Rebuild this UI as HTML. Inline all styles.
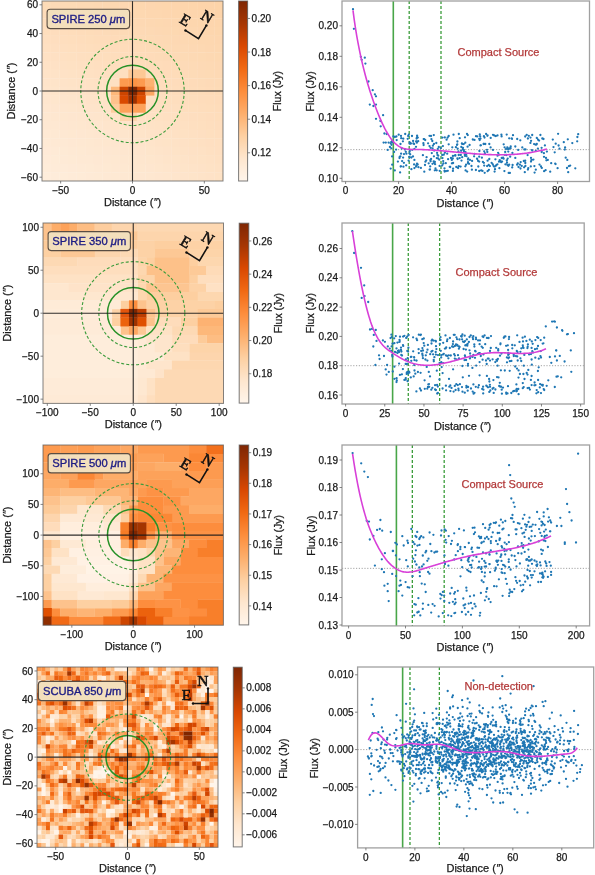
<!DOCTYPE html>
<html><head><meta charset="utf-8"><style>
html,body{margin:0;padding:0;background:#fff;}
svg{display:block;filter:blur(0.3px);font-family:"Liberation Sans",sans-serif;}
</style></head><body>
<svg width="595" height="875" viewBox="0 0 595 875">
<defs><clipPath id="L1c"><rect x="42" y="1" width="181.00" height="180.00"/></clipPath><linearGradient id="L1g" x1="0" y1="0" x2="0" y2="1"><stop offset="0.000" stop-color="#7f2704"/><stop offset="0.125" stop-color="#a63603"/><stop offset="0.250" stop-color="#d94801"/><stop offset="0.375" stop-color="#f16913"/><stop offset="0.500" stop-color="#fd8d3c"/><stop offset="0.625" stop-color="#fdae6b"/><stop offset="0.750" stop-color="#fdd0a2"/><stop offset="0.875" stop-color="#fee6ce"/><stop offset="1.000" stop-color="#fff5eb"/></linearGradient><clipPath id="L2c"><rect x="43" y="223" width="180.50" height="180.40"/></clipPath><linearGradient id="L2g" x1="0" y1="0" x2="0" y2="1"><stop offset="0.000" stop-color="#7f2704"/><stop offset="0.125" stop-color="#a63603"/><stop offset="0.250" stop-color="#d94801"/><stop offset="0.375" stop-color="#f16913"/><stop offset="0.500" stop-color="#fd8d3c"/><stop offset="0.625" stop-color="#fdae6b"/><stop offset="0.750" stop-color="#fdd0a2"/><stop offset="0.875" stop-color="#fee6ce"/><stop offset="1.000" stop-color="#fff5eb"/></linearGradient><clipPath id="L3c"><rect x="43" y="445" width="180.40" height="180.20"/></clipPath><linearGradient id="L3g" x1="0" y1="0" x2="0" y2="1"><stop offset="0.000" stop-color="#7f2704"/><stop offset="0.125" stop-color="#a63603"/><stop offset="0.250" stop-color="#d94801"/><stop offset="0.375" stop-color="#f16913"/><stop offset="0.500" stop-color="#fd8d3c"/><stop offset="0.625" stop-color="#fdae6b"/><stop offset="0.750" stop-color="#fdd0a2"/><stop offset="0.875" stop-color="#fee6ce"/><stop offset="1.000" stop-color="#fff5eb"/></linearGradient><clipPath id="L4c"><rect x="37" y="667" width="181.00" height="180.30"/></clipPath><linearGradient id="L4g" x1="0" y1="0" x2="0" y2="1"><stop offset="0.000" stop-color="#7f2704"/><stop offset="0.125" stop-color="#a63603"/><stop offset="0.250" stop-color="#d94801"/><stop offset="0.375" stop-color="#f16913"/><stop offset="0.500" stop-color="#fd8d3c"/><stop offset="0.625" stop-color="#fdae6b"/><stop offset="0.750" stop-color="#fdd0a2"/><stop offset="0.875" stop-color="#fee6ce"/><stop offset="1.000" stop-color="#fff5eb"/></linearGradient><clipPath id="R1c"><rect x="342" y="1" width="247.50" height="180.50"/></clipPath><clipPath id="R2c"><rect x="342" y="223" width="242.20" height="181.00"/></clipPath><clipPath id="R3c"><rect x="342" y="445" width="247.60" height="180.90"/></clipPath><clipPath id="R4c"><rect x="357.6" y="667" width="236.10" height="180.90"/></clipPath><filter id="hb60" x="-5%" y="-5%" width="110%" height="110%"><feGaussianBlur stdDeviation="0.6"/></filter><filter id="hb45" x="-5%" y="-5%" width="110%" height="110%"><feGaussianBlur stdDeviation="0.45"/></filter></defs>
<rect width="595" height="875" fill="#fff"/>
<g clip-path="url(#L1c)">
<g filter="url(#hb60)"><g transform="translate(42.000,1.000) scale(8.6190,8.5714)">
<path d="M-2 -2h1.04v1.04h-1.04zM-1 -2h1.04v1.04h-1.04zM0 -2h1.04v1.04h-1.04zM-2 -1h1.04v1.04h-1.04zM-1 -1h1.04v1.04h-1.04zM0 -1h1.04v1.04h-1.04zM-2 0h1.04v1.04h-1.04zM-1 0h1.04v1.04h-1.04zM0 0h1.04v1.04h-1.04zM3 1h1.04v1.04h-1.04zM5 2h1.04v1.04h-1.04zM10 4h1.04v1.04h-1.04zM12 5h1.04v1.04h-1.04zM17 8h1.04v1.04h-1.04zM20 10h1.04v1.04h-1.04zM21 10h1.04v1.04h-1.04zM22 10h1.04v1.04h-1.04z" fill="#fddbb7"/>
<path d="M1 -2h1.04v1.04h-1.04zM2 -2h1.04v1.04h-1.04zM1 -1h1.04v1.04h-1.04zM2 -1h1.04v1.04h-1.04zM1 0h1.04v1.04h-1.04zM2 0h1.04v1.04h-1.04zM4 1h1.04v1.04h-1.04zM5 1h1.04v1.04h-1.04zM7 2h1.04v1.04h-1.04zM9 3h1.04v1.04h-1.04zM11 4h1.04v1.04h-1.04zM13 5h1.04v1.04h-1.04zM15 6h1.04v1.04h-1.04zM17 7h1.04v1.04h-1.04zM18 8h1.04v1.04h-1.04zM20 9h1.04v1.04h-1.04zM21 9h1.04v1.04h-1.04zM22 9h1.04v1.04h-1.04z" fill="#fddab6"/>
<path d="M3 -2h1.04v1.04h-1.04zM3 -1h1.04v1.04h-1.04zM3 0h1.04v1.04h-1.04zM8 2h1.04v1.04h-1.04zM10 3h1.04v1.04h-1.04zM12 4h1.04v1.04h-1.04zM14 5h1.04v1.04h-1.04zM16 6h1.04v1.04h-1.04zM19 8h1.04v1.04h-1.04z" fill="#fddab5"/>
<path d="M4 -2h1.04v1.04h-1.04zM5 -2h1.04v1.04h-1.04zM4 -1h1.04v1.04h-1.04zM5 -1h1.04v1.04h-1.04zM4 0h1.04v1.04h-1.04zM5 0h1.04v1.04h-1.04zM7 1h1.04v1.04h-1.04zM9 2h1.04v1.04h-1.04zM10 2h1.04v1.04h-1.04zM12 3h1.04v1.04h-1.04zM14 4h1.04v1.04h-1.04zM15 5h1.04v1.04h-1.04zM16 5h1.04v1.04h-1.04zM17 6h1.04v1.04h-1.04zM19 7h1.04v1.04h-1.04zM20 8h1.04v1.04h-1.04zM21 8h1.04v1.04h-1.04zM22 8h1.04v1.04h-1.04z" fill="#fdd9b4"/>
<path d="M6 -2h1.04v1.04h-1.04zM6 -1h1.04v1.04h-1.04zM6 0h1.04v1.04h-1.04zM9 1h1.04v1.04h-1.04zM11 2h1.04v1.04h-1.04zM13 3h1.04v1.04h-1.04zM15 4h1.04v1.04h-1.04zM17 5h1.04v1.04h-1.04zM20 7h1.04v1.04h-1.04zM21 7h1.04v1.04h-1.04zM22 7h1.04v1.04h-1.04z" fill="#fdd8b3"/>
<path d="M7 -2h1.04v1.04h-1.04zM7 -1h1.04v1.04h-1.04zM7 0h1.04v1.04h-1.04zM10 1h1.04v1.04h-1.04zM12 2h1.04v1.04h-1.04zM14 3h1.04v1.04h-1.04zM16 4h1.04v1.04h-1.04zM18 5h1.04v1.04h-1.04zM19 6h1.04v1.04h-1.04z" fill="#fdd8b2"/>
<path d="M8 -2h1.04v1.04h-1.04zM8 -1h1.04v1.04h-1.04zM8 0h1.04v1.04h-1.04zM11 1h1.04v1.04h-1.04zM13 2h1.04v1.04h-1.04zM15 3h1.04v1.04h-1.04zM17 4h1.04v1.04h-1.04zM20 6h1.04v1.04h-1.04zM21 6h1.04v1.04h-1.04zM22 6h1.04v1.04h-1.04z" fill="#fdd8b1"/>
<path d="M9 -2h1.04v1.04h-1.04zM9 -1h1.04v1.04h-1.04zM9 0h1.04v1.04h-1.04zM14 2h1.04v1.04h-1.04zM16 3h1.04v1.04h-1.04zM19 5h1.04v1.04h-1.04z" fill="#fdd7b1"/>
<path d="M10 -2h1.04v1.04h-1.04zM10 -1h1.04v1.04h-1.04zM10 0h1.04v1.04h-1.04zM12 1h1.04v1.04h-1.04zM13 1h1.04v1.04h-1.04zM15 2h1.04v1.04h-1.04zM17 3h1.04v1.04h-1.04zM18 4h1.04v1.04h-1.04zM19 4h1.04v1.04h-1.04zM20 5h1.04v1.04h-1.04zM21 5h1.04v1.04h-1.04zM22 5h1.04v1.04h-1.04z" fill="#fdd7b0"/>
<path d="M11 -2h1.04v1.04h-1.04zM11 -1h1.04v1.04h-1.04zM11 0h1.04v1.04h-1.04z" fill="#fdd7af"/>
<path d="M12 -2h1.04v1.04h-1.04zM12 -1h1.04v1.04h-1.04zM12 0h1.04v1.04h-1.04zM14 1h1.04v1.04h-1.04zM16 2h1.04v1.04h-1.04zM18 3h1.04v1.04h-1.04zM20 4h1.04v1.04h-1.04zM21 4h1.04v1.04h-1.04zM22 4h1.04v1.04h-1.04z" fill="#fdd6af"/>
<path d="M13 -2h1.04v1.04h-1.04zM13 -1h1.04v1.04h-1.04zM13 0h1.04v1.04h-1.04zM15 1h1.04v1.04h-1.04zM17 2h1.04v1.04h-1.04zM19 3h1.04v1.04h-1.04z" fill="#fdd6ae"/>
<path d="M14 -2h1.04v1.04h-1.04zM14 -1h1.04v1.04h-1.04zM14 0h1.04v1.04h-1.04zM16 1h1.04v1.04h-1.04zM18 2h1.04v1.04h-1.04zM20 3h1.04v1.04h-1.04zM21 3h1.04v1.04h-1.04zM22 3h1.04v1.04h-1.04z" fill="#fdd6ad"/>
<path d="M15 -2h1.04v1.04h-1.04zM15 -1h1.04v1.04h-1.04zM15 0h1.04v1.04h-1.04zM17 1h1.04v1.04h-1.04zM19 2h1.04v1.04h-1.04zM9 13h1.04v1.04h-1.04zM10 13h1.04v1.04h-1.04z" fill="#fdd5ad"/>
<path d="M16 -2h1.04v1.04h-1.04zM16 -1h1.04v1.04h-1.04zM16 0h1.04v1.04h-1.04zM18 1h1.04v1.04h-1.04zM20 2h1.04v1.04h-1.04zM21 2h1.04v1.04h-1.04zM22 2h1.04v1.04h-1.04z" fill="#fdd5ac"/>
<path d="M17 -2h1.04v1.04h-1.04zM17 -1h1.04v1.04h-1.04zM17 0h1.04v1.04h-1.04zM19 1h1.04v1.04h-1.04z" fill="#fdd5ab"/>
<path d="M18 -2h1.04v1.04h-1.04zM19 -2h1.04v1.04h-1.04zM18 -1h1.04v1.04h-1.04zM19 -1h1.04v1.04h-1.04zM18 0h1.04v1.04h-1.04zM19 0h1.04v1.04h-1.04zM20 1h1.04v1.04h-1.04zM21 1h1.04v1.04h-1.04zM22 1h1.04v1.04h-1.04z" fill="#fdd4aa"/>
<path d="M20 -2h1.04v1.04h-1.04zM21 -2h1.04v1.04h-1.04zM22 -2h1.04v1.04h-1.04zM20 -1h1.04v1.04h-1.04zM21 -1h1.04v1.04h-1.04zM22 -1h1.04v1.04h-1.04zM20 0h1.04v1.04h-1.04zM21 0h1.04v1.04h-1.04zM22 0h1.04v1.04h-1.04z" fill="#fdd4a9"/>
<path d="M-2 1h1.04v1.04h-1.04zM-1 1h1.04v1.04h-1.04zM0 1h1.04v1.04h-1.04zM3 2h1.04v1.04h-1.04zM5 3h1.04v1.04h-1.04zM15 8h1.04v1.04h-1.04zM18 10h1.04v1.04h-1.04z" fill="#fedcb9"/>
<path d="M1 1h1.04v1.04h-1.04zM4 2h1.04v1.04h-1.04zM11 5h1.04v1.04h-1.04zM16 8h1.04v1.04h-1.04zM19 10h1.04v1.04h-1.04z" fill="#fedbb8"/>
<path d="M2 1h1.04v1.04h-1.04zM7 3h1.04v1.04h-1.04zM9 4h1.04v1.04h-1.04zM13 6h1.04v1.04h-1.04zM15 7h1.04v1.04h-1.04zM18 9h1.04v1.04h-1.04z" fill="#fddbb8"/>
<path d="M6 1h1.04v1.04h-1.04zM11 3h1.04v1.04h-1.04zM13 4h1.04v1.04h-1.04zM18 7h1.04v1.04h-1.04z" fill="#fdd9b5"/>
<path d="M8 1h1.04v1.04h-1.04zM18 6h1.04v1.04h-1.04z" fill="#fdd9b3"/>
<path d="M-2 2h1.04v1.04h-1.04zM-1 2h1.04v1.04h-1.04zM0 2h1.04v1.04h-1.04zM3 3h1.04v1.04h-1.04zM5 4h1.04v1.04h-1.04zM11 7h1.04v1.04h-1.04zM13 8h1.04v1.04h-1.04zM16 10h1.04v1.04h-1.04zM19 12h1.04v1.04h-1.04zM20 13h1.04v1.04h-1.04zM21 13h1.04v1.04h-1.04zM22 13h1.04v1.04h-1.04z" fill="#feddbb"/>
<path d="M1 2h1.04v1.04h-1.04zM8 5h1.04v1.04h-1.04zM10 6h1.04v1.04h-1.04zM15 9h1.04v1.04h-1.04zM18 11h1.04v1.04h-1.04z" fill="#fedcbb"/>
<path d="M2 2h1.04v1.04h-1.04zM4 3h1.04v1.04h-1.04zM6 4h1.04v1.04h-1.04zM7 4h1.04v1.04h-1.04zM9 5h1.04v1.04h-1.04zM11 6h1.04v1.04h-1.04zM12 7h1.04v1.04h-1.04zM13 7h1.04v1.04h-1.04zM14 8h1.04v1.04h-1.04zM16 9h1.04v1.04h-1.04zM17 10h1.04v1.04h-1.04zM19 11h1.04v1.04h-1.04zM20 12h1.04v1.04h-1.04zM21 12h1.04v1.04h-1.04zM22 12h1.04v1.04h-1.04z" fill="#fedcba"/>
<path d="M6 2h1.04v1.04h-1.04zM8 3h1.04v1.04h-1.04zM14 6h1.04v1.04h-1.04zM16 7h1.04v1.04h-1.04zM19 9h1.04v1.04h-1.04z" fill="#fddab7"/>
<path d="M-2 3h1.04v1.04h-1.04zM-1 3h1.04v1.04h-1.04zM0 3h1.04v1.04h-1.04zM3 4h1.04v1.04h-1.04zM5 5h1.04v1.04h-1.04zM7 6h1.04v1.04h-1.04zM9 7h1.04v1.04h-1.04zM14 10h1.04v1.04h-1.04zM17 12h1.04v1.04h-1.04z" fill="#fedebd"/>
<path d="M1 3h1.04v1.04h-1.04zM13 9h1.04v1.04h-1.04zM16 11h1.04v1.04h-1.04zM19 13h1.04v1.04h-1.04zM20 14h1.04v1.04h-1.04zM21 14h1.04v1.04h-1.04zM22 14h1.04v1.04h-1.04z" fill="#feddbd"/>
<path d="M2 3h1.04v1.04h-1.04zM4 4h1.04v1.04h-1.04zM6 5h1.04v1.04h-1.04zM7 5h1.04v1.04h-1.04zM8 6h1.04v1.04h-1.04zM9 6h1.04v1.04h-1.04zM10 7h1.04v1.04h-1.04zM12 8h1.04v1.04h-1.04zM14 9h1.04v1.04h-1.04zM15 10h1.04v1.04h-1.04zM17 11h1.04v1.04h-1.04zM18 12h1.04v1.04h-1.04z" fill="#feddbc"/>
<path d="M6 3h1.04v1.04h-1.04zM8 4h1.04v1.04h-1.04zM10 5h1.04v1.04h-1.04zM12 6h1.04v1.04h-1.04zM14 7h1.04v1.04h-1.04zM17 9h1.04v1.04h-1.04zM20 11h1.04v1.04h-1.04zM21 11h1.04v1.04h-1.04zM22 11h1.04v1.04h-1.04z" fill="#fedbb9"/>
<path d="M-2 4h1.04v1.04h-1.04zM-1 4h1.04v1.04h-1.04zM0 4h1.04v1.04h-1.04zM2 5h1.04v1.04h-1.04zM4 6h1.04v1.04h-1.04zM6 7h1.04v1.04h-1.04zM8 8h1.04v1.04h-1.04zM13 11h1.04v1.04h-1.04zM15 12h1.04v1.04h-1.04zM16 13h1.04v1.04h-1.04zM17 14h1.04v1.04h-1.04zM20 16h1.04v1.04h-1.04zM21 16h1.04v1.04h-1.04zM22 16h1.04v1.04h-1.04z" fill="#fedfc0"/>
<path d="M1 4h1.04v1.04h-1.04zM13 10h1.04v1.04h-1.04zM17 13h1.04v1.04h-1.04z" fill="#fedebf"/>
<path d="M2 4h1.04v1.04h-1.04zM4 5h1.04v1.04h-1.04zM6 6h1.04v1.04h-1.04zM8 7h1.04v1.04h-1.04zM15 11h1.04v1.04h-1.04zM16 12h1.04v1.04h-1.04zM18 13h1.04v1.04h-1.04zM19 14h1.04v1.04h-1.04zM20 15h1.04v1.04h-1.04zM21 15h1.04v1.04h-1.04zM22 15h1.04v1.04h-1.04z" fill="#fedebe"/>
<path d="M-2 5h1.04v1.04h-1.04zM-1 5h1.04v1.04h-1.04zM0 5h1.04v1.04h-1.04zM2 6h1.04v1.04h-1.04zM4 7h1.04v1.04h-1.04zM6 8h1.04v1.04h-1.04zM8 9h1.04v1.04h-1.04zM13 12h1.04v1.04h-1.04zM14 13h1.04v1.04h-1.04zM16 14h1.04v1.04h-1.04zM17 15h1.04v1.04h-1.04zM18 16h1.04v1.04h-1.04zM19 17h1.04v1.04h-1.04zM20 18h1.04v1.04h-1.04zM21 18h1.04v1.04h-1.04zM22 18h1.04v1.04h-1.04z" fill="#fee0c2"/>
<path d="M1 5h1.04v1.04h-1.04zM14 12h1.04v1.04h-1.04zM18 15h1.04v1.04h-1.04zM19 16h1.04v1.04h-1.04zM20 17h1.04v1.04h-1.04zM21 17h1.04v1.04h-1.04zM22 17h1.04v1.04h-1.04z" fill="#fedfc1"/>
<path d="M3 5h1.04v1.04h-1.04zM5 6h1.04v1.04h-1.04zM7 7h1.04v1.04h-1.04zM9 8h1.04v1.04h-1.04zM14 11h1.04v1.04h-1.04zM18 14h1.04v1.04h-1.04zM19 15h1.04v1.04h-1.04z" fill="#fedfbf"/>
<path d="M-2 6h1.04v1.04h-1.04zM-1 6h1.04v1.04h-1.04zM0 6h1.04v1.04h-1.04zM2 7h1.04v1.04h-1.04zM4 8h1.04v1.04h-1.04zM6 9h1.04v1.04h-1.04zM14 14h1.04v1.04h-1.04zM15 15h1.04v1.04h-1.04zM18 17h1.04v1.04h-1.04zM19 18h1.04v1.04h-1.04zM20 19h1.04v1.04h-1.04zM21 19h1.04v1.04h-1.04zM22 19h1.04v1.04h-1.04z" fill="#fee1c4"/>
<path d="M1 6h1.04v1.04h-1.04zM7 9h1.04v1.04h-1.04zM12 12h1.04v1.04h-1.04zM15 14h1.04v1.04h-1.04z" fill="#fee0c3"/>
<path d="M3 6h1.04v1.04h-1.04zM5 7h1.04v1.04h-1.04zM7 8h1.04v1.04h-1.04zM12 11h1.04v1.04h-1.04zM15 13h1.04v1.04h-1.04z" fill="#fee0c1"/>
<path d="M-2 7h1.04v1.04h-1.04zM-1 7h1.04v1.04h-1.04zM0 7h1.04v1.04h-1.04zM2 8h1.04v1.04h-1.04zM4 9h1.04v1.04h-1.04zM6 10h1.04v1.04h-1.04zM11 13h1.04v1.04h-1.04zM12 14h1.04v1.04h-1.04zM14 15h1.04v1.04h-1.04zM15 16h1.04v1.04h-1.04zM16 17h1.04v1.04h-1.04zM17 18h1.04v1.04h-1.04z" fill="#fee2c6"/>
<path d="M1 7h1.04v1.04h-1.04zM7 10h1.04v1.04h-1.04zM12 13h1.04v1.04h-1.04zM16 16h1.04v1.04h-1.04zM17 17h1.04v1.04h-1.04z" fill="#fee1c5"/>
<path d="M3 7h1.04v1.04h-1.04zM5 8h1.04v1.04h-1.04zM13 13h1.04v1.04h-1.04zM16 15h1.04v1.04h-1.04zM17 16h1.04v1.04h-1.04z" fill="#fee1c3"/>
<path d="M-2 8h1.04v1.04h-1.04zM-1 8h1.04v1.04h-1.04zM0 8h1.04v1.04h-1.04zM2 9h1.04v1.04h-1.04zM4 10h1.04v1.04h-1.04zM6 11h1.04v1.04h-1.04zM11 14h1.04v1.04h-1.04zM12 15h1.04v1.04h-1.04zM13 16h1.04v1.04h-1.04zM16 18h1.04v1.04h-1.04zM17 19h1.04v1.04h-1.04zM18 20h1.04v1.04h-1.04zM18 21h1.04v1.04h-1.04zM18 22h1.04v1.04h-1.04z" fill="#fee3c8"/>
<path d="M1 8h1.04v1.04h-1.04zM3 9h1.04v1.04h-1.04zM14 16h1.04v1.04h-1.04zM15 17h1.04v1.04h-1.04z" fill="#fee3c7"/>
<path d="M3 8h1.04v1.04h-1.04zM5 9h1.04v1.04h-1.04zM13 14h1.04v1.04h-1.04zM18 18h1.04v1.04h-1.04zM19 19h1.04v1.04h-1.04zM20 20h1.04v1.04h-1.04zM21 20h1.04v1.04h-1.04zM22 20h1.04v1.04h-1.04zM20 21h1.04v1.04h-1.04zM21 21h1.04v1.04h-1.04zM22 21h1.04v1.04h-1.04zM20 22h1.04v1.04h-1.04zM21 22h1.04v1.04h-1.04zM22 22h1.04v1.04h-1.04z" fill="#fee2c5"/>
<path d="M10 8h1.04v1.04h-1.04zM11 8h1.04v1.04h-1.04z" fill="#fdc895"/>
<path d="M-2 9h1.04v1.04h-1.04zM-1 9h1.04v1.04h-1.04zM0 9h1.04v1.04h-1.04zM2 10h1.04v1.04h-1.04zM4 11h1.04v1.04h-1.04zM6 12h1.04v1.04h-1.04zM7 13h1.04v1.04h-1.04zM9 14h1.04v1.04h-1.04zM10 15h1.04v1.04h-1.04zM12 16h1.04v1.04h-1.04zM13 17h1.04v1.04h-1.04zM14 18h1.04v1.04h-1.04z" fill="#fee4ca"/>
<path d="M1 9h1.04v1.04h-1.04zM3 10h1.04v1.04h-1.04zM8 13h1.04v1.04h-1.04zM11 15h1.04v1.04h-1.04zM15 18h1.04v1.04h-1.04zM16 19h1.04v1.04h-1.04zM17 20h1.04v1.04h-1.04zM17 21h1.04v1.04h-1.04zM17 22h1.04v1.04h-1.04z" fill="#fee4c9"/>
<path d="M9 9h1.04v1.04h-1.04zM11 9h1.04v1.04h-1.04z" fill="#fd9a4f"/>
<path d="M10 9h1.04v1.04h-1.04z" fill="#fd9547"/>
<path d="M12 9h1.04v1.04h-1.04z" fill="#fdb272"/>
<path d="M-2 10h1.04v1.04h-1.04zM-1 10h1.04v1.04h-1.04zM0 10h1.04v1.04h-1.04zM2 11h1.04v1.04h-1.04zM4 12h1.04v1.04h-1.04zM6 13h1.04v1.04h-1.04zM7 14h1.04v1.04h-1.04zM9 15h1.04v1.04h-1.04zM10 16h1.04v1.04h-1.04zM13 18h1.04v1.04h-1.04zM14 19h1.04v1.04h-1.04zM15 20h1.04v1.04h-1.04zM15 21h1.04v1.04h-1.04zM15 22h1.04v1.04h-1.04z" fill="#fee5cc"/>
<path d="M1 10h1.04v1.04h-1.04zM3 11h1.04v1.04h-1.04zM8 14h1.04v1.04h-1.04zM12 17h1.04v1.04h-1.04z" fill="#fee5cb"/>
<path d="M5 10h1.04v1.04h-1.04zM7 11h1.04v1.04h-1.04zM13 15h1.04v1.04h-1.04zM18 19h1.04v1.04h-1.04zM19 20h1.04v1.04h-1.04zM19 21h1.04v1.04h-1.04zM19 22h1.04v1.04h-1.04z" fill="#fee2c7"/>
<path d="M8 10h1.04v1.04h-1.04z" fill="#fdb87a"/>
<path d="M9 10h1.04v1.04h-1.04zM11 10h1.04v1.04h-1.04z" fill="#cd4401"/>
<path d="M10 10h1.04v1.04h-1.04z" fill="#7f2704"/>
<path d="M12 10h1.04v1.04h-1.04z" fill="#fda762"/>
<path d="M-2 11h1.04v1.04h-1.04zM-1 11h1.04v1.04h-1.04zM0 11h1.04v1.04h-1.04zM2 12h1.04v1.04h-1.04zM4 13h1.04v1.04h-1.04zM5 14h1.04v1.04h-1.04zM6 14h1.04v1.04h-1.04zM7 15h1.04v1.04h-1.04zM9 16h1.04v1.04h-1.04zM10 17h1.04v1.04h-1.04zM11 18h1.04v1.04h-1.04zM14 20h1.04v1.04h-1.04zM14 21h1.04v1.04h-1.04zM14 22h1.04v1.04h-1.04z" fill="#fee6ce"/>
<path d="M1 11h1.04v1.04h-1.04zM3 12h1.04v1.04h-1.04zM12 18h1.04v1.04h-1.04zM13 19h1.04v1.04h-1.04z" fill="#fee6cd"/>
<path d="M5 11h1.04v1.04h-1.04zM7 12h1.04v1.04h-1.04zM10 14h1.04v1.04h-1.04zM14 17h1.04v1.04h-1.04z" fill="#fee3c9"/>
<path d="M8 11h1.04v1.04h-1.04z" fill="#fdc28c"/>
<path d="M9 11h1.04v1.04h-1.04z" fill="#d94801"/>
<path d="M10 11h1.04v1.04h-1.04z" fill="#9e3303"/>
<path d="M11 11h1.04v1.04h-1.04z" fill="#df5005"/>
<path d="M-2 12h1.04v1.04h-1.04zM-1 12h1.04v1.04h-1.04zM0 12h1.04v1.04h-1.04zM1 13h1.04v1.04h-1.04zM3 14h1.04v1.04h-1.04zM5 15h1.04v1.04h-1.04zM6 16h1.04v1.04h-1.04zM8 17h1.04v1.04h-1.04zM9 18h1.04v1.04h-1.04zM10 19h1.04v1.04h-1.04zM12 20h1.04v1.04h-1.04zM12 21h1.04v1.04h-1.04zM12 22h1.04v1.04h-1.04z" fill="#fee7d0"/>
<path d="M1 12h1.04v1.04h-1.04zM3 13h1.04v1.04h-1.04zM6 15h1.04v1.04h-1.04zM8 16h1.04v1.04h-1.04zM9 17h1.04v1.04h-1.04zM12 19h1.04v1.04h-1.04zM13 20h1.04v1.04h-1.04zM13 21h1.04v1.04h-1.04zM13 22h1.04v1.04h-1.04z" fill="#fee6cf"/>
<path d="M5 12h1.04v1.04h-1.04zM11 16h1.04v1.04h-1.04zM15 19h1.04v1.04h-1.04zM16 20h1.04v1.04h-1.04zM16 21h1.04v1.04h-1.04zM16 22h1.04v1.04h-1.04z" fill="#fee4cb"/>
<path d="M8 12h1.04v1.04h-1.04z" fill="#fdcd9e"/>
<path d="M9 12h1.04v1.04h-1.04zM10 12h1.04v1.04h-1.04zM11 12h1.04v1.04h-1.04z" fill="#fda25a"/>
<path d="M-2 13h1.04v1.04h-1.04zM-1 13h1.04v1.04h-1.04zM0 13h1.04v1.04h-1.04zM3 15h1.04v1.04h-1.04zM5 16h1.04v1.04h-1.04zM6 17h1.04v1.04h-1.04zM8 18h1.04v1.04h-1.04zM9 19h1.04v1.04h-1.04zM10 20h1.04v1.04h-1.04zM10 21h1.04v1.04h-1.04zM10 22h1.04v1.04h-1.04z" fill="#fee8d1"/>
<path d="M2 13h1.04v1.04h-1.04zM4 14h1.04v1.04h-1.04zM7 16h1.04v1.04h-1.04zM10 18h1.04v1.04h-1.04zM11 19h1.04v1.04h-1.04z" fill="#fee7cf"/>
<path d="M5 13h1.04v1.04h-1.04zM8 15h1.04v1.04h-1.04zM11 17h1.04v1.04h-1.04z" fill="#fee5cd"/>
<path d="M-2 14h1.04v1.04h-1.04zM-1 14h1.04v1.04h-1.04zM0 14h1.04v1.04h-1.04zM1 14h1.04v1.04h-1.04zM2 15h1.04v1.04h-1.04zM4 16h1.04v1.04h-1.04zM5 17h1.04v1.04h-1.04zM7 18h1.04v1.04h-1.04zM8 19h1.04v1.04h-1.04zM9 20h1.04v1.04h-1.04zM9 21h1.04v1.04h-1.04zM9 22h1.04v1.04h-1.04z" fill="#fee8d2"/>
<path d="M2 14h1.04v1.04h-1.04zM4 15h1.04v1.04h-1.04zM7 17h1.04v1.04h-1.04zM11 20h1.04v1.04h-1.04zM11 21h1.04v1.04h-1.04zM11 22h1.04v1.04h-1.04z" fill="#fee7d1"/>
<path d="M-2 15h1.04v1.04h-1.04zM-1 15h1.04v1.04h-1.04zM0 15h1.04v1.04h-1.04zM1 16h1.04v1.04h-1.04zM2 16h1.04v1.04h-1.04zM3 17h1.04v1.04h-1.04zM4 18h1.04v1.04h-1.04zM5 18h1.04v1.04h-1.04zM6 19h1.04v1.04h-1.04zM7 20h1.04v1.04h-1.04zM7 21h1.04v1.04h-1.04zM7 22h1.04v1.04h-1.04z" fill="#fee9d4"/>
<path d="M1 15h1.04v1.04h-1.04zM4 17h1.04v1.04h-1.04zM7 19h1.04v1.04h-1.04zM8 20h1.04v1.04h-1.04zM8 21h1.04v1.04h-1.04zM8 22h1.04v1.04h-1.04z" fill="#fee9d3"/>
<path d="M-2 16h1.04v1.04h-1.04zM-1 16h1.04v1.04h-1.04zM0 16h1.04v1.04h-1.04zM2 17h1.04v1.04h-1.04zM3 18h1.04v1.04h-1.04zM5 19h1.04v1.04h-1.04zM6 20h1.04v1.04h-1.04zM6 21h1.04v1.04h-1.04zM6 22h1.04v1.04h-1.04z" fill="#feead5"/>
<path d="M3 16h1.04v1.04h-1.04zM6 18h1.04v1.04h-1.04z" fill="#fee8d3"/>
<path d="M-2 17h1.04v1.04h-1.04zM-1 17h1.04v1.04h-1.04zM0 17h1.04v1.04h-1.04zM3 19h1.04v1.04h-1.04z" fill="#feead7"/>
<path d="M1 17h1.04v1.04h-1.04zM2 18h1.04v1.04h-1.04zM4 19h1.04v1.04h-1.04zM5 20h1.04v1.04h-1.04zM5 21h1.04v1.04h-1.04zM5 22h1.04v1.04h-1.04z" fill="#feead6"/>
<path d="M-2 18h1.04v1.04h-1.04zM-1 18h1.04v1.04h-1.04zM0 18h1.04v1.04h-1.04zM1 19h1.04v1.04h-1.04zM2 19h1.04v1.04h-1.04zM3 20h1.04v1.04h-1.04zM3 21h1.04v1.04h-1.04zM3 22h1.04v1.04h-1.04z" fill="#feebd8"/>
<path d="M1 18h1.04v1.04h-1.04zM4 20h1.04v1.04h-1.04zM4 21h1.04v1.04h-1.04zM4 22h1.04v1.04h-1.04z" fill="#feebd7"/>
<path d="M-2 19h1.04v1.04h-1.04zM-1 19h1.04v1.04h-1.04zM0 19h1.04v1.04h-1.04zM2 20h1.04v1.04h-1.04zM2 21h1.04v1.04h-1.04zM2 22h1.04v1.04h-1.04z" fill="#feecd9"/>
<path d="M-2 20h1.04v1.04h-1.04zM-1 20h1.04v1.04h-1.04zM0 20h1.04v1.04h-1.04zM-2 21h1.04v1.04h-1.04zM-1 21h1.04v1.04h-1.04zM0 21h1.04v1.04h-1.04zM-2 22h1.04v1.04h-1.04zM-1 22h1.04v1.04h-1.04zM0 22h1.04v1.04h-1.04z" fill="#feeddb"/>
<path d="M1 20h1.04v1.04h-1.04zM1 21h1.04v1.04h-1.04zM1 22h1.04v1.04h-1.04z" fill="#feecda"/>
</g></g>
<circle cx="132.50" cy="91.00" r="25.86" fill="none" stroke="#279127" stroke-width="1.5"/>
<circle cx="132.50" cy="91.00" r="34.48" fill="none" stroke="#3c9c3c" stroke-width="1.1" stroke-dasharray="3 2"/>
<circle cx="132.50" cy="91.00" r="51.71" fill="none" stroke="#3c9c3c" stroke-width="1.1" stroke-dasharray="3 2"/>
<path d="M42 91.00H223M132.50 1V181" stroke="#1a1a1a" stroke-width="1.1" stroke-opacity="0.9"/>
</g>
<rect x="47.1" y="9.2" width="82.50" height="19.40" rx="3" ry="3" fill="#f3dfbc" stroke="#5a4d42" stroke-width="1.1"/>
<text x="88.35" y="22.60" font-size="11.2" text-anchor="middle" fill="#1c1c84" stroke="#1c1c84" stroke-width="0.35">SPIRE 250 <tspan font-style="italic">μ</tspan>m</text>
<path d="M206.43,25.40L198.50,38.60L185.44,30.44" fill="none" stroke="#111" stroke-width="1.6"/>
<circle cx="206.43" cy="25.40" r="1.2" fill="#111"/><circle cx="185.44" cy="30.44" r="1.2" fill="#111"/>
<text x="207.40" y="16.50" font-size="15.5" text-anchor="middle" dominant-baseline="central" fill="#111" stroke="#111" stroke-width="0.55" font-family="Liberation Serif" transform="rotate(31 207.40 16.50)">N</text>
<text x="185.40" y="19.80" font-size="15.5" text-anchor="middle" dominant-baseline="central" fill="#111" stroke="#111" stroke-width="0.55" font-family="Liberation Serif" transform="rotate(31 185.40 19.80)">E</text>
<rect x="42" y="1" width="181.00" height="180.00" fill="none" stroke="#5a5a5a" stroke-width="1" stroke-opacity="0.75"/>
<path d="M60.67 181v2.5" stroke="#666" stroke-width="0.8"/>
<text x="60.67" y="193.60" font-size="10" text-anchor="middle" fill="#1a1a1a" stroke="#1a1a1a" stroke-width="0.25">−50</text>
<path d="M132.50 181v2.5" stroke="#666" stroke-width="0.8"/>
<text x="132.50" y="193.60" font-size="10" text-anchor="middle" fill="#1a1a1a" stroke="#1a1a1a" stroke-width="0.25">0</text>
<path d="M204.33 181v2.5" stroke="#666" stroke-width="0.8"/>
<text x="204.33" y="193.60" font-size="10" text-anchor="middle" fill="#1a1a1a" stroke="#1a1a1a" stroke-width="0.25">50</text>
<path d="M39.5 4.81h2.5" stroke="#666" stroke-width="0.8"/>
<text x="38.00" y="8.41" font-size="10" text-anchor="end" fill="#1a1a1a" stroke="#1a1a1a" stroke-width="0.25">60</text>
<path d="M39.5 33.54h2.5" stroke="#666" stroke-width="0.8"/>
<text x="38.00" y="37.14" font-size="10" text-anchor="end" fill="#1a1a1a" stroke="#1a1a1a" stroke-width="0.25">40</text>
<path d="M39.5 62.27h2.5" stroke="#666" stroke-width="0.8"/>
<text x="38.00" y="65.87" font-size="10" text-anchor="end" fill="#1a1a1a" stroke="#1a1a1a" stroke-width="0.25">20</text>
<path d="M39.5 91.00h2.5" stroke="#666" stroke-width="0.8"/>
<text x="38.00" y="94.60" font-size="10" text-anchor="end" fill="#1a1a1a" stroke="#1a1a1a" stroke-width="0.25">0</text>
<path d="M39.5 119.73h2.5" stroke="#666" stroke-width="0.8"/>
<text x="38.00" y="123.33" font-size="10" text-anchor="end" fill="#1a1a1a" stroke="#1a1a1a" stroke-width="0.25">−20</text>
<path d="M39.5 148.46h2.5" stroke="#666" stroke-width="0.8"/>
<text x="38.00" y="152.06" font-size="10" text-anchor="end" fill="#1a1a1a" stroke="#1a1a1a" stroke-width="0.25">−40</text>
<path d="M39.5 177.19h2.5" stroke="#666" stroke-width="0.8"/>
<text x="38.00" y="180.79" font-size="10" text-anchor="end" fill="#1a1a1a" stroke="#1a1a1a" stroke-width="0.25">−60</text>
<text x="132.50" y="206.00" font-size="11" text-anchor="middle" fill="#1a1a1a" stroke="#1a1a1a" stroke-width="0.25">Distance (<tspan font-style="italic">″</tspan>)</text>
<text x="15.30" y="91.00" font-size="11" text-anchor="middle" fill="#1a1a1a" stroke="#1a1a1a" stroke-width="0.25" transform="rotate(-90 15.30 91.00)">Distance (<tspan font-style="italic">″</tspan>)</text>
<rect x="238.6" y="1" width="9.00" height="180.00" fill="url(#L1g)" stroke="#5a5a5a" stroke-width="1" stroke-opacity="0.8"/>
<path d="M247.6 152.79h2.5" stroke="#666" stroke-width="0.8"/>
<text x="251.60" y="156.39" font-size="10" text-anchor="start" fill="#1a1a1a" stroke="#1a1a1a" stroke-width="0.25">0.12</text>
<path d="M247.6 119.21h2.5" stroke="#666" stroke-width="0.8"/>
<text x="251.60" y="122.81" font-size="10" text-anchor="start" fill="#1a1a1a" stroke="#1a1a1a" stroke-width="0.25">0.14</text>
<path d="M247.6 85.63h2.5" stroke="#666" stroke-width="0.8"/>
<text x="251.60" y="89.23" font-size="10" text-anchor="start" fill="#1a1a1a" stroke="#1a1a1a" stroke-width="0.25">0.16</text>
<path d="M247.6 52.04h2.5" stroke="#666" stroke-width="0.8"/>
<text x="251.60" y="55.64" font-size="10" text-anchor="start" fill="#1a1a1a" stroke="#1a1a1a" stroke-width="0.25">0.18</text>
<path d="M247.6 18.46h2.5" stroke="#666" stroke-width="0.8"/>
<text x="251.60" y="22.06" font-size="10" text-anchor="start" fill="#1a1a1a" stroke="#1a1a1a" stroke-width="0.25">0.20</text>
<text x="281.00" y="91.00" font-size="10.5" text-anchor="middle" fill="#1a1a1a" stroke="#1a1a1a" stroke-width="0.25" transform="rotate(-90 281.00 91.00)">Flux (Jy)</text>
<g clip-path="url(#L2c)">
<g filter="url(#hb60)"><g transform="translate(43.000,223.000) scale(8.5952,8.5905)">
<path d="M-2 -2h1.04v1.04h-1.04zM-1 -2h1.04v1.04h-1.04zM0 -2h1.04v1.04h-1.04zM-2 -1h1.04v1.04h-1.04zM-1 -1h1.04v1.04h-1.04zM0 -1h1.04v1.04h-1.04zM-2 0h1.04v1.04h-1.04zM-1 0h1.04v1.04h-1.04zM0 0h1.04v1.04h-1.04zM-2 1h1.04v1.04h-1.04zM-1 1h1.04v1.04h-1.04zM0 1h1.04v1.04h-1.04zM12 11h1.04v1.04h-1.04zM9 12h1.04v1.04h-1.04z" fill="#fdc28c"/>
<path d="M1 -2h1.04v1.04h-1.04zM3 -2h1.04v1.04h-1.04zM1 -1h1.04v1.04h-1.04zM3 -1h1.04v1.04h-1.04zM1 0h1.04v1.04h-1.04zM3 0h1.04v1.04h-1.04z" fill="#fdad69"/>
<path d="M2 -2h1.04v1.04h-1.04zM2 -1h1.04v1.04h-1.04zM2 0h1.04v1.04h-1.04z" fill="#fda25a"/>
<path d="M4 -2h1.04v1.04h-1.04zM5 -2h1.04v1.04h-1.04zM4 -1h1.04v1.04h-1.04zM5 -1h1.04v1.04h-1.04zM4 0h1.04v1.04h-1.04zM5 0h1.04v1.04h-1.04zM19 13h1.04v1.04h-1.04zM20 13h1.04v1.04h-1.04zM21 13h1.04v1.04h-1.04zM22 13h1.04v1.04h-1.04z" fill="#fdbd83"/>
<path d="M6 -2h1.04v1.04h-1.04zM7 -2h1.04v1.04h-1.04zM6 -1h1.04v1.04h-1.04zM7 -1h1.04v1.04h-1.04zM6 0h1.04v1.04h-1.04zM7 0h1.04v1.04h-1.04zM1 2h1.04v1.04h-1.04zM2 2h1.04v1.04h-1.04zM3 2h1.04v1.04h-1.04zM4 2h1.04v1.04h-1.04zM5 2h1.04v1.04h-1.04zM6 2h1.04v1.04h-1.04zM7 2h1.04v1.04h-1.04zM8 2h1.04v1.04h-1.04zM9 2h1.04v1.04h-1.04zM10 2h1.04v1.04h-1.04z" fill="#fdcd9e"/>
<path d="M8 -2h1.04v1.04h-1.04zM9 -2h1.04v1.04h-1.04zM10 -2h1.04v1.04h-1.04zM8 -1h1.04v1.04h-1.04zM9 -1h1.04v1.04h-1.04zM10 -1h1.04v1.04h-1.04zM8 0h1.04v1.04h-1.04zM9 0h1.04v1.04h-1.04zM10 0h1.04v1.04h-1.04zM6 3h1.04v1.04h-1.04zM7 3h1.04v1.04h-1.04zM8 3h1.04v1.04h-1.04zM17 15h1.04v1.04h-1.04zM18 15h1.04v1.04h-1.04zM19 15h1.04v1.04h-1.04zM20 15h1.04v1.04h-1.04zM21 15h1.04v1.04h-1.04zM22 15h1.04v1.04h-1.04z" fill="#fdd5ad"/>
<path d="M11 -2h1.04v1.04h-1.04zM12 -2h1.04v1.04h-1.04zM13 -2h1.04v1.04h-1.04zM14 -2h1.04v1.04h-1.04zM15 -2h1.04v1.04h-1.04zM16 -2h1.04v1.04h-1.04zM17 -2h1.04v1.04h-1.04zM18 -2h1.04v1.04h-1.04zM19 -2h1.04v1.04h-1.04zM20 -2h1.04v1.04h-1.04zM21 -2h1.04v1.04h-1.04zM22 -2h1.04v1.04h-1.04zM11 -1h1.04v1.04h-1.04zM12 -1h1.04v1.04h-1.04zM13 -1h1.04v1.04h-1.04zM14 -1h1.04v1.04h-1.04zM15 -1h1.04v1.04h-1.04zM16 -1h1.04v1.04h-1.04zM17 -1h1.04v1.04h-1.04zM18 -1h1.04v1.04h-1.04zM19 -1h1.04v1.04h-1.04zM20 -1h1.04v1.04h-1.04zM21 -1h1.04v1.04h-1.04zM22 -1h1.04v1.04h-1.04zM11 0h1.04v1.04h-1.04zM12 0h1.04v1.04h-1.04zM13 0h1.04v1.04h-1.04zM14 0h1.04v1.04h-1.04zM15 0h1.04v1.04h-1.04zM16 0h1.04v1.04h-1.04zM17 0h1.04v1.04h-1.04zM18 0h1.04v1.04h-1.04zM19 0h1.04v1.04h-1.04zM20 0h1.04v1.04h-1.04zM21 0h1.04v1.04h-1.04zM22 0h1.04v1.04h-1.04z" fill="#fdd8b2"/>
<path d="M1 1h1.04v1.04h-1.04zM2 1h1.04v1.04h-1.04zM3 1h1.04v1.04h-1.04zM4 1h1.04v1.04h-1.04zM5 1h1.04v1.04h-1.04zM6 1h1.04v1.04h-1.04zM7 1h1.04v1.04h-1.04zM8 1h1.04v1.04h-1.04zM9 1h1.04v1.04h-1.04zM10 1h1.04v1.04h-1.04zM2 3h1.04v1.04h-1.04zM3 3h1.04v1.04h-1.04zM4 3h1.04v1.04h-1.04zM5 3h1.04v1.04h-1.04zM13 3h1.04v1.04h-1.04zM14 3h1.04v1.04h-1.04zM15 3h1.04v1.04h-1.04zM16 3h1.04v1.04h-1.04zM11 12h1.04v1.04h-1.04z" fill="#fdc895"/>
<path d="M11 1h1.04v1.04h-1.04zM12 1h1.04v1.04h-1.04zM13 1h1.04v1.04h-1.04zM14 1h1.04v1.04h-1.04zM15 1h1.04v1.04h-1.04zM16 1h1.04v1.04h-1.04zM17 1h1.04v1.04h-1.04zM18 1h1.04v1.04h-1.04zM19 1h1.04v1.04h-1.04zM20 1h1.04v1.04h-1.04zM21 1h1.04v1.04h-1.04zM22 1h1.04v1.04h-1.04z" fill="#fdd5ac"/>
<path d="M-2 2h1.04v1.04h-1.04zM-1 2h1.04v1.04h-1.04zM0 2h1.04v1.04h-1.04zM18 13h1.04v1.04h-1.04z" fill="#fdcb99"/>
<path d="M11 2h1.04v1.04h-1.04zM12 2h1.04v1.04h-1.04zM16 2h1.04v1.04h-1.04zM17 2h1.04v1.04h-1.04zM18 2h1.04v1.04h-1.04zM19 2h1.04v1.04h-1.04zM20 2h1.04v1.04h-1.04zM21 2h1.04v1.04h-1.04zM22 2h1.04v1.04h-1.04zM11 3h1.04v1.04h-1.04zM12 3h1.04v1.04h-1.04zM17 7h1.04v1.04h-1.04zM18 7h1.04v1.04h-1.04zM12 9h1.04v1.04h-1.04zM13 9h1.04v1.04h-1.04zM14 9h1.04v1.04h-1.04zM15 9h1.04v1.04h-1.04zM16 9h1.04v1.04h-1.04zM17 9h1.04v1.04h-1.04zM18 9h1.04v1.04h-1.04zM19 9h1.04v1.04h-1.04zM8 10h1.04v1.04h-1.04zM13 10h1.04v1.04h-1.04zM14 10h1.04v1.04h-1.04zM15 10h1.04v1.04h-1.04zM16 10h1.04v1.04h-1.04zM17 10h1.04v1.04h-1.04z" fill="#fdd2a6"/>
<path d="M13 2h1.04v1.04h-1.04zM14 2h1.04v1.04h-1.04zM15 2h1.04v1.04h-1.04zM12 4h1.04v1.04h-1.04zM17 4h1.04v1.04h-1.04zM17 6h1.04v1.04h-1.04zM12 8h1.04v1.04h-1.04zM13 8h1.04v1.04h-1.04zM14 8h1.04v1.04h-1.04zM15 8h1.04v1.04h-1.04zM16 8h1.04v1.04h-1.04zM17 8h1.04v1.04h-1.04zM9 9h1.04v1.04h-1.04zM20 9h1.04v1.04h-1.04zM21 9h1.04v1.04h-1.04zM22 9h1.04v1.04h-1.04z" fill="#fdcfa0"/>
<path d="M-2 3h1.04v1.04h-1.04zM-1 3h1.04v1.04h-1.04zM0 3h1.04v1.04h-1.04zM1 3h1.04v1.04h-1.04zM8 11h1.04v1.04h-1.04zM16 11h1.04v1.04h-1.04zM17 11h1.04v1.04h-1.04z" fill="#fdd0a2"/>
<path d="M9 3h1.04v1.04h-1.04zM10 3h1.04v1.04h-1.04zM-2 4h1.04v1.04h-1.04zM-1 4h1.04v1.04h-1.04zM0 4h1.04v1.04h-1.04zM1 4h1.04v1.04h-1.04zM2 4h1.04v1.04h-1.04zM3 4h1.04v1.04h-1.04zM15 12h1.04v1.04h-1.04zM16 12h1.04v1.04h-1.04zM17 12h1.04v1.04h-1.04zM14 17h1.04v1.04h-1.04zM15 17h1.04v1.04h-1.04zM16 17h1.04v1.04h-1.04zM17 17h1.04v1.04h-1.04zM18 17h1.04v1.04h-1.04zM19 17h1.04v1.04h-1.04zM20 17h1.04v1.04h-1.04zM21 17h1.04v1.04h-1.04zM22 17h1.04v1.04h-1.04zM13 18h1.04v1.04h-1.04zM14 18h1.04v1.04h-1.04zM15 18h1.04v1.04h-1.04zM16 18h1.04v1.04h-1.04zM17 18h1.04v1.04h-1.04zM18 18h1.04v1.04h-1.04zM19 18h1.04v1.04h-1.04zM20 18h1.04v1.04h-1.04zM21 18h1.04v1.04h-1.04zM22 18h1.04v1.04h-1.04zM13 19h1.04v1.04h-1.04zM14 19h1.04v1.04h-1.04zM15 19h1.04v1.04h-1.04zM16 19h1.04v1.04h-1.04zM17 19h1.04v1.04h-1.04zM18 19h1.04v1.04h-1.04zM19 19h1.04v1.04h-1.04zM20 19h1.04v1.04h-1.04zM21 19h1.04v1.04h-1.04zM22 19h1.04v1.04h-1.04zM13 20h1.04v1.04h-1.04zM14 20h1.04v1.04h-1.04zM15 20h1.04v1.04h-1.04zM16 20h1.04v1.04h-1.04zM17 20h1.04v1.04h-1.04zM18 20h1.04v1.04h-1.04zM19 20h1.04v1.04h-1.04zM20 20h1.04v1.04h-1.04zM21 20h1.04v1.04h-1.04zM22 20h1.04v1.04h-1.04zM13 21h1.04v1.04h-1.04zM14 21h1.04v1.04h-1.04zM15 21h1.04v1.04h-1.04zM16 21h1.04v1.04h-1.04zM17 21h1.04v1.04h-1.04zM18 21h1.04v1.04h-1.04zM19 21h1.04v1.04h-1.04zM20 21h1.04v1.04h-1.04zM21 21h1.04v1.04h-1.04zM22 21h1.04v1.04h-1.04zM13 22h1.04v1.04h-1.04zM14 22h1.04v1.04h-1.04zM15 22h1.04v1.04h-1.04zM16 22h1.04v1.04h-1.04zM17 22h1.04v1.04h-1.04zM18 22h1.04v1.04h-1.04zM19 22h1.04v1.04h-1.04zM20 22h1.04v1.04h-1.04zM21 22h1.04v1.04h-1.04zM22 22h1.04v1.04h-1.04z" fill="#fdd9b4"/>
<path d="M17 3h1.04v1.04h-1.04zM18 3h1.04v1.04h-1.04zM19 3h1.04v1.04h-1.04zM20 3h1.04v1.04h-1.04zM21 3h1.04v1.04h-1.04zM22 3h1.04v1.04h-1.04zM11 4h1.04v1.04h-1.04zM11 6h1.04v1.04h-1.04zM12 6h1.04v1.04h-1.04zM17 14h1.04v1.04h-1.04zM18 14h1.04v1.04h-1.04zM19 14h1.04v1.04h-1.04zM20 14h1.04v1.04h-1.04zM21 14h1.04v1.04h-1.04zM22 14h1.04v1.04h-1.04z" fill="#fdd4a9"/>
<path d="M4 4h1.04v1.04h-1.04zM5 4h1.04v1.04h-1.04zM6 4h1.04v1.04h-1.04zM7 4h1.04v1.04h-1.04zM8 4h1.04v1.04h-1.04zM13 11h1.04v1.04h-1.04zM14 11h1.04v1.04h-1.04zM15 11h1.04v1.04h-1.04zM15 13h1.04v1.04h-1.04zM16 13h1.04v1.04h-1.04zM17 13h1.04v1.04h-1.04z" fill="#fedcbb"/>
<path d="M9 4h1.04v1.04h-1.04zM10 4h1.04v1.04h-1.04zM-2 5h1.04v1.04h-1.04zM-1 5h1.04v1.04h-1.04zM0 5h1.04v1.04h-1.04zM1 5h1.04v1.04h-1.04zM2 5h1.04v1.04h-1.04zM3 5h1.04v1.04h-1.04zM4 5h1.04v1.04h-1.04zM5 5h1.04v1.04h-1.04zM6 5h1.04v1.04h-1.04zM7 5h1.04v1.04h-1.04zM8 5h1.04v1.04h-1.04zM9 5h1.04v1.04h-1.04zM10 5h1.04v1.04h-1.04zM18 6h1.04v1.04h-1.04zM19 6h1.04v1.04h-1.04zM20 6h1.04v1.04h-1.04zM21 6h1.04v1.04h-1.04zM22 6h1.04v1.04h-1.04zM15 14h1.04v1.04h-1.04zM16 14h1.04v1.04h-1.04zM12 20h1.04v1.04h-1.04zM12 21h1.04v1.04h-1.04zM12 22h1.04v1.04h-1.04z" fill="#fedebe"/>
<path d="M13 4h1.04v1.04h-1.04zM14 4h1.04v1.04h-1.04zM15 4h1.04v1.04h-1.04zM16 4h1.04v1.04h-1.04zM12 5h1.04v1.04h-1.04zM13 5h1.04v1.04h-1.04zM14 5h1.04v1.04h-1.04zM15 5h1.04v1.04h-1.04zM16 5h1.04v1.04h-1.04zM13 6h1.04v1.04h-1.04zM14 6h1.04v1.04h-1.04zM15 6h1.04v1.04h-1.04zM16 6h1.04v1.04h-1.04z" fill="#fdc189"/>
<path d="M18 4h1.04v1.04h-1.04zM19 4h1.04v1.04h-1.04zM20 4h1.04v1.04h-1.04zM21 4h1.04v1.04h-1.04zM22 4h1.04v1.04h-1.04zM11 5h1.04v1.04h-1.04zM11 7h1.04v1.04h-1.04zM11 8h1.04v1.04h-1.04zM18 8h1.04v1.04h-1.04zM19 8h1.04v1.04h-1.04zM20 8h1.04v1.04h-1.04zM21 8h1.04v1.04h-1.04zM22 8h1.04v1.04h-1.04z" fill="#fdd7af"/>
<path d="M17 5h1.04v1.04h-1.04zM18 5h1.04v1.04h-1.04zM18 10h1.04v1.04h-1.04zM19 10h1.04v1.04h-1.04zM20 10h1.04v1.04h-1.04zM21 10h1.04v1.04h-1.04zM22 10h1.04v1.04h-1.04z" fill="#fdca98"/>
<path d="M19 5h1.04v1.04h-1.04zM20 5h1.04v1.04h-1.04zM21 5h1.04v1.04h-1.04zM22 5h1.04v1.04h-1.04z" fill="#fedbb8"/>
<path d="M-2 6h1.04v1.04h-1.04zM-1 6h1.04v1.04h-1.04zM0 6h1.04v1.04h-1.04zM1 6h1.04v1.04h-1.04zM2 6h1.04v1.04h-1.04zM3 6h1.04v1.04h-1.04zM4 6h1.04v1.04h-1.04zM5 6h1.04v1.04h-1.04zM6 6h1.04v1.04h-1.04zM7 6h1.04v1.04h-1.04zM8 6h1.04v1.04h-1.04zM9 6h1.04v1.04h-1.04zM10 6h1.04v1.04h-1.04zM12 12h1.04v1.04h-1.04zM13 12h1.04v1.04h-1.04zM14 12h1.04v1.04h-1.04zM14 15h1.04v1.04h-1.04zM15 15h1.04v1.04h-1.04zM16 15h1.04v1.04h-1.04zM12 18h1.04v1.04h-1.04zM12 19h1.04v1.04h-1.04z" fill="#fee2c5"/>
<path d="M-2 7h1.04v1.04h-1.04zM-1 7h1.04v1.04h-1.04zM0 7h1.04v1.04h-1.04zM1 7h1.04v1.04h-1.04zM2 7h1.04v1.04h-1.04zM-2 8h1.04v1.04h-1.04zM-1 8h1.04v1.04h-1.04zM0 8h1.04v1.04h-1.04zM1 8h1.04v1.04h-1.04zM2 8h1.04v1.04h-1.04zM3 8h1.04v1.04h-1.04zM4 8h1.04v1.04h-1.04zM5 8h1.04v1.04h-1.04zM6 8h1.04v1.04h-1.04zM7 8h1.04v1.04h-1.04zM8 8h1.04v1.04h-1.04zM9 8h1.04v1.04h-1.04zM10 8h1.04v1.04h-1.04z" fill="#fee7cf"/>
<path d="M3 7h1.04v1.04h-1.04zM4 7h1.04v1.04h-1.04zM5 7h1.04v1.04h-1.04zM6 7h1.04v1.04h-1.04zM7 7h1.04v1.04h-1.04zM8 7h1.04v1.04h-1.04zM9 7h1.04v1.04h-1.04zM10 7h1.04v1.04h-1.04zM13 17h1.04v1.04h-1.04z" fill="#fee3c9"/>
<path d="M12 7h1.04v1.04h-1.04zM13 7h1.04v1.04h-1.04zM14 7h1.04v1.04h-1.04zM15 7h1.04v1.04h-1.04zM16 7h1.04v1.04h-1.04z" fill="#fdc591"/>
<path d="M19 7h1.04v1.04h-1.04zM20 7h1.04v1.04h-1.04zM21 7h1.04v1.04h-1.04zM22 7h1.04v1.04h-1.04z" fill="#fee1c4"/>
<path d="M-2 9h1.04v1.04h-1.04zM-1 9h1.04v1.04h-1.04zM0 9h1.04v1.04h-1.04zM1 9h1.04v1.04h-1.04zM2 9h1.04v1.04h-1.04zM3 9h1.04v1.04h-1.04zM4 9h1.04v1.04h-1.04zM5 9h1.04v1.04h-1.04zM6 9h1.04v1.04h-1.04zM7 9h1.04v1.04h-1.04zM8 9h1.04v1.04h-1.04z" fill="#feebd7"/>
<path d="M10 9h1.04v1.04h-1.04z" fill="#fd8d3c"/>
<path d="M11 9h1.04v1.04h-1.04zM12 10h1.04v1.04h-1.04z" fill="#fdc38d"/>
<path d="M-2 10h1.04v1.04h-1.04zM-1 10h1.04v1.04h-1.04zM0 10h1.04v1.04h-1.04zM1 10h1.04v1.04h-1.04zM2 10h1.04v1.04h-1.04zM3 10h1.04v1.04h-1.04zM4 10h1.04v1.04h-1.04zM5 10h1.04v1.04h-1.04zM6 10h1.04v1.04h-1.04zM7 10h1.04v1.04h-1.04z" fill="#feecd9"/>
<path d="M9 10h1.04v1.04h-1.04z" fill="#e35508"/>
<path d="M10 10h1.04v1.04h-1.04z" fill="#7f2704"/>
<path d="M11 10h1.04v1.04h-1.04z" fill="#bc3e02"/>
<path d="M-2 11h1.04v1.04h-1.04zM-1 11h1.04v1.04h-1.04zM0 11h1.04v1.04h-1.04zM1 11h1.04v1.04h-1.04zM2 11h1.04v1.04h-1.04zM3 11h1.04v1.04h-1.04zM4 11h1.04v1.04h-1.04zM5 11h1.04v1.04h-1.04zM6 11h1.04v1.04h-1.04zM7 11h1.04v1.04h-1.04zM-2 12h1.04v1.04h-1.04zM-1 12h1.04v1.04h-1.04zM0 12h1.04v1.04h-1.04zM1 12h1.04v1.04h-1.04zM2 12h1.04v1.04h-1.04zM3 12h1.04v1.04h-1.04zM4 12h1.04v1.04h-1.04zM5 12h1.04v1.04h-1.04zM6 12h1.04v1.04h-1.04zM7 12h1.04v1.04h-1.04zM8 12h1.04v1.04h-1.04zM-2 18h1.04v1.04h-1.04zM-1 18h1.04v1.04h-1.04zM0 18h1.04v1.04h-1.04zM1 18h1.04v1.04h-1.04zM2 18h1.04v1.04h-1.04zM3 18h1.04v1.04h-1.04zM4 18h1.04v1.04h-1.04zM5 18h1.04v1.04h-1.04zM6 18h1.04v1.04h-1.04zM7 18h1.04v1.04h-1.04zM8 18h1.04v1.04h-1.04zM9 18h1.04v1.04h-1.04zM10 18h1.04v1.04h-1.04zM-2 19h1.04v1.04h-1.04zM-1 19h1.04v1.04h-1.04zM0 19h1.04v1.04h-1.04zM1 19h1.04v1.04h-1.04zM2 19h1.04v1.04h-1.04zM3 19h1.04v1.04h-1.04zM4 19h1.04v1.04h-1.04zM5 19h1.04v1.04h-1.04zM6 19h1.04v1.04h-1.04zM7 19h1.04v1.04h-1.04zM8 19h1.04v1.04h-1.04zM9 19h1.04v1.04h-1.04zM10 19h1.04v1.04h-1.04z" fill="#feebd8"/>
<path d="M9 11h1.04v1.04h-1.04z" fill="#ec620f"/>
<path d="M10 11h1.04v1.04h-1.04z" fill="#9e3303"/>
<path d="M11 11h1.04v1.04h-1.04z" fill="#df5005"/>
<path d="M18 11h1.04v1.04h-1.04zM19 11h1.04v1.04h-1.04zM20 11h1.04v1.04h-1.04zM21 11h1.04v1.04h-1.04zM22 11h1.04v1.04h-1.04z" fill="#fdb272"/>
<path d="M10 12h1.04v1.04h-1.04z" fill="#fda762"/>
<path d="M18 12h1.04v1.04h-1.04zM19 12h1.04v1.04h-1.04zM20 12h1.04v1.04h-1.04zM21 12h1.04v1.04h-1.04zM22 12h1.04v1.04h-1.04z" fill="#fdb87a"/>
<path d="M-2 13h1.04v1.04h-1.04zM-1 13h1.04v1.04h-1.04zM0 13h1.04v1.04h-1.04zM1 13h1.04v1.04h-1.04zM2 13h1.04v1.04h-1.04zM3 13h1.04v1.04h-1.04zM4 13h1.04v1.04h-1.04zM5 13h1.04v1.04h-1.04zM6 13h1.04v1.04h-1.04zM7 13h1.04v1.04h-1.04zM8 13h1.04v1.04h-1.04zM9 13h1.04v1.04h-1.04zM10 13h1.04v1.04h-1.04zM-2 14h1.04v1.04h-1.04zM-1 14h1.04v1.04h-1.04zM0 14h1.04v1.04h-1.04zM1 14h1.04v1.04h-1.04zM2 14h1.04v1.04h-1.04zM3 14h1.04v1.04h-1.04zM4 14h1.04v1.04h-1.04zM5 14h1.04v1.04h-1.04zM6 14h1.04v1.04h-1.04zM7 14h1.04v1.04h-1.04zM8 14h1.04v1.04h-1.04zM9 14h1.04v1.04h-1.04zM10 14h1.04v1.04h-1.04zM-2 15h1.04v1.04h-1.04zM-1 15h1.04v1.04h-1.04zM0 15h1.04v1.04h-1.04zM1 15h1.04v1.04h-1.04zM2 15h1.04v1.04h-1.04zM3 15h1.04v1.04h-1.04zM4 15h1.04v1.04h-1.04zM5 15h1.04v1.04h-1.04zM6 15h1.04v1.04h-1.04zM7 15h1.04v1.04h-1.04zM8 15h1.04v1.04h-1.04zM9 15h1.04v1.04h-1.04zM10 15h1.04v1.04h-1.04zM-2 16h1.04v1.04h-1.04zM-1 16h1.04v1.04h-1.04zM0 16h1.04v1.04h-1.04zM1 16h1.04v1.04h-1.04zM2 16h1.04v1.04h-1.04zM3 16h1.04v1.04h-1.04zM4 16h1.04v1.04h-1.04zM5 16h1.04v1.04h-1.04zM6 16h1.04v1.04h-1.04zM7 16h1.04v1.04h-1.04zM8 16h1.04v1.04h-1.04zM9 16h1.04v1.04h-1.04zM10 16h1.04v1.04h-1.04zM-2 17h1.04v1.04h-1.04zM-1 17h1.04v1.04h-1.04zM0 17h1.04v1.04h-1.04zM1 17h1.04v1.04h-1.04zM2 17h1.04v1.04h-1.04zM3 17h1.04v1.04h-1.04zM4 17h1.04v1.04h-1.04zM5 17h1.04v1.04h-1.04zM6 17h1.04v1.04h-1.04zM7 17h1.04v1.04h-1.04zM8 17h1.04v1.04h-1.04zM9 17h1.04v1.04h-1.04zM10 17h1.04v1.04h-1.04z" fill="#feeddb"/>
<path d="M11 13h1.04v1.04h-1.04zM11 14h1.04v1.04h-1.04zM12 14h1.04v1.04h-1.04zM11 15h1.04v1.04h-1.04zM12 15h1.04v1.04h-1.04zM13 15h1.04v1.04h-1.04zM11 16h1.04v1.04h-1.04zM-2 20h1.04v1.04h-1.04zM-1 20h1.04v1.04h-1.04zM0 20h1.04v1.04h-1.04zM1 20h1.04v1.04h-1.04zM2 20h1.04v1.04h-1.04zM3 20h1.04v1.04h-1.04zM4 20h1.04v1.04h-1.04zM5 20h1.04v1.04h-1.04zM6 20h1.04v1.04h-1.04zM7 20h1.04v1.04h-1.04zM8 20h1.04v1.04h-1.04zM9 20h1.04v1.04h-1.04zM10 20h1.04v1.04h-1.04zM-2 21h1.04v1.04h-1.04zM-1 21h1.04v1.04h-1.04zM0 21h1.04v1.04h-1.04zM1 21h1.04v1.04h-1.04zM2 21h1.04v1.04h-1.04zM3 21h1.04v1.04h-1.04zM4 21h1.04v1.04h-1.04zM5 21h1.04v1.04h-1.04zM6 21h1.04v1.04h-1.04zM7 21h1.04v1.04h-1.04zM8 21h1.04v1.04h-1.04zM9 21h1.04v1.04h-1.04zM10 21h1.04v1.04h-1.04zM-2 22h1.04v1.04h-1.04zM-1 22h1.04v1.04h-1.04zM0 22h1.04v1.04h-1.04zM1 22h1.04v1.04h-1.04zM2 22h1.04v1.04h-1.04zM3 22h1.04v1.04h-1.04zM4 22h1.04v1.04h-1.04zM5 22h1.04v1.04h-1.04zM6 22h1.04v1.04h-1.04zM7 22h1.04v1.04h-1.04zM8 22h1.04v1.04h-1.04zM9 22h1.04v1.04h-1.04zM10 22h1.04v1.04h-1.04z" fill="#feead6"/>
<path d="M12 13h1.04v1.04h-1.04zM13 13h1.04v1.04h-1.04zM14 13h1.04v1.04h-1.04zM13 14h1.04v1.04h-1.04zM14 14h1.04v1.04h-1.04zM12 16h1.04v1.04h-1.04zM13 16h1.04v1.04h-1.04zM14 16h1.04v1.04h-1.04zM11 20h1.04v1.04h-1.04zM11 21h1.04v1.04h-1.04zM11 22h1.04v1.04h-1.04z" fill="#fee5cc"/>
<path d="M15 16h1.04v1.04h-1.04zM16 16h1.04v1.04h-1.04zM17 16h1.04v1.04h-1.04zM18 16h1.04v1.04h-1.04zM19 16h1.04v1.04h-1.04zM20 16h1.04v1.04h-1.04zM21 16h1.04v1.04h-1.04zM22 16h1.04v1.04h-1.04z" fill="#fdd7b0"/>
<path d="M11 17h1.04v1.04h-1.04zM12 17h1.04v1.04h-1.04z" fill="#fee9d4"/>
<path d="M11 18h1.04v1.04h-1.04zM11 19h1.04v1.04h-1.04z" fill="#fee8d1"/>
</g></g>
<circle cx="133.25" cy="313.20" r="25.79" fill="none" stroke="#279127" stroke-width="1.5"/>
<circle cx="133.25" cy="313.20" r="34.38" fill="none" stroke="#3c9c3c" stroke-width="1.1" stroke-dasharray="3 2"/>
<circle cx="133.25" cy="313.20" r="51.57" fill="none" stroke="#3c9c3c" stroke-width="1.1" stroke-dasharray="3 2"/>
<path d="M43 313.20H223.5M133.25 223V403.4" stroke="#1a1a1a" stroke-width="1.1" stroke-opacity="0.9"/>
</g>
<rect x="48.1" y="231.6" width="82.30" height="19.00" rx="3" ry="3" fill="#f3dfbc" stroke="#5a4d42" stroke-width="1.1"/>
<text x="89.25" y="244.60" font-size="11.2" text-anchor="middle" fill="#1c1c84" stroke="#1c1c84" stroke-width="0.35">SPIRE 350 <tspan font-style="italic">μ</tspan>m</text>
<path d="M207.43,247.40L199.50,260.60L186.44,252.44" fill="none" stroke="#111" stroke-width="1.6"/>
<circle cx="207.43" cy="247.40" r="1.2" fill="#111"/><circle cx="186.44" cy="252.44" r="1.2" fill="#111"/>
<text x="208.10" y="238.00" font-size="15.5" text-anchor="middle" dominant-baseline="central" fill="#111" stroke="#111" stroke-width="0.55" font-family="Liberation Serif" transform="rotate(31 208.10 238.00)">N</text>
<text x="185.80" y="241.80" font-size="15.5" text-anchor="middle" dominant-baseline="central" fill="#111" stroke="#111" stroke-width="0.55" font-family="Liberation Serif" transform="rotate(31 185.80 241.80)">E</text>
<rect x="43" y="223" width="180.50" height="180.40" fill="none" stroke="#5a5a5a" stroke-width="1" stroke-opacity="0.75"/>
<path d="M47.30 403.4v2.5" stroke="#666" stroke-width="0.8"/>
<text x="47.30" y="416.00" font-size="10" text-anchor="middle" fill="#1a1a1a" stroke="#1a1a1a" stroke-width="0.25">−100</text>
<path d="M90.27 403.4v2.5" stroke="#666" stroke-width="0.8"/>
<text x="90.27" y="416.00" font-size="10" text-anchor="middle" fill="#1a1a1a" stroke="#1a1a1a" stroke-width="0.25">−50</text>
<path d="M133.25 403.4v2.5" stroke="#666" stroke-width="0.8"/>
<text x="133.25" y="416.00" font-size="10" text-anchor="middle" fill="#1a1a1a" stroke="#1a1a1a" stroke-width="0.25">0</text>
<path d="M176.23 403.4v2.5" stroke="#666" stroke-width="0.8"/>
<text x="176.23" y="416.00" font-size="10" text-anchor="middle" fill="#1a1a1a" stroke="#1a1a1a" stroke-width="0.25">50</text>
<path d="M219.20 403.4v2.5" stroke="#666" stroke-width="0.8"/>
<text x="219.20" y="416.00" font-size="10" text-anchor="middle" fill="#1a1a1a" stroke="#1a1a1a" stroke-width="0.25">100</text>
<path d="M40.5 227.25h2.5" stroke="#666" stroke-width="0.8"/>
<text x="39.00" y="230.85" font-size="10" text-anchor="end" fill="#1a1a1a" stroke="#1a1a1a" stroke-width="0.25">100</text>
<path d="M40.5 270.22h2.5" stroke="#666" stroke-width="0.8"/>
<text x="39.00" y="273.82" font-size="10" text-anchor="end" fill="#1a1a1a" stroke="#1a1a1a" stroke-width="0.25">50</text>
<path d="M40.5 313.20h2.5" stroke="#666" stroke-width="0.8"/>
<text x="39.00" y="316.80" font-size="10" text-anchor="end" fill="#1a1a1a" stroke="#1a1a1a" stroke-width="0.25">0</text>
<path d="M40.5 356.18h2.5" stroke="#666" stroke-width="0.8"/>
<text x="39.00" y="359.78" font-size="10" text-anchor="end" fill="#1a1a1a" stroke="#1a1a1a" stroke-width="0.25">−50</text>
<path d="M40.5 399.15h2.5" stroke="#666" stroke-width="0.8"/>
<text x="39.00" y="402.75" font-size="10" text-anchor="end" fill="#1a1a1a" stroke="#1a1a1a" stroke-width="0.25">−100</text>
<text x="133.25" y="428.40" font-size="11" text-anchor="middle" fill="#1a1a1a" stroke="#1a1a1a" stroke-width="0.25">Distance (<tspan font-style="italic">″</tspan>)</text>
<text x="11.30" y="313.20" font-size="11" text-anchor="middle" fill="#1a1a1a" stroke="#1a1a1a" stroke-width="0.25" transform="rotate(-90 11.30 313.20)">Distance (<tspan font-style="italic">″</tspan>)</text>
<rect x="239.2" y="223.2" width="9.60" height="179.90" fill="url(#L2g)" stroke="#5a5a5a" stroke-width="1" stroke-opacity="0.8"/>
<path d="M248.8 373.73h2.5" stroke="#666" stroke-width="0.8"/>
<text x="252.80" y="377.33" font-size="10" text-anchor="start" fill="#1a1a1a" stroke="#1a1a1a" stroke-width="0.25">0.18</text>
<path d="M248.8 340.53h2.5" stroke="#666" stroke-width="0.8"/>
<text x="252.80" y="344.13" font-size="10" text-anchor="start" fill="#1a1a1a" stroke="#1a1a1a" stroke-width="0.25">0.20</text>
<path d="M248.8 307.34h2.5" stroke="#666" stroke-width="0.8"/>
<text x="252.80" y="310.94" font-size="10" text-anchor="start" fill="#1a1a1a" stroke="#1a1a1a" stroke-width="0.25">0.22</text>
<path d="M248.8 274.15h2.5" stroke="#666" stroke-width="0.8"/>
<text x="252.80" y="277.75" font-size="10" text-anchor="start" fill="#1a1a1a" stroke="#1a1a1a" stroke-width="0.25">0.24</text>
<path d="M248.8 240.96h2.5" stroke="#666" stroke-width="0.8"/>
<text x="252.80" y="244.56" font-size="10" text-anchor="start" fill="#1a1a1a" stroke="#1a1a1a" stroke-width="0.25">0.26</text>
<text x="282.20" y="313.00" font-size="10.5" text-anchor="middle" fill="#1a1a1a" stroke="#1a1a1a" stroke-width="0.25" transform="rotate(-90 282.20 313.00)">Flux (Jy)</text>
<g clip-path="url(#L3c)">
<g filter="url(#hb60)"><g transform="translate(43.000,445.000) scale(8.5905,8.5810)">
<path d="M-2 -2h1.04v1.04h-1.04zM-1 -2h1.04v1.04h-1.04zM0 -2h1.04v1.04h-1.04zM1 -2h1.04v1.04h-1.04zM4 -2h1.04v1.04h-1.04zM5 -2h1.04v1.04h-1.04zM11 -2h1.04v1.04h-1.04zM12 -2h1.04v1.04h-1.04zM13 -2h1.04v1.04h-1.04zM14 -2h1.04v1.04h-1.04zM15 -2h1.04v1.04h-1.04zM16 -2h1.04v1.04h-1.04zM-2 -1h1.04v1.04h-1.04zM-1 -1h1.04v1.04h-1.04zM0 -1h1.04v1.04h-1.04zM1 -1h1.04v1.04h-1.04zM4 -1h1.04v1.04h-1.04zM5 -1h1.04v1.04h-1.04zM11 -1h1.04v1.04h-1.04zM12 -1h1.04v1.04h-1.04zM13 -1h1.04v1.04h-1.04zM14 -1h1.04v1.04h-1.04zM15 -1h1.04v1.04h-1.04zM16 -1h1.04v1.04h-1.04zM-2 0h1.04v1.04h-1.04zM-1 0h1.04v1.04h-1.04zM0 0h1.04v1.04h-1.04zM1 0h1.04v1.04h-1.04zM4 0h1.04v1.04h-1.04zM5 0h1.04v1.04h-1.04zM11 0h1.04v1.04h-1.04zM12 0h1.04v1.04h-1.04zM13 0h1.04v1.04h-1.04zM14 0h1.04v1.04h-1.04zM15 0h1.04v1.04h-1.04zM16 0h1.04v1.04h-1.04zM-2 1h1.04v1.04h-1.04zM-1 1h1.04v1.04h-1.04zM0 1h1.04v1.04h-1.04zM14 1h1.04v1.04h-1.04zM15 1h1.04v1.04h-1.04zM16 1h1.04v1.04h-1.04zM19 2h1.04v1.04h-1.04zM20 2h1.04v1.04h-1.04zM21 2h1.04v1.04h-1.04zM22 2h1.04v1.04h-1.04zM6 3h1.04v1.04h-1.04zM17 3h1.04v1.04h-1.04zM18 3h1.04v1.04h-1.04zM19 3h1.04v1.04h-1.04zM20 3h1.04v1.04h-1.04zM21 3h1.04v1.04h-1.04zM22 3h1.04v1.04h-1.04zM3 4h1.04v1.04h-1.04zM4 4h1.04v1.04h-1.04zM5 4h1.04v1.04h-1.04zM12 4h1.04v1.04h-1.04zM13 4h1.04v1.04h-1.04zM14 4h1.04v1.04h-1.04zM11 5h1.04v1.04h-1.04zM14 5h1.04v1.04h-1.04zM15 5h1.04v1.04h-1.04zM16 5h1.04v1.04h-1.04zM10 7h1.04v1.04h-1.04zM14 7h1.04v1.04h-1.04zM15 7h1.04v1.04h-1.04zM16 7h1.04v1.04h-1.04zM15 8h1.04v1.04h-1.04zM16 8h1.04v1.04h-1.04zM17 8h1.04v1.04h-1.04zM18 8h1.04v1.04h-1.04zM19 8h1.04v1.04h-1.04zM20 8h1.04v1.04h-1.04zM21 8h1.04v1.04h-1.04zM22 8h1.04v1.04h-1.04zM-2 18h1.04v1.04h-1.04zM-1 18h1.04v1.04h-1.04zM0 18h1.04v1.04h-1.04zM8 19h1.04v1.04h-1.04zM9 19h1.04v1.04h-1.04z" fill="#fd9a4f"/>
<path d="M2 -2h1.04v1.04h-1.04zM3 -2h1.04v1.04h-1.04zM2 -1h1.04v1.04h-1.04zM3 -1h1.04v1.04h-1.04zM2 0h1.04v1.04h-1.04zM3 0h1.04v1.04h-1.04zM18 4h1.04v1.04h-1.04zM19 4h1.04v1.04h-1.04zM20 4h1.04v1.04h-1.04zM21 4h1.04v1.04h-1.04zM22 4h1.04v1.04h-1.04z" fill="#fd9f56"/>
<path d="M6 -2h1.04v1.04h-1.04zM7 -2h1.04v1.04h-1.04zM8 -2h1.04v1.04h-1.04zM6 -1h1.04v1.04h-1.04zM7 -1h1.04v1.04h-1.04zM8 -1h1.04v1.04h-1.04zM6 0h1.04v1.04h-1.04zM7 0h1.04v1.04h-1.04zM8 0h1.04v1.04h-1.04zM11 1h1.04v1.04h-1.04zM12 1h1.04v1.04h-1.04zM13 1h1.04v1.04h-1.04zM-2 2h1.04v1.04h-1.04zM-1 2h1.04v1.04h-1.04zM0 2h1.04v1.04h-1.04zM1 2h1.04v1.04h-1.04zM2 2h1.04v1.04h-1.04zM3 2h1.04v1.04h-1.04zM4 2h1.04v1.04h-1.04zM5 2h1.04v1.04h-1.04zM6 2h1.04v1.04h-1.04zM7 2h1.04v1.04h-1.04zM8 2h1.04v1.04h-1.04zM9 2h1.04v1.04h-1.04zM10 2h1.04v1.04h-1.04zM2 3h1.04v1.04h-1.04zM3 3h1.04v1.04h-1.04zM11 3h1.04v1.04h-1.04zM12 3h1.04v1.04h-1.04zM13 3h1.04v1.04h-1.04zM14 3h1.04v1.04h-1.04zM15 3h1.04v1.04h-1.04zM16 3h1.04v1.04h-1.04zM10 4h1.04v1.04h-1.04zM11 4h1.04v1.04h-1.04zM15 4h1.04v1.04h-1.04zM16 4h1.04v1.04h-1.04zM17 4h1.04v1.04h-1.04zM11 17h1.04v1.04h-1.04zM12 17h1.04v1.04h-1.04zM13 17h1.04v1.04h-1.04z" fill="#fda25a"/>
<path d="M9 -2h1.04v1.04h-1.04zM10 -2h1.04v1.04h-1.04zM9 -1h1.04v1.04h-1.04zM10 -1h1.04v1.04h-1.04zM9 0h1.04v1.04h-1.04zM10 0h1.04v1.04h-1.04zM11 2h1.04v1.04h-1.04zM12 2h1.04v1.04h-1.04zM16 2h1.04v1.04h-1.04zM-2 3h1.04v1.04h-1.04zM-1 3h1.04v1.04h-1.04zM0 3h1.04v1.04h-1.04zM1 3h1.04v1.04h-1.04zM6 4h1.04v1.04h-1.04zM7 4h1.04v1.04h-1.04zM8 4h1.04v1.04h-1.04zM9 4h1.04v1.04h-1.04zM10 5h1.04v1.04h-1.04zM17 5h1.04v1.04h-1.04zM18 5h1.04v1.04h-1.04zM19 5h1.04v1.04h-1.04zM20 5h1.04v1.04h-1.04zM21 5h1.04v1.04h-1.04zM22 5h1.04v1.04h-1.04zM16 6h1.04v1.04h-1.04zM17 6h1.04v1.04h-1.04zM18 6h1.04v1.04h-1.04zM19 6h1.04v1.04h-1.04zM20 6h1.04v1.04h-1.04zM21 6h1.04v1.04h-1.04zM22 6h1.04v1.04h-1.04zM15 11h1.04v1.04h-1.04zM16 11h1.04v1.04h-1.04zM14 13h1.04v1.04h-1.04zM15 13h1.04v1.04h-1.04zM13 16h1.04v1.04h-1.04zM14 16h1.04v1.04h-1.04z" fill="#fda762"/>
<path d="M17 -2h1.04v1.04h-1.04zM18 -2h1.04v1.04h-1.04zM17 -1h1.04v1.04h-1.04zM18 -1h1.04v1.04h-1.04zM17 0h1.04v1.04h-1.04zM18 0h1.04v1.04h-1.04zM19 1h1.04v1.04h-1.04zM20 1h1.04v1.04h-1.04zM21 1h1.04v1.04h-1.04zM22 1h1.04v1.04h-1.04zM17 2h1.04v1.04h-1.04zM18 2h1.04v1.04h-1.04zM11 6h1.04v1.04h-1.04zM12 6h1.04v1.04h-1.04zM13 6h1.04v1.04h-1.04zM11 7h1.04v1.04h-1.04zM12 7h1.04v1.04h-1.04zM13 7h1.04v1.04h-1.04zM10 8h1.04v1.04h-1.04zM15 9h1.04v1.04h-1.04zM16 9h1.04v1.04h-1.04zM17 9h1.04v1.04h-1.04zM18 9h1.04v1.04h-1.04zM19 9h1.04v1.04h-1.04zM20 9h1.04v1.04h-1.04zM21 9h1.04v1.04h-1.04zM22 9h1.04v1.04h-1.04zM17 11h1.04v1.04h-1.04zM18 11h1.04v1.04h-1.04zM16 12h1.04v1.04h-1.04zM17 12h1.04v1.04h-1.04zM16 13h1.04v1.04h-1.04zM17 13h1.04v1.04h-1.04zM18 13h1.04v1.04h-1.04zM19 13h1.04v1.04h-1.04zM20 13h1.04v1.04h-1.04zM21 13h1.04v1.04h-1.04zM22 13h1.04v1.04h-1.04zM15 14h1.04v1.04h-1.04zM16 14h1.04v1.04h-1.04zM17 14h1.04v1.04h-1.04zM18 14h1.04v1.04h-1.04zM19 14h1.04v1.04h-1.04zM20 14h1.04v1.04h-1.04zM21 14h1.04v1.04h-1.04zM22 14h1.04v1.04h-1.04zM15 16h1.04v1.04h-1.04zM16 16h1.04v1.04h-1.04zM17 16h1.04v1.04h-1.04zM18 16h1.04v1.04h-1.04zM19 16h1.04v1.04h-1.04zM20 16h1.04v1.04h-1.04zM21 16h1.04v1.04h-1.04zM22 16h1.04v1.04h-1.04zM14 17h1.04v1.04h-1.04zM15 17h1.04v1.04h-1.04zM16 17h1.04v1.04h-1.04zM17 17h1.04v1.04h-1.04zM18 17h1.04v1.04h-1.04zM19 17h1.04v1.04h-1.04zM20 17h1.04v1.04h-1.04zM21 17h1.04v1.04h-1.04zM22 17h1.04v1.04h-1.04zM11 18h1.04v1.04h-1.04zM12 18h1.04v1.04h-1.04zM16 18h1.04v1.04h-1.04zM17 18h1.04v1.04h-1.04zM1 19h1.04v1.04h-1.04zM17 19h1.04v1.04h-1.04zM18 19h1.04v1.04h-1.04zM3 20h1.04v1.04h-1.04zM4 20h1.04v1.04h-1.04zM5 20h1.04v1.04h-1.04zM6 20h1.04v1.04h-1.04zM14 20h1.04v1.04h-1.04zM15 20h1.04v1.04h-1.04zM16 20h1.04v1.04h-1.04zM3 21h1.04v1.04h-1.04zM4 21h1.04v1.04h-1.04zM5 21h1.04v1.04h-1.04zM6 21h1.04v1.04h-1.04zM14 21h1.04v1.04h-1.04zM15 21h1.04v1.04h-1.04zM16 21h1.04v1.04h-1.04zM3 22h1.04v1.04h-1.04zM4 22h1.04v1.04h-1.04zM5 22h1.04v1.04h-1.04zM6 22h1.04v1.04h-1.04zM14 22h1.04v1.04h-1.04zM15 22h1.04v1.04h-1.04zM16 22h1.04v1.04h-1.04z" fill="#fd8d3c"/>
<path d="M19 -2h1.04v1.04h-1.04zM20 -2h1.04v1.04h-1.04zM21 -2h1.04v1.04h-1.04zM22 -2h1.04v1.04h-1.04zM19 -1h1.04v1.04h-1.04zM20 -1h1.04v1.04h-1.04zM21 -1h1.04v1.04h-1.04zM22 -1h1.04v1.04h-1.04zM19 0h1.04v1.04h-1.04zM20 0h1.04v1.04h-1.04zM21 0h1.04v1.04h-1.04zM22 0h1.04v1.04h-1.04z" fill="#f3701b"/>
<path d="M1 1h1.04v1.04h-1.04zM2 1h1.04v1.04h-1.04zM3 1h1.04v1.04h-1.04zM4 1h1.04v1.04h-1.04zM5 1h1.04v1.04h-1.04zM6 1h1.04v1.04h-1.04zM7 1h1.04v1.04h-1.04zM8 1h1.04v1.04h-1.04zM9 1h1.04v1.04h-1.04zM10 1h1.04v1.04h-1.04z" fill="#fd9d53"/>
<path d="M17 1h1.04v1.04h-1.04zM18 1h1.04v1.04h-1.04zM4 3h1.04v1.04h-1.04zM5 3h1.04v1.04h-1.04zM11 8h1.04v1.04h-1.04zM12 8h1.04v1.04h-1.04zM13 8h1.04v1.04h-1.04zM14 8h1.04v1.04h-1.04zM10 19h1.04v1.04h-1.04z" fill="#fb8735"/>
<path d="M13 2h1.04v1.04h-1.04zM14 2h1.04v1.04h-1.04zM15 2h1.04v1.04h-1.04zM7 3h1.04v1.04h-1.04zM8 3h1.04v1.04h-1.04zM9 3h1.04v1.04h-1.04zM10 3h1.04v1.04h-1.04zM-2 4h1.04v1.04h-1.04zM-1 4h1.04v1.04h-1.04zM0 4h1.04v1.04h-1.04zM1 4h1.04v1.04h-1.04zM2 4h1.04v1.04h-1.04zM17 7h1.04v1.04h-1.04zM18 7h1.04v1.04h-1.04zM19 7h1.04v1.04h-1.04zM20 7h1.04v1.04h-1.04zM21 7h1.04v1.04h-1.04zM22 7h1.04v1.04h-1.04zM9 11h1.04v1.04h-1.04zM11 11h1.04v1.04h-1.04zM2 19h1.04v1.04h-1.04zM3 19h1.04v1.04h-1.04zM6 19h1.04v1.04h-1.04zM7 19h1.04v1.04h-1.04z" fill="#fdad69"/>
<path d="M-2 5h1.04v1.04h-1.04zM-1 5h1.04v1.04h-1.04zM0 5h1.04v1.04h-1.04zM1 5h1.04v1.04h-1.04zM6 5h1.04v1.04h-1.04zM7 5h1.04v1.04h-1.04zM8 5h1.04v1.04h-1.04zM9 5h1.04v1.04h-1.04zM9 6h1.04v1.04h-1.04zM10 6h1.04v1.04h-1.04zM13 10h1.04v1.04h-1.04zM14 10h1.04v1.04h-1.04zM14 12h1.04v1.04h-1.04zM15 12h1.04v1.04h-1.04zM13 14h1.04v1.04h-1.04zM14 14h1.04v1.04h-1.04zM12 15h1.04v1.04h-1.04zM13 15h1.04v1.04h-1.04zM10 18h1.04v1.04h-1.04zM4 19h1.04v1.04h-1.04zM5 19h1.04v1.04h-1.04z" fill="#fdb576"/>
<path d="M2 5h1.04v1.04h-1.04zM3 5h1.04v1.04h-1.04zM4 5h1.04v1.04h-1.04zM5 5h1.04v1.04h-1.04z" fill="#fdbd83"/>
<path d="M12 5h1.04v1.04h-1.04zM13 5h1.04v1.04h-1.04zM14 6h1.04v1.04h-1.04zM15 6h1.04v1.04h-1.04zM13 9h1.04v1.04h-1.04zM14 9h1.04v1.04h-1.04zM12 10h1.04v1.04h-1.04zM15 10h1.04v1.04h-1.04zM16 10h1.04v1.04h-1.04zM17 10h1.04v1.04h-1.04zM18 10h1.04v1.04h-1.04zM19 10h1.04v1.04h-1.04zM20 10h1.04v1.04h-1.04zM21 10h1.04v1.04h-1.04zM22 10h1.04v1.04h-1.04zM14 15h1.04v1.04h-1.04zM15 15h1.04v1.04h-1.04zM16 15h1.04v1.04h-1.04zM17 15h1.04v1.04h-1.04zM18 15h1.04v1.04h-1.04zM19 15h1.04v1.04h-1.04zM20 15h1.04v1.04h-1.04zM21 15h1.04v1.04h-1.04zM22 15h1.04v1.04h-1.04zM13 18h1.04v1.04h-1.04zM14 18h1.04v1.04h-1.04zM15 18h1.04v1.04h-1.04zM15 19h1.04v1.04h-1.04zM16 19h1.04v1.04h-1.04z" fill="#fd9244"/>
<path d="M-2 6h1.04v1.04h-1.04zM-1 6h1.04v1.04h-1.04zM0 6h1.04v1.04h-1.04zM1 6h1.04v1.04h-1.04zM9 7h1.04v1.04h-1.04zM-2 11h1.04v1.04h-1.04zM-1 11h1.04v1.04h-1.04zM0 11h1.04v1.04h-1.04zM12 11h1.04v1.04h-1.04zM13 11h1.04v1.04h-1.04zM14 11h1.04v1.04h-1.04zM13 12h1.04v1.04h-1.04zM13 13h1.04v1.04h-1.04zM11 16h1.04v1.04h-1.04zM12 16h1.04v1.04h-1.04zM-2 17h1.04v1.04h-1.04zM-1 17h1.04v1.04h-1.04zM0 17h1.04v1.04h-1.04zM1 18h1.04v1.04h-1.04zM2 18h1.04v1.04h-1.04zM3 18h1.04v1.04h-1.04z" fill="#fdc28c"/>
<path d="M2 6h1.04v1.04h-1.04zM3 6h1.04v1.04h-1.04zM4 6h1.04v1.04h-1.04zM9 8h1.04v1.04h-1.04zM1 11h1.04v1.04h-1.04zM-2 13h1.04v1.04h-1.04zM-1 13h1.04v1.04h-1.04zM0 13h1.04v1.04h-1.04zM-2 15h1.04v1.04h-1.04zM-1 15h1.04v1.04h-1.04zM0 15h1.04v1.04h-1.04zM-2 16h1.04v1.04h-1.04zM-1 16h1.04v1.04h-1.04zM0 16h1.04v1.04h-1.04zM4 18h1.04v1.04h-1.04zM5 18h1.04v1.04h-1.04zM6 18h1.04v1.04h-1.04zM7 18h1.04v1.04h-1.04z" fill="#fdd0a2"/>
<path d="M5 6h1.04v1.04h-1.04zM6 6h1.04v1.04h-1.04zM7 6h1.04v1.04h-1.04zM8 6h1.04v1.04h-1.04zM-2 12h1.04v1.04h-1.04zM-1 12h1.04v1.04h-1.04zM0 12h1.04v1.04h-1.04z" fill="#fdc895"/>
<path d="M-2 7h1.04v1.04h-1.04zM-1 7h1.04v1.04h-1.04zM0 7h1.04v1.04h-1.04zM1 7h1.04v1.04h-1.04zM8 18h1.04v1.04h-1.04zM9 18h1.04v1.04h-1.04z" fill="#fdcb99"/>
<path d="M2 7h1.04v1.04h-1.04zM3 7h1.04v1.04h-1.04zM-2 8h1.04v1.04h-1.04zM-1 8h1.04v1.04h-1.04zM0 8h1.04v1.04h-1.04zM1 8h1.04v1.04h-1.04zM12 12h1.04v1.04h-1.04zM10 17h1.04v1.04h-1.04z" fill="#fdd5ad"/>
<path d="M4 7h1.04v1.04h-1.04zM5 7h1.04v1.04h-1.04zM6 7h1.04v1.04h-1.04zM-2 10h1.04v1.04h-1.04zM-1 10h1.04v1.04h-1.04zM0 10h1.04v1.04h-1.04zM1 10h1.04v1.04h-1.04zM10 12h1.04v1.04h-1.04zM1 16h1.04v1.04h-1.04zM2 16h1.04v1.04h-1.04zM3 16h1.04v1.04h-1.04zM4 16h1.04v1.04h-1.04zM7 17h1.04v1.04h-1.04zM8 17h1.04v1.04h-1.04zM9 17h1.04v1.04h-1.04z" fill="#fee7cf"/>
<path d="M7 7h1.04v1.04h-1.04zM8 7h1.04v1.04h-1.04zM-2 14h1.04v1.04h-1.04zM-1 14h1.04v1.04h-1.04zM0 14h1.04v1.04h-1.04zM1 14h1.04v1.04h-1.04zM11 15h1.04v1.04h-1.04z" fill="#fdd9b4"/>
<path d="M2 8h1.04v1.04h-1.04zM3 8h1.04v1.04h-1.04zM4 8h1.04v1.04h-1.04zM5 8h1.04v1.04h-1.04zM6 8h1.04v1.04h-1.04zM7 9h1.04v1.04h-1.04zM8 9h1.04v1.04h-1.04zM2 11h1.04v1.04h-1.04zM3 11h1.04v1.04h-1.04zM4 11h1.04v1.04h-1.04zM1 13h1.04v1.04h-1.04zM2 13h1.04v1.04h-1.04zM3 13h1.04v1.04h-1.04zM1 15h1.04v1.04h-1.04zM2 15h1.04v1.04h-1.04zM3 15h1.04v1.04h-1.04zM4 17h1.04v1.04h-1.04zM5 17h1.04v1.04h-1.04zM6 17h1.04v1.04h-1.04z" fill="#fee9d4"/>
<path d="M7 8h1.04v1.04h-1.04zM8 8h1.04v1.04h-1.04z" fill="#fee5cc"/>
<path d="M-2 9h1.04v1.04h-1.04zM-1 9h1.04v1.04h-1.04zM0 9h1.04v1.04h-1.04zM1 9h1.04v1.04h-1.04zM9 12h1.04v1.04h-1.04z" fill="#fedcbb"/>
<path d="M2 9h1.04v1.04h-1.04zM3 9h1.04v1.04h-1.04zM4 9h1.04v1.04h-1.04zM5 9h1.04v1.04h-1.04zM6 9h1.04v1.04h-1.04zM5 16h1.04v1.04h-1.04zM6 16h1.04v1.04h-1.04zM7 16h1.04v1.04h-1.04zM8 16h1.04v1.04h-1.04zM9 16h1.04v1.04h-1.04z" fill="#ffeedd"/>
<path d="M9 9h1.04v1.04h-1.04zM12 9h1.04v1.04h-1.04zM10 11h1.04v1.04h-1.04zM19 11h1.04v1.04h-1.04zM20 11h1.04v1.04h-1.04zM21 11h1.04v1.04h-1.04zM22 11h1.04v1.04h-1.04zM18 12h1.04v1.04h-1.04zM19 12h1.04v1.04h-1.04zM20 12h1.04v1.04h-1.04zM21 12h1.04v1.04h-1.04zM22 12h1.04v1.04h-1.04zM18 18h1.04v1.04h-1.04zM19 18h1.04v1.04h-1.04zM20 18h1.04v1.04h-1.04zM21 18h1.04v1.04h-1.04zM22 18h1.04v1.04h-1.04zM13 19h1.04v1.04h-1.04zM14 19h1.04v1.04h-1.04zM19 19h1.04v1.04h-1.04zM20 19h1.04v1.04h-1.04zM21 19h1.04v1.04h-1.04zM22 19h1.04v1.04h-1.04zM17 20h1.04v1.04h-1.04zM18 20h1.04v1.04h-1.04zM19 20h1.04v1.04h-1.04zM20 20h1.04v1.04h-1.04zM21 20h1.04v1.04h-1.04zM22 20h1.04v1.04h-1.04zM17 21h1.04v1.04h-1.04zM18 21h1.04v1.04h-1.04zM19 21h1.04v1.04h-1.04zM20 21h1.04v1.04h-1.04zM21 21h1.04v1.04h-1.04zM22 21h1.04v1.04h-1.04zM17 22h1.04v1.04h-1.04zM18 22h1.04v1.04h-1.04zM19 22h1.04v1.04h-1.04zM20 22h1.04v1.04h-1.04zM21 22h1.04v1.04h-1.04zM22 22h1.04v1.04h-1.04z" fill="#f87f2c"/>
<path d="M10 9h1.04v1.04h-1.04z" fill="#983103"/>
<path d="M11 9h1.04v1.04h-1.04zM11 10h1.04v1.04h-1.04zM10 20h1.04v1.04h-1.04zM10 21h1.04v1.04h-1.04zM10 22h1.04v1.04h-1.04z" fill="#a43503"/>
<path d="M2 10h1.04v1.04h-1.04zM3 10h1.04v1.04h-1.04zM4 10h1.04v1.04h-1.04zM5 10h1.04v1.04h-1.04zM6 10h1.04v1.04h-1.04zM7 10h1.04v1.04h-1.04zM8 10h1.04v1.04h-1.04zM3 12h1.04v1.04h-1.04zM4 12h1.04v1.04h-1.04zM5 12h1.04v1.04h-1.04zM6 12h1.04v1.04h-1.04zM7 12h1.04v1.04h-1.04zM8 12h1.04v1.04h-1.04z" fill="#fff0e2"/>
<path d="M9 10h1.04v1.04h-1.04z" fill="#f77c28"/>
<path d="M10 10h1.04v1.04h-1.04z" fill="#7f2704"/>
<path d="M5 11h1.04v1.04h-1.04zM6 11h1.04v1.04h-1.04zM7 11h1.04v1.04h-1.04zM8 11h1.04v1.04h-1.04zM10 14h1.04v1.04h-1.04z" fill="#ffefdf"/>
<path d="M1 12h1.04v1.04h-1.04zM2 12h1.04v1.04h-1.04zM11 12h1.04v1.04h-1.04zM11 13h1.04v1.04h-1.04zM12 13h1.04v1.04h-1.04zM11 14h1.04v1.04h-1.04zM12 14h1.04v1.04h-1.04zM10 16h1.04v1.04h-1.04zM1 17h1.04v1.04h-1.04zM2 17h1.04v1.04h-1.04zM3 17h1.04v1.04h-1.04z" fill="#fee2c5"/>
<path d="M4 13h1.04v1.04h-1.04zM5 13h1.04v1.04h-1.04zM6 13h1.04v1.04h-1.04zM7 13h1.04v1.04h-1.04zM8 13h1.04v1.04h-1.04zM9 13h1.04v1.04h-1.04zM4 15h1.04v1.04h-1.04zM5 15h1.04v1.04h-1.04zM6 15h1.04v1.04h-1.04zM7 15h1.04v1.04h-1.04zM8 15h1.04v1.04h-1.04zM9 15h1.04v1.04h-1.04z" fill="#fff1e4"/>
<path d="M10 13h1.04v1.04h-1.04zM10 15h1.04v1.04h-1.04z" fill="#feebd8"/>
<path d="M2 14h1.04v1.04h-1.04zM3 14h1.04v1.04h-1.04zM4 14h1.04v1.04h-1.04z" fill="#feeddb"/>
<path d="M5 14h1.04v1.04h-1.04zM6 14h1.04v1.04h-1.04zM7 14h1.04v1.04h-1.04zM8 14h1.04v1.04h-1.04zM9 14h1.04v1.04h-1.04z" fill="#fff3e6"/>
<path d="M-2 19h1.04v1.04h-1.04zM-1 19h1.04v1.04h-1.04zM0 19h1.04v1.04h-1.04z" fill="#df5005"/>
<path d="M11 19h1.04v1.04h-1.04zM12 19h1.04v1.04h-1.04zM12 20h1.04v1.04h-1.04zM13 20h1.04v1.04h-1.04zM12 21h1.04v1.04h-1.04zM13 21h1.04v1.04h-1.04zM12 22h1.04v1.04h-1.04zM13 22h1.04v1.04h-1.04z" fill="#ec620f"/>
<path d="M-2 20h1.04v1.04h-1.04zM-1 20h1.04v1.04h-1.04zM0 20h1.04v1.04h-1.04zM-2 21h1.04v1.04h-1.04zM-1 21h1.04v1.04h-1.04zM0 21h1.04v1.04h-1.04zM-2 22h1.04v1.04h-1.04zM-1 22h1.04v1.04h-1.04zM0 22h1.04v1.04h-1.04z" fill="#8f2d04"/>
<path d="M1 20h1.04v1.04h-1.04zM2 20h1.04v1.04h-1.04zM7 20h1.04v1.04h-1.04zM8 20h1.04v1.04h-1.04zM1 21h1.04v1.04h-1.04zM2 21h1.04v1.04h-1.04zM7 21h1.04v1.04h-1.04zM8 21h1.04v1.04h-1.04zM1 22h1.04v1.04h-1.04zM2 22h1.04v1.04h-1.04zM7 22h1.04v1.04h-1.04zM8 22h1.04v1.04h-1.04z" fill="#f16a15"/>
<path d="M9 20h1.04v1.04h-1.04zM9 21h1.04v1.04h-1.04zM9 22h1.04v1.04h-1.04z" fill="#cd4401"/>
<path d="M11 20h1.04v1.04h-1.04zM11 21h1.04v1.04h-1.04zM11 22h1.04v1.04h-1.04z" fill="#d94801"/>
</g></g>
<circle cx="133.20" cy="535.10" r="25.77" fill="none" stroke="#279127" stroke-width="1.5"/>
<circle cx="133.20" cy="535.10" r="34.36" fill="none" stroke="#3c9c3c" stroke-width="1.1" stroke-dasharray="3 2"/>
<circle cx="133.20" cy="535.10" r="51.54" fill="none" stroke="#3c9c3c" stroke-width="1.1" stroke-dasharray="3 2"/>
<path d="M43 535.10H223.4M133.20 445V625.2" stroke="#1a1a1a" stroke-width="1.1" stroke-opacity="0.9"/>
</g>
<rect x="48.1" y="453.6" width="82.30" height="19.30" rx="3" ry="3" fill="#f3dfbc" stroke="#5a4d42" stroke-width="1.1"/>
<text x="89.25" y="466.90" font-size="11.2" text-anchor="middle" fill="#1c1c84" stroke="#1c1c84" stroke-width="0.35">SPIRE 500 <tspan font-style="italic">μ</tspan>m</text>
<path d="M207.43,469.40L199.50,482.60L186.44,474.44" fill="none" stroke="#111" stroke-width="1.6"/>
<circle cx="207.43" cy="469.40" r="1.2" fill="#111"/><circle cx="186.44" cy="474.44" r="1.2" fill="#111"/>
<text x="208.10" y="460.00" font-size="15.5" text-anchor="middle" dominant-baseline="central" fill="#111" stroke="#111" stroke-width="0.55" font-family="Liberation Serif" transform="rotate(31 208.10 460.00)">N</text>
<text x="185.80" y="463.80" font-size="15.5" text-anchor="middle" dominant-baseline="central" fill="#111" stroke="#111" stroke-width="0.55" font-family="Liberation Serif" transform="rotate(31 185.80 463.80)">E</text>
<rect x="43" y="445" width="180.40" height="180.20" fill="none" stroke="#5a5a5a" stroke-width="1" stroke-opacity="0.75"/>
<path d="M71.84 625.2v2.5" stroke="#666" stroke-width="0.8"/>
<text x="71.84" y="637.80" font-size="10" text-anchor="middle" fill="#1a1a1a" stroke="#1a1a1a" stroke-width="0.25">−100</text>
<path d="M133.20 625.2v2.5" stroke="#666" stroke-width="0.8"/>
<text x="133.20" y="637.80" font-size="10" text-anchor="middle" fill="#1a1a1a" stroke="#1a1a1a" stroke-width="0.25">0</text>
<path d="M194.56 625.2v2.5" stroke="#666" stroke-width="0.8"/>
<text x="194.56" y="637.80" font-size="10" text-anchor="middle" fill="#1a1a1a" stroke="#1a1a1a" stroke-width="0.25">100</text>
<path d="M40.5 473.74h2.5" stroke="#666" stroke-width="0.8"/>
<text x="39.00" y="477.34" font-size="10" text-anchor="end" fill="#1a1a1a" stroke="#1a1a1a" stroke-width="0.25">100</text>
<path d="M40.5 504.42h2.5" stroke="#666" stroke-width="0.8"/>
<text x="39.00" y="508.02" font-size="10" text-anchor="end" fill="#1a1a1a" stroke="#1a1a1a" stroke-width="0.25">50</text>
<path d="M40.5 535.10h2.5" stroke="#666" stroke-width="0.8"/>
<text x="39.00" y="538.70" font-size="10" text-anchor="end" fill="#1a1a1a" stroke="#1a1a1a" stroke-width="0.25">0</text>
<path d="M40.5 565.78h2.5" stroke="#666" stroke-width="0.8"/>
<text x="39.00" y="569.38" font-size="10" text-anchor="end" fill="#1a1a1a" stroke="#1a1a1a" stroke-width="0.25">−50</text>
<path d="M40.5 596.46h2.5" stroke="#666" stroke-width="0.8"/>
<text x="39.00" y="600.06" font-size="10" text-anchor="end" fill="#1a1a1a" stroke="#1a1a1a" stroke-width="0.25">−100</text>
<text x="133.20" y="650.20" font-size="11" text-anchor="middle" fill="#1a1a1a" stroke="#1a1a1a" stroke-width="0.25">Distance (<tspan font-style="italic">″</tspan>)</text>
<text x="11.30" y="535.10" font-size="11" text-anchor="middle" fill="#1a1a1a" stroke="#1a1a1a" stroke-width="0.25" transform="rotate(-90 11.30 535.10)">Distance (<tspan font-style="italic">″</tspan>)</text>
<rect x="239.2" y="445" width="9.50" height="179.90" fill="url(#L3g)" stroke="#5a5a5a" stroke-width="1" stroke-opacity="0.8"/>
<path d="M248.7 605.90h2.5" stroke="#666" stroke-width="0.8"/>
<text x="252.70" y="609.50" font-size="10" text-anchor="start" fill="#1a1a1a" stroke="#1a1a1a" stroke-width="0.25">0.14</text>
<path d="M248.7 575.25h2.5" stroke="#666" stroke-width="0.8"/>
<text x="252.70" y="578.85" font-size="10" text-anchor="start" fill="#1a1a1a" stroke="#1a1a1a" stroke-width="0.25">0.15</text>
<path d="M248.7 544.60h2.5" stroke="#666" stroke-width="0.8"/>
<text x="252.70" y="548.20" font-size="10" text-anchor="start" fill="#1a1a1a" stroke="#1a1a1a" stroke-width="0.25">0.16</text>
<path d="M248.7 513.96h2.5" stroke="#666" stroke-width="0.8"/>
<text x="252.70" y="517.56" font-size="10" text-anchor="start" fill="#1a1a1a" stroke="#1a1a1a" stroke-width="0.25">0.17</text>
<path d="M248.7 483.31h2.5" stroke="#666" stroke-width="0.8"/>
<text x="252.70" y="486.91" font-size="10" text-anchor="start" fill="#1a1a1a" stroke="#1a1a1a" stroke-width="0.25">0.18</text>
<path d="M248.7 452.66h2.5" stroke="#666" stroke-width="0.8"/>
<text x="252.70" y="456.26" font-size="10" text-anchor="start" fill="#1a1a1a" stroke="#1a1a1a" stroke-width="0.25">0.19</text>
<text x="282.20" y="535.00" font-size="10.5" text-anchor="middle" fill="#1a1a1a" stroke="#1a1a1a" stroke-width="0.25" transform="rotate(-90 282.20 535.00)">Flux (Jy)</text>
<g clip-path="url(#L4c)">
<g filter="url(#hb45)"><g transform="translate(37.000,667.000) scale(4.3095,4.2929)">
<path d="M-2 -2h1.04v1.04h-1.04zM-1 -2h1.04v1.04h-1.04zM0 -2h1.04v1.04h-1.04zM-2 -1h1.04v1.04h-1.04zM-1 -1h1.04v1.04h-1.04zM0 -1h1.04v1.04h-1.04zM-2 0h1.04v1.04h-1.04zM-1 0h1.04v1.04h-1.04zM0 0h1.04v1.04h-1.04zM20 7h1.04v1.04h-1.04zM8 13h1.04v1.04h-1.04zM41 15h1.04v1.04h-1.04zM42 15h1.04v1.04h-1.04zM43 15h1.04v1.04h-1.04zM6 30h1.04v1.04h-1.04z" fill="#fd9b4f"/>
<path d="M1 -2h1.04v1.04h-1.04zM1 -1h1.04v1.04h-1.04zM1 0h1.04v1.04h-1.04zM7 19h1.04v1.04h-1.04zM2 21h1.04v1.04h-1.04zM3 26h1.04v1.04h-1.04zM22 28h1.04v1.04h-1.04z" fill="#fd9040"/>
<path d="M2 -2h1.04v1.04h-1.04zM2 -1h1.04v1.04h-1.04zM2 0h1.04v1.04h-1.04zM18 3h1.04v1.04h-1.04zM2 10h1.04v1.04h-1.04zM11 25h1.04v1.04h-1.04zM37 26h1.04v1.04h-1.04zM4 28h1.04v1.04h-1.04zM30 29h1.04v1.04h-1.04zM23 32h1.04v1.04h-1.04zM15 36h1.04v1.04h-1.04z" fill="#fdb87b"/>
<path d="M3 -2h1.04v1.04h-1.04zM32 -2h1.04v1.04h-1.04zM3 -1h1.04v1.04h-1.04zM32 -1h1.04v1.04h-1.04zM3 0h1.04v1.04h-1.04zM32 0h1.04v1.04h-1.04zM-2 1h1.04v1.04h-1.04zM-1 1h1.04v1.04h-1.04zM0 1h1.04v1.04h-1.04zM19 12h1.04v1.04h-1.04zM39 12h1.04v1.04h-1.04zM7 18h1.04v1.04h-1.04zM31 27h1.04v1.04h-1.04zM24 37h1.04v1.04h-1.04zM14 40h1.04v1.04h-1.04z" fill="#fdd5ad"/>
<path d="M4 -2h1.04v1.04h-1.04zM4 -1h1.04v1.04h-1.04zM4 0h1.04v1.04h-1.04zM20 8h1.04v1.04h-1.04zM9 9h1.04v1.04h-1.04zM38 12h1.04v1.04h-1.04zM28 13h1.04v1.04h-1.04zM20 17h1.04v1.04h-1.04zM8 30h1.04v1.04h-1.04z" fill="#fdb97d"/>
<path d="M5 -2h1.04v1.04h-1.04zM5 -1h1.04v1.04h-1.04zM5 0h1.04v1.04h-1.04zM13 9h1.04v1.04h-1.04zM21 26h1.04v1.04h-1.04zM10 34h1.04v1.04h-1.04zM39 38h1.04v1.04h-1.04z" fill="#fdcfa0"/>
<path d="M6 -2h1.04v1.04h-1.04zM39 -2h1.04v1.04h-1.04zM6 -1h1.04v1.04h-1.04zM39 -1h1.04v1.04h-1.04zM6 0h1.04v1.04h-1.04zM39 0h1.04v1.04h-1.04zM24 2h1.04v1.04h-1.04zM5 5h1.04v1.04h-1.04zM17 8h1.04v1.04h-1.04zM17 9h1.04v1.04h-1.04zM41 13h1.04v1.04h-1.04zM42 13h1.04v1.04h-1.04zM43 13h1.04v1.04h-1.04zM39 31h1.04v1.04h-1.04zM-2 36h1.04v1.04h-1.04zM-1 36h1.04v1.04h-1.04zM0 36h1.04v1.04h-1.04z" fill="#fd9a4e"/>
<path d="M7 -2h1.04v1.04h-1.04zM7 -1h1.04v1.04h-1.04zM7 0h1.04v1.04h-1.04zM7 9h1.04v1.04h-1.04zM27 31h1.04v1.04h-1.04z" fill="#e6590a"/>
<path d="M8 -2h1.04v1.04h-1.04zM8 -1h1.04v1.04h-1.04zM8 0h1.04v1.04h-1.04zM6 3h1.04v1.04h-1.04zM26 23h1.04v1.04h-1.04zM32 34h1.04v1.04h-1.04zM30 39h1.04v1.04h-1.04z" fill="#fda35c"/>
<path d="M9 -2h1.04v1.04h-1.04zM9 -1h1.04v1.04h-1.04zM9 0h1.04v1.04h-1.04zM17 12h1.04v1.04h-1.04zM11 20h1.04v1.04h-1.04zM39 22h1.04v1.04h-1.04zM30 28h1.04v1.04h-1.04zM33 30h1.04v1.04h-1.04zM19 39h1.04v1.04h-1.04z" fill="#fdbf87"/>
<path d="M10 -2h1.04v1.04h-1.04zM23 -2h1.04v1.04h-1.04zM36 -2h1.04v1.04h-1.04zM10 -1h1.04v1.04h-1.04zM23 -1h1.04v1.04h-1.04zM36 -1h1.04v1.04h-1.04zM10 0h1.04v1.04h-1.04zM23 0h1.04v1.04h-1.04zM36 0h1.04v1.04h-1.04zM40 8h1.04v1.04h-1.04z" fill="#fa8331"/>
<path d="M11 -2h1.04v1.04h-1.04zM11 -1h1.04v1.04h-1.04zM11 0h1.04v1.04h-1.04zM40 6h1.04v1.04h-1.04zM8 26h1.04v1.04h-1.04zM14 27h1.04v1.04h-1.04zM36 39h1.04v1.04h-1.04zM28 40h1.04v1.04h-1.04z" fill="#fb8837"/>
<path d="M12 -2h1.04v1.04h-1.04zM12 -1h1.04v1.04h-1.04zM12 0h1.04v1.04h-1.04zM10 4h1.04v1.04h-1.04zM13 5h1.04v1.04h-1.04zM7 6h1.04v1.04h-1.04zM17 13h1.04v1.04h-1.04zM23 13h1.04v1.04h-1.04zM22 17h1.04v1.04h-1.04zM11 19h1.04v1.04h-1.04zM19 23h1.04v1.04h-1.04zM27 24h1.04v1.04h-1.04zM37 27h1.04v1.04h-1.04zM37 34h1.04v1.04h-1.04zM6 37h1.04v1.04h-1.04zM30 37h1.04v1.04h-1.04z" fill="#fd9649"/>
<path d="M13 -2h1.04v1.04h-1.04zM17 -2h1.04v1.04h-1.04zM13 -1h1.04v1.04h-1.04zM17 -1h1.04v1.04h-1.04zM13 0h1.04v1.04h-1.04zM17 0h1.04v1.04h-1.04zM34 3h1.04v1.04h-1.04zM27 20h1.04v1.04h-1.04zM24 25h1.04v1.04h-1.04zM41 30h1.04v1.04h-1.04zM42 30h1.04v1.04h-1.04zM43 30h1.04v1.04h-1.04zM14 34h1.04v1.04h-1.04zM5 40h1.04v1.04h-1.04z" fill="#fdbe84"/>
<path d="M14 -2h1.04v1.04h-1.04zM14 -1h1.04v1.04h-1.04zM14 0h1.04v1.04h-1.04zM4 7h1.04v1.04h-1.04zM24 22h1.04v1.04h-1.04zM33 34h1.04v1.04h-1.04zM11 35h1.04v1.04h-1.04zM33 36h1.04v1.04h-1.04z" fill="#fd9648"/>
<path d="M15 -2h1.04v1.04h-1.04zM15 -1h1.04v1.04h-1.04zM15 0h1.04v1.04h-1.04zM34 6h1.04v1.04h-1.04zM29 9h1.04v1.04h-1.04zM2 19h1.04v1.04h-1.04zM21 21h1.04v1.04h-1.04zM9 23h1.04v1.04h-1.04zM23 23h1.04v1.04h-1.04zM38 23h1.04v1.04h-1.04zM29 31h1.04v1.04h-1.04zM21 37h1.04v1.04h-1.04z" fill="#f9802d"/>
<path d="M16 -2h1.04v1.04h-1.04zM16 -1h1.04v1.04h-1.04zM16 0h1.04v1.04h-1.04zM17 3h1.04v1.04h-1.04zM37 3h1.04v1.04h-1.04zM37 10h1.04v1.04h-1.04zM5 16h1.04v1.04h-1.04zM34 28h1.04v1.04h-1.04zM10 35h1.04v1.04h-1.04zM5 36h1.04v1.04h-1.04z" fill="#fdcd9d"/>
<path d="M18 -2h1.04v1.04h-1.04zM18 -1h1.04v1.04h-1.04zM18 0h1.04v1.04h-1.04zM41 19h1.04v1.04h-1.04zM42 19h1.04v1.04h-1.04zM43 19h1.04v1.04h-1.04z" fill="#fff2e5"/>
<path d="M19 -2h1.04v1.04h-1.04zM19 -1h1.04v1.04h-1.04zM19 0h1.04v1.04h-1.04zM15 2h1.04v1.04h-1.04zM38 6h1.04v1.04h-1.04zM15 11h1.04v1.04h-1.04zM39 11h1.04v1.04h-1.04zM9 28h1.04v1.04h-1.04zM26 37h1.04v1.04h-1.04z" fill="#fff0e1"/>
<path d="M20 -2h1.04v1.04h-1.04zM20 -1h1.04v1.04h-1.04zM20 0h1.04v1.04h-1.04zM20 14h1.04v1.04h-1.04zM6 23h1.04v1.04h-1.04z" fill="#fff3e8"/>
<path d="M21 -2h1.04v1.04h-1.04zM21 -1h1.04v1.04h-1.04zM21 0h1.04v1.04h-1.04zM12 10h1.04v1.04h-1.04zM3 25h1.04v1.04h-1.04z" fill="#fdd2a7"/>
<path d="M22 -2h1.04v1.04h-1.04zM22 -1h1.04v1.04h-1.04zM22 0h1.04v1.04h-1.04zM12 2h1.04v1.04h-1.04zM29 11h1.04v1.04h-1.04zM18 33h1.04v1.04h-1.04zM9 37h1.04v1.04h-1.04z" fill="#fdd3a7"/>
<path d="M24 -2h1.04v1.04h-1.04zM41 -2h1.04v1.04h-1.04zM42 -2h1.04v1.04h-1.04zM43 -2h1.04v1.04h-1.04zM24 -1h1.04v1.04h-1.04zM41 -1h1.04v1.04h-1.04zM42 -1h1.04v1.04h-1.04zM43 -1h1.04v1.04h-1.04zM24 0h1.04v1.04h-1.04zM41 0h1.04v1.04h-1.04zM42 0h1.04v1.04h-1.04zM43 0h1.04v1.04h-1.04zM36 2h1.04v1.04h-1.04zM20 5h1.04v1.04h-1.04zM27 5h1.04v1.04h-1.04zM33 5h1.04v1.04h-1.04zM2 11h1.04v1.04h-1.04zM34 21h1.04v1.04h-1.04zM4 27h1.04v1.04h-1.04zM1 36h1.04v1.04h-1.04z" fill="#fd8c3b"/>
<path d="M25 -2h1.04v1.04h-1.04zM25 -1h1.04v1.04h-1.04zM25 0h1.04v1.04h-1.04zM36 9h1.04v1.04h-1.04zM25 10h1.04v1.04h-1.04zM33 19h1.04v1.04h-1.04z" fill="#fdbc81"/>
<path d="M26 -2h1.04v1.04h-1.04zM26 -1h1.04v1.04h-1.04zM26 0h1.04v1.04h-1.04zM39 2h1.04v1.04h-1.04zM39 4h1.04v1.04h-1.04zM3 5h1.04v1.04h-1.04zM39 5h1.04v1.04h-1.04zM40 5h1.04v1.04h-1.04zM25 6h1.04v1.04h-1.04zM33 11h1.04v1.04h-1.04zM3 12h1.04v1.04h-1.04zM27 13h1.04v1.04h-1.04zM27 14h1.04v1.04h-1.04zM7 24h1.04v1.04h-1.04zM13 24h1.04v1.04h-1.04zM14 24h1.04v1.04h-1.04zM15 24h1.04v1.04h-1.04zM16 24h1.04v1.04h-1.04zM13 25h1.04v1.04h-1.04zM15 25h1.04v1.04h-1.04zM29 25h1.04v1.04h-1.04zM41 26h1.04v1.04h-1.04zM42 26h1.04v1.04h-1.04zM43 26h1.04v1.04h-1.04zM1 27h1.04v1.04h-1.04zM40 27h1.04v1.04h-1.04zM41 27h1.04v1.04h-1.04zM42 27h1.04v1.04h-1.04zM43 27h1.04v1.04h-1.04zM1 28h1.04v1.04h-1.04zM31 29h1.04v1.04h-1.04zM15 31h1.04v1.04h-1.04zM5 32h1.04v1.04h-1.04zM5 33h1.04v1.04h-1.04zM16 33h1.04v1.04h-1.04zM17 33h1.04v1.04h-1.04zM27 34h1.04v1.04h-1.04zM40 36h1.04v1.04h-1.04zM-2 38h1.04v1.04h-1.04zM-1 38h1.04v1.04h-1.04zM0 38h1.04v1.04h-1.04zM20 38h1.04v1.04h-1.04zM21 39h1.04v1.04h-1.04zM1 40h1.04v1.04h-1.04zM2 40h1.04v1.04h-1.04zM7 40h1.04v1.04h-1.04zM2 41h1.04v1.04h-1.04zM7 41h1.04v1.04h-1.04zM2 42h1.04v1.04h-1.04zM7 42h1.04v1.04h-1.04zM2 43h1.04v1.04h-1.04zM7 43h1.04v1.04h-1.04z" fill="#fff5eb"/>
<path d="M27 -2h1.04v1.04h-1.04zM27 -1h1.04v1.04h-1.04zM27 0h1.04v1.04h-1.04zM17 1h1.04v1.04h-1.04zM40 17h1.04v1.04h-1.04zM1 18h1.04v1.04h-1.04zM15 18h1.04v1.04h-1.04zM12 22h1.04v1.04h-1.04zM15 22h1.04v1.04h-1.04zM41 25h1.04v1.04h-1.04zM42 25h1.04v1.04h-1.04zM43 25h1.04v1.04h-1.04zM1 26h1.04v1.04h-1.04zM30 32h1.04v1.04h-1.04zM2 34h1.04v1.04h-1.04z" fill="#fdc28b"/>
<path d="M28 -2h1.04v1.04h-1.04zM28 -1h1.04v1.04h-1.04zM28 0h1.04v1.04h-1.04zM22 5h1.04v1.04h-1.04zM11 6h1.04v1.04h-1.04zM2 7h1.04v1.04h-1.04zM16 8h1.04v1.04h-1.04zM40 10h1.04v1.04h-1.04zM10 12h1.04v1.04h-1.04zM7 16h1.04v1.04h-1.04zM10 16h1.04v1.04h-1.04zM16 26h1.04v1.04h-1.04zM28 37h1.04v1.04h-1.04zM33 38h1.04v1.04h-1.04zM41 39h1.04v1.04h-1.04zM42 39h1.04v1.04h-1.04zM43 39h1.04v1.04h-1.04z" fill="#fd9446"/>
<path d="M29 -2h1.04v1.04h-1.04zM29 -1h1.04v1.04h-1.04zM29 0h1.04v1.04h-1.04zM4 14h1.04v1.04h-1.04z" fill="#fda762"/>
<path d="M30 -2h1.04v1.04h-1.04zM30 -1h1.04v1.04h-1.04zM30 0h1.04v1.04h-1.04zM31 8h1.04v1.04h-1.04zM25 11h1.04v1.04h-1.04zM2 17h1.04v1.04h-1.04zM28 20h1.04v1.04h-1.04zM24 38h1.04v1.04h-1.04z" fill="#fee8d2"/>
<path d="M31 -2h1.04v1.04h-1.04zM31 -1h1.04v1.04h-1.04zM31 0h1.04v1.04h-1.04zM38 11h1.04v1.04h-1.04zM19 27h1.04v1.04h-1.04zM32 31h1.04v1.04h-1.04zM34 32h1.04v1.04h-1.04z" fill="#fdce9e"/>
<path d="M33 -2h1.04v1.04h-1.04zM33 -1h1.04v1.04h-1.04zM33 0h1.04v1.04h-1.04zM14 7h1.04v1.04h-1.04zM37 8h1.04v1.04h-1.04zM41 8h1.04v1.04h-1.04zM42 8h1.04v1.04h-1.04zM43 8h1.04v1.04h-1.04zM7 10h1.04v1.04h-1.04zM38 25h1.04v1.04h-1.04zM2 38h1.04v1.04h-1.04zM4 40h1.04v1.04h-1.04z" fill="#fdc48f"/>
<path d="M34 -2h1.04v1.04h-1.04zM34 -1h1.04v1.04h-1.04zM34 0h1.04v1.04h-1.04zM7 2h1.04v1.04h-1.04zM4 6h1.04v1.04h-1.04zM12 7h1.04v1.04h-1.04zM2 14h1.04v1.04h-1.04zM26 16h1.04v1.04h-1.04zM-2 22h1.04v1.04h-1.04zM-1 22h1.04v1.04h-1.04zM0 22h1.04v1.04h-1.04zM20 23h1.04v1.04h-1.04zM37 31h1.04v1.04h-1.04z" fill="#f36f1a"/>
<path d="M35 -2h1.04v1.04h-1.04zM35 -1h1.04v1.04h-1.04zM35 0h1.04v1.04h-1.04zM16 3h1.04v1.04h-1.04zM19 3h1.04v1.04h-1.04zM29 17h1.04v1.04h-1.04zM23 20h1.04v1.04h-1.04zM21 22h1.04v1.04h-1.04z" fill="#fdb678"/>
<path d="M37 -2h1.04v1.04h-1.04zM37 -1h1.04v1.04h-1.04zM37 0h1.04v1.04h-1.04zM7 29h1.04v1.04h-1.04z" fill="#e95f0d"/>
<path d="M38 -2h1.04v1.04h-1.04zM38 -1h1.04v1.04h-1.04zM38 0h1.04v1.04h-1.04zM11 11h1.04v1.04h-1.04zM16 25h1.04v1.04h-1.04zM26 28h1.04v1.04h-1.04zM21 29h1.04v1.04h-1.04zM9 36h1.04v1.04h-1.04zM8 41h1.04v1.04h-1.04zM8 42h1.04v1.04h-1.04zM8 43h1.04v1.04h-1.04z" fill="#fdb06e"/>
<path d="M40 -2h1.04v1.04h-1.04zM40 -1h1.04v1.04h-1.04zM40 0h1.04v1.04h-1.04zM6 34h1.04v1.04h-1.04z" fill="#f87d29"/>
<path d="M1 1h1.04v1.04h-1.04zM21 3h1.04v1.04h-1.04zM25 4h1.04v1.04h-1.04zM16 21h1.04v1.04h-1.04zM5 23h1.04v1.04h-1.04zM18 37h1.04v1.04h-1.04zM11 38h1.04v1.04h-1.04zM37 38h1.04v1.04h-1.04zM14 41h1.04v1.04h-1.04zM14 42h1.04v1.04h-1.04zM14 43h1.04v1.04h-1.04z" fill="#fd9d53"/>
<path d="M2 1h1.04v1.04h-1.04zM3 29h1.04v1.04h-1.04zM23 34h1.04v1.04h-1.04z" fill="#f26b16"/>
<path d="M3 1h1.04v1.04h-1.04zM38 19h1.04v1.04h-1.04zM21 25h1.04v1.04h-1.04zM9 35h1.04v1.04h-1.04z" fill="#fdd8b1"/>
<path d="M4 1h1.04v1.04h-1.04zM33 4h1.04v1.04h-1.04zM34 4h1.04v1.04h-1.04zM34 7h1.04v1.04h-1.04zM10 18h1.04v1.04h-1.04zM29 19h1.04v1.04h-1.04zM22 29h1.04v1.04h-1.04zM22 30h1.04v1.04h-1.04zM38 38h1.04v1.04h-1.04zM23 40h1.04v1.04h-1.04z" fill="#f67824"/>
<path d="M5 1h1.04v1.04h-1.04zM29 14h1.04v1.04h-1.04zM39 20h1.04v1.04h-1.04zM24 21h1.04v1.04h-1.04z" fill="#fd9141"/>
<path d="M6 1h1.04v1.04h-1.04zM41 2h1.04v1.04h-1.04zM42 2h1.04v1.04h-1.04zM43 2h1.04v1.04h-1.04zM26 10h1.04v1.04h-1.04zM18 22h1.04v1.04h-1.04zM23 24h1.04v1.04h-1.04z" fill="#fd9e55"/>
<path d="M7 1h1.04v1.04h-1.04z" fill="#a33503"/>
<path d="M8 1h1.04v1.04h-1.04zM18 28h1.04v1.04h-1.04z" fill="#f06813"/>
<path d="M9 1h1.04v1.04h-1.04zM41 12h1.04v1.04h-1.04zM42 12h1.04v1.04h-1.04zM43 12h1.04v1.04h-1.04zM14 26h1.04v1.04h-1.04zM17 32h1.04v1.04h-1.04zM25 37h1.04v1.04h-1.04zM1 41h1.04v1.04h-1.04zM13 41h1.04v1.04h-1.04zM1 42h1.04v1.04h-1.04zM13 42h1.04v1.04h-1.04zM1 43h1.04v1.04h-1.04zM13 43h1.04v1.04h-1.04z" fill="#fdc793"/>
<path d="M10 1h1.04v1.04h-1.04zM1 6h1.04v1.04h-1.04zM13 6h1.04v1.04h-1.04zM31 10h1.04v1.04h-1.04zM37 14h1.04v1.04h-1.04zM25 26h1.04v1.04h-1.04zM17 40h1.04v1.04h-1.04z" fill="#fd9142"/>
<path d="M11 1h1.04v1.04h-1.04zM39 9h1.04v1.04h-1.04zM22 12h1.04v1.04h-1.04zM9 22h1.04v1.04h-1.04zM6 25h1.04v1.04h-1.04zM12 29h1.04v1.04h-1.04zM36 31h1.04v1.04h-1.04zM19 34h1.04v1.04h-1.04z" fill="#f57622"/>
<path d="M12 1h1.04v1.04h-1.04zM24 17h1.04v1.04h-1.04zM8 20h1.04v1.04h-1.04zM25 28h1.04v1.04h-1.04zM8 31h1.04v1.04h-1.04zM36 35h1.04v1.04h-1.04zM28 36h1.04v1.04h-1.04zM8 37h1.04v1.04h-1.04zM10 39h1.04v1.04h-1.04zM10 41h1.04v1.04h-1.04zM10 42h1.04v1.04h-1.04zM10 43h1.04v1.04h-1.04z" fill="#fda057"/>
<path d="M13 1h1.04v1.04h-1.04zM34 13h1.04v1.04h-1.04zM30 20h1.04v1.04h-1.04zM29 29h1.04v1.04h-1.04z" fill="#fb8735"/>
<path d="M14 1h1.04v1.04h-1.04zM13 2h1.04v1.04h-1.04zM9 4h1.04v1.04h-1.04zM26 6h1.04v1.04h-1.04z" fill="#fda45d"/>
<path d="M15 1h1.04v1.04h-1.04zM14 3h1.04v1.04h-1.04zM10 6h1.04v1.04h-1.04zM4 8h1.04v1.04h-1.04zM38 21h1.04v1.04h-1.04zM20 24h1.04v1.04h-1.04z" fill="#f98230"/>
<path d="M16 1h1.04v1.04h-1.04zM32 16h1.04v1.04h-1.04zM29 36h1.04v1.04h-1.04z" fill="#f06712"/>
<path d="M18 1h1.04v1.04h-1.04zM26 3h1.04v1.04h-1.04zM28 3h1.04v1.04h-1.04zM2 9h1.04v1.04h-1.04zM38 13h1.04v1.04h-1.04zM18 16h1.04v1.04h-1.04zM36 21h1.04v1.04h-1.04zM20 31h1.04v1.04h-1.04zM35 36h1.04v1.04h-1.04zM9 38h1.04v1.04h-1.04zM29 38h1.04v1.04h-1.04z" fill="#fdaa65"/>
<path d="M19 1h1.04v1.04h-1.04zM29 3h1.04v1.04h-1.04zM27 10h1.04v1.04h-1.04zM30 26h1.04v1.04h-1.04zM11 28h1.04v1.04h-1.04zM35 38h1.04v1.04h-1.04z" fill="#fdb474"/>
<path d="M20 1h1.04v1.04h-1.04zM1 13h1.04v1.04h-1.04zM17 15h1.04v1.04h-1.04zM26 17h1.04v1.04h-1.04zM33 23h1.04v1.04h-1.04zM12 24h1.04v1.04h-1.04zM8 36h1.04v1.04h-1.04z" fill="#fdba7e"/>
<path d="M21 1h1.04v1.04h-1.04zM24 12h1.04v1.04h-1.04zM2 33h1.04v1.04h-1.04zM22 38h1.04v1.04h-1.04zM20 41h1.04v1.04h-1.04zM20 42h1.04v1.04h-1.04zM20 43h1.04v1.04h-1.04z" fill="#fee2c6"/>
<path d="M22 1h1.04v1.04h-1.04zM41 5h1.04v1.04h-1.04zM42 5h1.04v1.04h-1.04zM43 5h1.04v1.04h-1.04zM35 34h1.04v1.04h-1.04zM6 41h1.04v1.04h-1.04zM6 42h1.04v1.04h-1.04zM6 43h1.04v1.04h-1.04z" fill="#fdca99"/>
<path d="M23 1h1.04v1.04h-1.04zM2 20h1.04v1.04h-1.04zM1 23h1.04v1.04h-1.04zM22 24h1.04v1.04h-1.04zM-2 28h1.04v1.04h-1.04zM-1 28h1.04v1.04h-1.04zM0 28h1.04v1.04h-1.04z" fill="#fd9b50"/>
<path d="M24 1h1.04v1.04h-1.04zM8 19h1.04v1.04h-1.04zM19 28h1.04v1.04h-1.04zM7 37h1.04v1.04h-1.04zM38 39h1.04v1.04h-1.04z" fill="#ec620f"/>
<path d="M25 1h1.04v1.04h-1.04zM-2 7h1.04v1.04h-1.04zM-1 7h1.04v1.04h-1.04zM0 7h1.04v1.04h-1.04zM26 8h1.04v1.04h-1.04zM33 14h1.04v1.04h-1.04zM10 25h1.04v1.04h-1.04zM2 36h1.04v1.04h-1.04zM31 40h1.04v1.04h-1.04z" fill="#f26c17"/>
<path d="M26 1h1.04v1.04h-1.04zM39 19h1.04v1.04h-1.04zM18 32h1.04v1.04h-1.04zM14 33h1.04v1.04h-1.04zM25 40h1.04v1.04h-1.04z" fill="#fee0c1"/>
<path d="M27 1h1.04v1.04h-1.04zM28 2h1.04v1.04h-1.04zM22 4h1.04v1.04h-1.04zM17 5h1.04v1.04h-1.04zM-2 21h1.04v1.04h-1.04zM-1 21h1.04v1.04h-1.04zM0 21h1.04v1.04h-1.04zM40 37h1.04v1.04h-1.04z" fill="#fdcfa1"/>
<path d="M28 1h1.04v1.04h-1.04zM20 11h1.04v1.04h-1.04zM28 12h1.04v1.04h-1.04zM37 12h1.04v1.04h-1.04zM13 14h1.04v1.04h-1.04zM20 18h1.04v1.04h-1.04zM27 23h1.04v1.04h-1.04zM5 35h1.04v1.04h-1.04z" fill="#fd9c52"/>
<path d="M29 1h1.04v1.04h-1.04zM37 25h1.04v1.04h-1.04zM3 32h1.04v1.04h-1.04z" fill="#feeddc"/>
<path d="M30 1h1.04v1.04h-1.04zM1 2h1.04v1.04h-1.04zM30 7h1.04v1.04h-1.04zM35 11h1.04v1.04h-1.04zM34 29h1.04v1.04h-1.04z" fill="#fdd4a9"/>
<path d="M31 1h1.04v1.04h-1.04zM36 6h1.04v1.04h-1.04zM10 22h1.04v1.04h-1.04zM29 37h1.04v1.04h-1.04z" fill="#fdac68"/>
<path d="M32 1h1.04v1.04h-1.04zM32 13h1.04v1.04h-1.04zM23 26h1.04v1.04h-1.04zM2 37h1.04v1.04h-1.04zM27 40h1.04v1.04h-1.04z" fill="#ed6410"/>
<path d="M33 1h1.04v1.04h-1.04zM34 2h1.04v1.04h-1.04zM26 5h1.04v1.04h-1.04zM5 14h1.04v1.04h-1.04zM36 15h1.04v1.04h-1.04zM34 20h1.04v1.04h-1.04zM30 31h1.04v1.04h-1.04zM33 33h1.04v1.04h-1.04z" fill="#f67925"/>
<path d="M34 1h1.04v1.04h-1.04zM40 1h1.04v1.04h-1.04zM35 10h1.04v1.04h-1.04zM14 14h1.04v1.04h-1.04zM3 22h1.04v1.04h-1.04zM22 37h1.04v1.04h-1.04z" fill="#fd9a4f"/>
<path d="M35 1h1.04v1.04h-1.04zM3 2h1.04v1.04h-1.04zM40 16h1.04v1.04h-1.04zM18 27h1.04v1.04h-1.04zM15 34h1.04v1.04h-1.04zM30 36h1.04v1.04h-1.04zM12 41h1.04v1.04h-1.04zM12 42h1.04v1.04h-1.04zM12 43h1.04v1.04h-1.04z" fill="#fdad69"/>
<path d="M36 1h1.04v1.04h-1.04zM11 9h1.04v1.04h-1.04zM16 10h1.04v1.04h-1.04zM15 14h1.04v1.04h-1.04zM21 28h1.04v1.04h-1.04zM12 30h1.04v1.04h-1.04zM30 40h1.04v1.04h-1.04z" fill="#fd994d"/>
<path d="M37 1h1.04v1.04h-1.04zM8 3h1.04v1.04h-1.04zM38 15h1.04v1.04h-1.04zM26 24h1.04v1.04h-1.04zM12 37h1.04v1.04h-1.04zM23 41h1.04v1.04h-1.04zM23 42h1.04v1.04h-1.04zM23 43h1.04v1.04h-1.04z" fill="#e05106"/>
<path d="M38 1h1.04v1.04h-1.04zM11 4h1.04v1.04h-1.04zM21 8h1.04v1.04h-1.04zM33 28h1.04v1.04h-1.04zM39 32h1.04v1.04h-1.04zM4 36h1.04v1.04h-1.04zM35 39h1.04v1.04h-1.04z" fill="#fdaf6c"/>
<path d="M39 1h1.04v1.04h-1.04zM29 2h1.04v1.04h-1.04zM38 2h1.04v1.04h-1.04zM30 6h1.04v1.04h-1.04zM9 10h1.04v1.04h-1.04zM15 12h1.04v1.04h-1.04zM27 17h1.04v1.04h-1.04zM28 19h1.04v1.04h-1.04zM29 23h1.04v1.04h-1.04zM11 24h1.04v1.04h-1.04zM25 35h1.04v1.04h-1.04zM26 35h1.04v1.04h-1.04zM3 36h1.04v1.04h-1.04zM8 40h1.04v1.04h-1.04z" fill="#fdc088"/>
<path d="M41 1h1.04v1.04h-1.04zM42 1h1.04v1.04h-1.04zM43 1h1.04v1.04h-1.04zM-2 13h1.04v1.04h-1.04zM-1 13h1.04v1.04h-1.04zM0 13h1.04v1.04h-1.04zM13 17h1.04v1.04h-1.04zM10 21h1.04v1.04h-1.04zM28 24h1.04v1.04h-1.04zM20 32h1.04v1.04h-1.04zM31 32h1.04v1.04h-1.04zM3 33h1.04v1.04h-1.04zM15 35h1.04v1.04h-1.04zM31 36h1.04v1.04h-1.04z" fill="#fda660"/>
<path d="M-2 2h1.04v1.04h-1.04zM-1 2h1.04v1.04h-1.04zM0 2h1.04v1.04h-1.04zM21 2h1.04v1.04h-1.04zM29 12h1.04v1.04h-1.04zM18 14h1.04v1.04h-1.04zM6 17h1.04v1.04h-1.04zM26 21h1.04v1.04h-1.04zM39 24h1.04v1.04h-1.04zM17 26h1.04v1.04h-1.04z" fill="#fdc48e"/>
<path d="M2 2h1.04v1.04h-1.04zM7 11h1.04v1.04h-1.04zM19 15h1.04v1.04h-1.04z" fill="#fdab66"/>
<path d="M4 2h1.04v1.04h-1.04zM21 13h1.04v1.04h-1.04z" fill="#e75b0b"/>
<path d="M5 2h1.04v1.04h-1.04zM8 15h1.04v1.04h-1.04zM41 33h1.04v1.04h-1.04zM42 33h1.04v1.04h-1.04zM43 33h1.04v1.04h-1.04zM17 35h1.04v1.04h-1.04zM27 41h1.04v1.04h-1.04zM27 42h1.04v1.04h-1.04zM27 43h1.04v1.04h-1.04z" fill="#ef6611"/>
<path d="M6 2h1.04v1.04h-1.04zM1 7h1.04v1.04h-1.04zM6 10h1.04v1.04h-1.04zM29 10h1.04v1.04h-1.04zM12 11h1.04v1.04h-1.04zM13 13h1.04v1.04h-1.04zM39 15h1.04v1.04h-1.04zM35 21h1.04v1.04h-1.04zM7 28h1.04v1.04h-1.04z" fill="#fd8e3d"/>
<path d="M8 2h1.04v1.04h-1.04zM5 10h1.04v1.04h-1.04zM6 18h1.04v1.04h-1.04zM3 21h1.04v1.04h-1.04zM25 24h1.04v1.04h-1.04zM28 25h1.04v1.04h-1.04zM24 31h1.04v1.04h-1.04zM24 32h1.04v1.04h-1.04zM39 40h1.04v1.04h-1.04z" fill="#fa8432"/>
<path d="M9 2h1.04v1.04h-1.04zM34 14h1.04v1.04h-1.04z" fill="#e85c0c"/>
<path d="M10 2h1.04v1.04h-1.04zM27 11h1.04v1.04h-1.04zM11 13h1.04v1.04h-1.04zM34 23h1.04v1.04h-1.04zM2 24h1.04v1.04h-1.04z" fill="#fb8836"/>
<path d="M11 2h1.04v1.04h-1.04zM26 2h1.04v1.04h-1.04zM33 6h1.04v1.04h-1.04zM32 11h1.04v1.04h-1.04zM21 12h1.04v1.04h-1.04zM33 16h1.04v1.04h-1.04zM21 18h1.04v1.04h-1.04zM8 27h1.04v1.04h-1.04zM20 35h1.04v1.04h-1.04zM22 41h1.04v1.04h-1.04zM22 42h1.04v1.04h-1.04zM22 43h1.04v1.04h-1.04z" fill="#fa8533"/>
<path d="M14 2h1.04v1.04h-1.04zM12 25h1.04v1.04h-1.04zM5 31h1.04v1.04h-1.04z" fill="#fee7cf"/>
<path d="M16 2h1.04v1.04h-1.04zM1 11h1.04v1.04h-1.04zM38 27h1.04v1.04h-1.04z" fill="#fdbb81"/>
<path d="M17 2h1.04v1.04h-1.04zM13 8h1.04v1.04h-1.04zM37 11h1.04v1.04h-1.04zM13 26h1.04v1.04h-1.04zM32 29h1.04v1.04h-1.04zM6 36h1.04v1.04h-1.04zM40 40h1.04v1.04h-1.04zM24 41h1.04v1.04h-1.04zM24 42h1.04v1.04h-1.04zM24 43h1.04v1.04h-1.04z" fill="#fdd1a4"/>
<path d="M18 2h1.04v1.04h-1.04zM18 9h1.04v1.04h-1.04zM25 16h1.04v1.04h-1.04zM40 20h1.04v1.04h-1.04zM36 23h1.04v1.04h-1.04zM33 24h1.04v1.04h-1.04zM33 25h1.04v1.04h-1.04zM19 31h1.04v1.04h-1.04zM32 36h1.04v1.04h-1.04z" fill="#fd9345"/>
<path d="M19 2h1.04v1.04h-1.04z" fill="#c74202"/>
<path d="M20 2h1.04v1.04h-1.04zM10 5h1.04v1.04h-1.04zM6 12h1.04v1.04h-1.04zM22 16h1.04v1.04h-1.04zM3 20h1.04v1.04h-1.04zM25 36h1.04v1.04h-1.04z" fill="#fdb16f"/>
<path d="M22 2h1.04v1.04h-1.04zM27 6h1.04v1.04h-1.04zM21 33h1.04v1.04h-1.04z" fill="#fd9244"/>
<path d="M23 2h1.04v1.04h-1.04zM29 4h1.04v1.04h-1.04zM17 22h1.04v1.04h-1.04z" fill="#f87f2c"/>
<path d="M25 2h1.04v1.04h-1.04zM20 15h1.04v1.04h-1.04zM19 16h1.04v1.04h-1.04zM15 19h1.04v1.04h-1.04zM21 19h1.04v1.04h-1.04zM4 23h1.04v1.04h-1.04zM10 30h1.04v1.04h-1.04zM22 34h1.04v1.04h-1.04z" fill="#fd9c51"/>
<path d="M27 2h1.04v1.04h-1.04zM32 5h1.04v1.04h-1.04zM21 11h1.04v1.04h-1.04zM24 26h1.04v1.04h-1.04zM3 28h1.04v1.04h-1.04zM14 30h1.04v1.04h-1.04zM41 38h1.04v1.04h-1.04zM42 38h1.04v1.04h-1.04zM43 38h1.04v1.04h-1.04z" fill="#fd8f3f"/>
<path d="M30 2h1.04v1.04h-1.04zM21 4h1.04v1.04h-1.04zM9 24h1.04v1.04h-1.04zM13 35h1.04v1.04h-1.04z" fill="#fdbd83"/>
<path d="M31 2h1.04v1.04h-1.04zM38 7h1.04v1.04h-1.04zM7 17h1.04v1.04h-1.04zM20 37h1.04v1.04h-1.04z" fill="#fdd0a2"/>
<path d="M32 2h1.04v1.04h-1.04zM35 2h1.04v1.04h-1.04zM9 6h1.04v1.04h-1.04zM16 9h1.04v1.04h-1.04zM20 12h1.04v1.04h-1.04zM12 13h1.04v1.04h-1.04zM-2 14h1.04v1.04h-1.04zM-1 14h1.04v1.04h-1.04zM0 14h1.04v1.04h-1.04zM1 14h1.04v1.04h-1.04zM23 15h1.04v1.04h-1.04zM5 18h1.04v1.04h-1.04zM40 21h1.04v1.04h-1.04zM38 28h1.04v1.04h-1.04zM11 29h1.04v1.04h-1.04zM14 36h1.04v1.04h-1.04zM15 39h1.04v1.04h-1.04z" fill="#fb8634"/>
<path d="M33 2h1.04v1.04h-1.04zM17 6h1.04v1.04h-1.04zM35 9h1.04v1.04h-1.04zM7 12h1.04v1.04h-1.04zM23 12h1.04v1.04h-1.04zM15 13h1.04v1.04h-1.04zM39 17h1.04v1.04h-1.04zM5 25h1.04v1.04h-1.04zM2 27h1.04v1.04h-1.04zM8 28h1.04v1.04h-1.04zM35 41h1.04v1.04h-1.04zM35 42h1.04v1.04h-1.04zM35 43h1.04v1.04h-1.04z" fill="#fdb373"/>
<path d="M37 2h1.04v1.04h-1.04zM14 6h1.04v1.04h-1.04zM23 7h1.04v1.04h-1.04zM12 9h1.04v1.04h-1.04zM10 37h1.04v1.04h-1.04zM33 40h1.04v1.04h-1.04z" fill="#fdb374"/>
<path d="M40 2h1.04v1.04h-1.04zM40 26h1.04v1.04h-1.04zM30 30h1.04v1.04h-1.04zM31 33h1.04v1.04h-1.04z" fill="#fee4ca"/>
<path d="M-2 3h1.04v1.04h-1.04zM-1 3h1.04v1.04h-1.04zM0 3h1.04v1.04h-1.04zM31 30h1.04v1.04h-1.04z" fill="#feebd9"/>
<path d="M1 3h1.04v1.04h-1.04zM3 19h1.04v1.04h-1.04zM7 21h1.04v1.04h-1.04zM30 24h1.04v1.04h-1.04zM-2 25h1.04v1.04h-1.04zM-1 25h1.04v1.04h-1.04zM0 25h1.04v1.04h-1.04zM33 26h1.04v1.04h-1.04zM-2 35h1.04v1.04h-1.04zM-1 35h1.04v1.04h-1.04zM0 35h1.04v1.04h-1.04z" fill="#fd9f55"/>
<path d="M2 3h1.04v1.04h-1.04zM2 6h1.04v1.04h-1.04zM9 13h1.04v1.04h-1.04zM41 24h1.04v1.04h-1.04zM42 24h1.04v1.04h-1.04zM43 24h1.04v1.04h-1.04zM7 35h1.04v1.04h-1.04z" fill="#fee3c8"/>
<path d="M3 3h1.04v1.04h-1.04zM34 5h1.04v1.04h-1.04zM25 13h1.04v1.04h-1.04zM34 17h1.04v1.04h-1.04zM39 26h1.04v1.04h-1.04zM3 30h1.04v1.04h-1.04zM19 30h1.04v1.04h-1.04z" fill="#fd8d3c"/>
<path d="M4 3h1.04v1.04h-1.04zM26 7h1.04v1.04h-1.04zM24 15h1.04v1.04h-1.04zM3 17h1.04v1.04h-1.04zM12 26h1.04v1.04h-1.04zM23 27h1.04v1.04h-1.04zM25 31h1.04v1.04h-1.04zM32 33h1.04v1.04h-1.04z" fill="#fdae6b"/>
<path d="M5 3h1.04v1.04h-1.04zM24 8h1.04v1.04h-1.04zM14 21h1.04v1.04h-1.04zM27 21h1.04v1.04h-1.04zM17 28h1.04v1.04h-1.04zM16 30h1.04v1.04h-1.04zM32 35h1.04v1.04h-1.04zM15 38h1.04v1.04h-1.04zM29 40h1.04v1.04h-1.04z" fill="#f57521"/>
<path d="M7 3h1.04v1.04h-1.04zM8 11h1.04v1.04h-1.04zM13 11h1.04v1.04h-1.04zM5 41h1.04v1.04h-1.04zM5 42h1.04v1.04h-1.04zM5 43h1.04v1.04h-1.04z" fill="#fdd8b2"/>
<path d="M9 3h1.04v1.04h-1.04zM6 33h1.04v1.04h-1.04z" fill="#ca4302"/>
<path d="M10 3h1.04v1.04h-1.04zM36 17h1.04v1.04h-1.04z" fill="#fd8c3a"/>
<path d="M11 3h1.04v1.04h-1.04zM3 4h1.04v1.04h-1.04zM19 20h1.04v1.04h-1.04zM1 30h1.04v1.04h-1.04zM16 36h1.04v1.04h-1.04z" fill="#fda863"/>
<path d="M12 3h1.04v1.04h-1.04zM30 5h1.04v1.04h-1.04zM8 8h1.04v1.04h-1.04zM14 18h1.04v1.04h-1.04zM8 21h1.04v1.04h-1.04zM7 23h1.04v1.04h-1.04zM8 29h1.04v1.04h-1.04zM10 29h1.04v1.04h-1.04zM7 34h1.04v1.04h-1.04zM1 37h1.04v1.04h-1.04z" fill="#fdbb80"/>
<path d="M13 3h1.04v1.04h-1.04zM26 12h1.04v1.04h-1.04zM16 31h1.04v1.04h-1.04z" fill="#fdcc9b"/>
<path d="M15 3h1.04v1.04h-1.04zM16 19h1.04v1.04h-1.04zM15 21h1.04v1.04h-1.04zM8 25h1.04v1.04h-1.04zM20 30h1.04v1.04h-1.04zM18 39h1.04v1.04h-1.04z" fill="#fdc590"/>
<path d="M20 3h1.04v1.04h-1.04zM18 23h1.04v1.04h-1.04zM41 32h1.04v1.04h-1.04zM42 32h1.04v1.04h-1.04zM43 32h1.04v1.04h-1.04z" fill="#ee6410"/>
<path d="M22 3h1.04v1.04h-1.04zM8 9h1.04v1.04h-1.04zM3 15h1.04v1.04h-1.04zM6 19h1.04v1.04h-1.04zM6 20h1.04v1.04h-1.04zM1 24h1.04v1.04h-1.04zM11 31h1.04v1.04h-1.04zM7 33h1.04v1.04h-1.04z" fill="#f4731e"/>
<path d="M23 3h1.04v1.04h-1.04zM41 41h1.04v1.04h-1.04zM42 41h1.04v1.04h-1.04zM43 41h1.04v1.04h-1.04zM41 42h1.04v1.04h-1.04zM42 42h1.04v1.04h-1.04zM43 42h1.04v1.04h-1.04zM41 43h1.04v1.04h-1.04zM42 43h1.04v1.04h-1.04zM43 43h1.04v1.04h-1.04z" fill="#fc8a39"/>
<path d="M24 3h1.04v1.04h-1.04zM18 12h1.04v1.04h-1.04z" fill="#fdb271"/>
<path d="M25 3h1.04v1.04h-1.04zM5 12h1.04v1.04h-1.04zM28 16h1.04v1.04h-1.04z" fill="#fdb06f"/>
<path d="M27 3h1.04v1.04h-1.04zM24 18h1.04v1.04h-1.04zM21 27h1.04v1.04h-1.04zM36 28h1.04v1.04h-1.04zM38 37h1.04v1.04h-1.04z" fill="#fd9344"/>
<path d="M30 3h1.04v1.04h-1.04zM29 24h1.04v1.04h-1.04zM28 39h1.04v1.04h-1.04z" fill="#fedfc1"/>
<path d="M31 3h1.04v1.04h-1.04zM9 12h1.04v1.04h-1.04zM26 13h1.04v1.04h-1.04zM32 18h1.04v1.04h-1.04zM9 33h1.04v1.04h-1.04zM23 37h1.04v1.04h-1.04z" fill="#fdbf86"/>
<path d="M32 3h1.04v1.04h-1.04zM8 33h1.04v1.04h-1.04z" fill="#e65a0b"/>
<path d="M33 3h1.04v1.04h-1.04zM16 4h1.04v1.04h-1.04zM6 5h1.04v1.04h-1.04zM21 5h1.04v1.04h-1.04zM11 15h1.04v1.04h-1.04zM6 16h1.04v1.04h-1.04zM28 26h1.04v1.04h-1.04zM6 27h1.04v1.04h-1.04zM5 38h1.04v1.04h-1.04z" fill="#fdb272"/>
<path d="M35 3h1.04v1.04h-1.04z" fill="#f36f19"/>
<path d="M36 3h1.04v1.04h-1.04zM30 16h1.04v1.04h-1.04zM2 18h1.04v1.04h-1.04z" fill="#d34601"/>
<path d="M38 3h1.04v1.04h-1.04zM27 12h1.04v1.04h-1.04zM40 13h1.04v1.04h-1.04zM38 17h1.04v1.04h-1.04zM39 25h1.04v1.04h-1.04zM7 26h1.04v1.04h-1.04zM15 26h1.04v1.04h-1.04zM38 26h1.04v1.04h-1.04zM7 36h1.04v1.04h-1.04z" fill="#fdcc9c"/>
<path d="M39 3h1.04v1.04h-1.04zM14 23h1.04v1.04h-1.04zM35 24h1.04v1.04h-1.04zM-2 26h1.04v1.04h-1.04zM-1 26h1.04v1.04h-1.04zM0 26h1.04v1.04h-1.04z" fill="#fee7d0"/>
<path d="M40 3h1.04v1.04h-1.04zM30 12h1.04v1.04h-1.04zM5 24h1.04v1.04h-1.04zM27 37h1.04v1.04h-1.04z" fill="#ffeede"/>
<path d="M41 3h1.04v1.04h-1.04zM42 3h1.04v1.04h-1.04zM43 3h1.04v1.04h-1.04zM32 25h1.04v1.04h-1.04zM27 26h1.04v1.04h-1.04z" fill="#fda259"/>
<path d="M-2 4h1.04v1.04h-1.04zM-1 4h1.04v1.04h-1.04zM0 4h1.04v1.04h-1.04zM30 4h1.04v1.04h-1.04zM2 13h1.04v1.04h-1.04zM31 13h1.04v1.04h-1.04zM8 18h1.04v1.04h-1.04zM-2 24h1.04v1.04h-1.04zM-1 24h1.04v1.04h-1.04zM0 24h1.04v1.04h-1.04zM40 30h1.04v1.04h-1.04zM16 35h1.04v1.04h-1.04zM14 38h1.04v1.04h-1.04z" fill="#fdb170"/>
<path d="M1 4h1.04v1.04h-1.04zM17 11h1.04v1.04h-1.04zM28 23h1.04v1.04h-1.04zM16 28h1.04v1.04h-1.04z" fill="#fda158"/>
<path d="M2 4h1.04v1.04h-1.04zM21 9h1.04v1.04h-1.04zM11 14h1.04v1.04h-1.04zM17 17h1.04v1.04h-1.04zM31 18h1.04v1.04h-1.04zM30 33h1.04v1.04h-1.04z" fill="#fdd6af"/>
<path d="M4 4h1.04v1.04h-1.04zM10 23h1.04v1.04h-1.04zM40 25h1.04v1.04h-1.04zM40 29h1.04v1.04h-1.04z" fill="#fdb97c"/>
<path d="M5 4h1.04v1.04h-1.04zM19 11h1.04v1.04h-1.04zM37 19h1.04v1.04h-1.04zM12 23h1.04v1.04h-1.04zM1 33h1.04v1.04h-1.04z" fill="#fdaa66"/>
<path d="M6 4h1.04v1.04h-1.04zM4 10h1.04v1.04h-1.04zM37 21h1.04v1.04h-1.04z" fill="#fddab7"/>
<path d="M7 4h1.04v1.04h-1.04zM28 9h1.04v1.04h-1.04z" fill="#fddbb8"/>
<path d="M8 4h1.04v1.04h-1.04zM31 22h1.04v1.04h-1.04z" fill="#ef6712"/>
<path d="M12 4h1.04v1.04h-1.04zM37 9h1.04v1.04h-1.04zM39 36h1.04v1.04h-1.04z" fill="#fdcb9a"/>
<path d="M13 4h1.04v1.04h-1.04zM26 22h1.04v1.04h-1.04zM36 37h1.04v1.04h-1.04z" fill="#fdb87c"/>
<path d="M14 4h1.04v1.04h-1.04zM36 11h1.04v1.04h-1.04zM32 23h1.04v1.04h-1.04zM22 25h1.04v1.04h-1.04zM13 31h1.04v1.04h-1.04z" fill="#f77b28"/>
<path d="M15 4h1.04v1.04h-1.04zM31 7h1.04v1.04h-1.04zM27 8h1.04v1.04h-1.04zM4 9h1.04v1.04h-1.04zM23 10h1.04v1.04h-1.04zM15 16h1.04v1.04h-1.04zM14 19h1.04v1.04h-1.04zM27 35h1.04v1.04h-1.04z" fill="#fda761"/>
<path d="M17 4h1.04v1.04h-1.04zM34 10h1.04v1.04h-1.04zM20 27h1.04v1.04h-1.04zM33 27h1.04v1.04h-1.04zM32 39h1.04v1.04h-1.04zM4 41h1.04v1.04h-1.04zM4 42h1.04v1.04h-1.04zM4 43h1.04v1.04h-1.04z" fill="#fda65f"/>
<path d="M18 4h1.04v1.04h-1.04zM41 6h1.04v1.04h-1.04zM42 6h1.04v1.04h-1.04zM43 6h1.04v1.04h-1.04zM6 14h1.04v1.04h-1.04zM4 22h1.04v1.04h-1.04zM40 22h1.04v1.04h-1.04zM35 30h1.04v1.04h-1.04zM25 34h1.04v1.04h-1.04z" fill="#f4721d"/>
<path d="M19 4h1.04v1.04h-1.04zM19 9h1.04v1.04h-1.04zM28 11h1.04v1.04h-1.04zM18 15h1.04v1.04h-1.04zM33 20h1.04v1.04h-1.04zM32 24h1.04v1.04h-1.04zM2 31h1.04v1.04h-1.04zM3 34h1.04v1.04h-1.04zM12 35h1.04v1.04h-1.04zM32 40h1.04v1.04h-1.04z" fill="#f87d2a"/>
<path d="M20 4h1.04v1.04h-1.04zM1 5h1.04v1.04h-1.04zM15 6h1.04v1.04h-1.04zM-2 15h1.04v1.04h-1.04zM-1 15h1.04v1.04h-1.04zM0 15h1.04v1.04h-1.04z" fill="#f9812f"/>
<path d="M23 4h1.04v1.04h-1.04z" fill="#eb600e"/>
<path d="M24 4h1.04v1.04h-1.04zM23 33h1.04v1.04h-1.04z" fill="#e5590a"/>
<path d="M26 4h1.04v1.04h-1.04zM5 7h1.04v1.04h-1.04zM17 7h1.04v1.04h-1.04zM27 7h1.04v1.04h-1.04zM17 10h1.04v1.04h-1.04zM7 20h1.04v1.04h-1.04z" fill="#f77a26"/>
<path d="M27 4h1.04v1.04h-1.04zM23 5h1.04v1.04h-1.04zM22 20h1.04v1.04h-1.04zM23 30h1.04v1.04h-1.04zM40 32h1.04v1.04h-1.04zM35 35h1.04v1.04h-1.04z" fill="#ee6511"/>
<path d="M28 4h1.04v1.04h-1.04zM26 20h1.04v1.04h-1.04zM30 23h1.04v1.04h-1.04zM34 35h1.04v1.04h-1.04zM17 36h1.04v1.04h-1.04z" fill="#f16913"/>
<path d="M31 4h1.04v1.04h-1.04zM28 7h1.04v1.04h-1.04zM34 9h1.04v1.04h-1.04zM14 20h1.04v1.04h-1.04zM25 21h1.04v1.04h-1.04zM38 34h1.04v1.04h-1.04z" fill="#e95e0d"/>
<path d="M32 4h1.04v1.04h-1.04zM31 11h1.04v1.04h-1.04zM34 11h1.04v1.04h-1.04zM36 24h1.04v1.04h-1.04zM24 27h1.04v1.04h-1.04zM12 31h1.04v1.04h-1.04zM41 36h1.04v1.04h-1.04zM42 36h1.04v1.04h-1.04zM43 36h1.04v1.04h-1.04zM13 38h1.04v1.04h-1.04z" fill="#fdb576"/>
<path d="M35 4h1.04v1.04h-1.04zM39 28h1.04v1.04h-1.04zM15 29h1.04v1.04h-1.04z" fill="#d94801"/>
<path d="M36 4h1.04v1.04h-1.04zM23 16h1.04v1.04h-1.04z" fill="#9f3303"/>
<path d="M37 4h1.04v1.04h-1.04zM28 41h1.04v1.04h-1.04zM28 42h1.04v1.04h-1.04zM28 43h1.04v1.04h-1.04z" fill="#f16813"/>
<path d="M38 4h1.04v1.04h-1.04zM29 27h1.04v1.04h-1.04zM19 32h1.04v1.04h-1.04zM19 40h1.04v1.04h-1.04zM20 40h1.04v1.04h-1.04z" fill="#fee6ce"/>
<path d="M40 4h1.04v1.04h-1.04zM8 10h1.04v1.04h-1.04zM31 25h1.04v1.04h-1.04zM39 35h1.04v1.04h-1.04zM40 39h1.04v1.04h-1.04z" fill="#fdc189"/>
<path d="M41 4h1.04v1.04h-1.04zM42 4h1.04v1.04h-1.04zM43 4h1.04v1.04h-1.04zM19 6h1.04v1.04h-1.04zM18 10h1.04v1.04h-1.04zM40 11h1.04v1.04h-1.04zM32 12h1.04v1.04h-1.04zM40 19h1.04v1.04h-1.04zM29 30h1.04v1.04h-1.04zM23 35h1.04v1.04h-1.04zM24 39h1.04v1.04h-1.04zM37 40h1.04v1.04h-1.04z" fill="#fdd7b0"/>
<path d="M-2 5h1.04v1.04h-1.04zM-1 5h1.04v1.04h-1.04zM0 5h1.04v1.04h-1.04zM24 6h1.04v1.04h-1.04zM19 8h1.04v1.04h-1.04zM24 9h1.04v1.04h-1.04zM33 18h1.04v1.04h-1.04zM9 27h1.04v1.04h-1.04z" fill="#fd8f3e"/>
<path d="M2 5h1.04v1.04h-1.04zM37 5h1.04v1.04h-1.04zM14 9h1.04v1.04h-1.04zM14 11h1.04v1.04h-1.04zM33 32h1.04v1.04h-1.04zM16 34h1.04v1.04h-1.04z" fill="#fff1e3"/>
<path d="M4 5h1.04v1.04h-1.04zM28 5h1.04v1.04h-1.04zM6 13h1.04v1.04h-1.04zM16 15h1.04v1.04h-1.04zM-2 32h1.04v1.04h-1.04zM-1 32h1.04v1.04h-1.04zM0 32h1.04v1.04h-1.04zM41 34h1.04v1.04h-1.04zM42 34h1.04v1.04h-1.04zM43 34h1.04v1.04h-1.04zM18 38h1.04v1.04h-1.04z" fill="#fd9e54"/>
<path d="M7 5h1.04v1.04h-1.04zM38 10h1.04v1.04h-1.04zM18 13h1.04v1.04h-1.04zM36 18h1.04v1.04h-1.04zM13 21h1.04v1.04h-1.04zM35 33h1.04v1.04h-1.04zM31 34h1.04v1.04h-1.04z" fill="#fdad6a"/>
<path d="M8 5h1.04v1.04h-1.04zM33 39h1.04v1.04h-1.04z" fill="#fdc996"/>
<path d="M9 5h1.04v1.04h-1.04zM-2 18h1.04v1.04h-1.04zM-1 18h1.04v1.04h-1.04zM0 18h1.04v1.04h-1.04zM29 28h1.04v1.04h-1.04z" fill="#fedebd"/>
<path d="M11 5h1.04v1.04h-1.04zM31 26h1.04v1.04h-1.04z" fill="#fdd7b1"/>
<path d="M12 5h1.04v1.04h-1.04zM14 17h1.04v1.04h-1.04zM21 38h1.04v1.04h-1.04z" fill="#feebd8"/>
<path d="M14 5h1.04v1.04h-1.04zM3 10h1.04v1.04h-1.04zM36 12h1.04v1.04h-1.04zM31 39h1.04v1.04h-1.04z" fill="#fd9447"/>
<path d="M15 5h1.04v1.04h-1.04zM18 8h1.04v1.04h-1.04zM10 11h1.04v1.04h-1.04zM26 19h1.04v1.04h-1.04zM41 21h1.04v1.04h-1.04zM42 21h1.04v1.04h-1.04zM43 21h1.04v1.04h-1.04zM23 28h1.04v1.04h-1.04zM36 36h1.04v1.04h-1.04zM31 38h1.04v1.04h-1.04z" fill="#fd8e3e"/>
<path d="M16 5h1.04v1.04h-1.04zM15 7h1.04v1.04h-1.04zM33 10h1.04v1.04h-1.04zM5 27h1.04v1.04h-1.04zM34 31h1.04v1.04h-1.04zM30 41h1.04v1.04h-1.04zM30 42h1.04v1.04h-1.04zM30 43h1.04v1.04h-1.04z" fill="#fdd6ae"/>
<path d="M18 5h1.04v1.04h-1.04zM5 11h1.04v1.04h-1.04zM28 27h1.04v1.04h-1.04zM1 32h1.04v1.04h-1.04zM4 39h1.04v1.04h-1.04z" fill="#fdd2a5"/>
<path d="M19 5h1.04v1.04h-1.04zM41 7h1.04v1.04h-1.04zM42 7h1.04v1.04h-1.04zM43 7h1.04v1.04h-1.04zM4 24h1.04v1.04h-1.04zM25 25h1.04v1.04h-1.04zM8 34h1.04v1.04h-1.04zM37 36h1.04v1.04h-1.04zM21 40h1.04v1.04h-1.04zM31 41h1.04v1.04h-1.04zM31 42h1.04v1.04h-1.04zM31 43h1.04v1.04h-1.04z" fill="#fdca98"/>
<path d="M24 5h1.04v1.04h-1.04zM6 7h1.04v1.04h-1.04zM36 30h1.04v1.04h-1.04z" fill="#bc3e02"/>
<path d="M25 5h1.04v1.04h-1.04zM4 12h1.04v1.04h-1.04zM1 20h1.04v1.04h-1.04zM34 33h1.04v1.04h-1.04z" fill="#fdd4aa"/>
<path d="M29 5h1.04v1.04h-1.04zM22 7h1.04v1.04h-1.04zM28 8h1.04v1.04h-1.04zM15 17h1.04v1.04h-1.04zM7 32h1.04v1.04h-1.04zM22 36h1.04v1.04h-1.04zM27 38h1.04v1.04h-1.04z" fill="#fedfc0"/>
<path d="M31 5h1.04v1.04h-1.04z" fill="#f3701a"/>
<path d="M35 5h1.04v1.04h-1.04zM10 32h1.04v1.04h-1.04z" fill="#d54701"/>
<path d="M36 5h1.04v1.04h-1.04zM8 16h1.04v1.04h-1.04zM37 37h1.04v1.04h-1.04z" fill="#fd8d3d"/>
<path d="M38 5h1.04v1.04h-1.04zM3 11h1.04v1.04h-1.04zM4 20h1.04v1.04h-1.04zM-2 40h1.04v1.04h-1.04zM-1 40h1.04v1.04h-1.04zM0 40h1.04v1.04h-1.04z" fill="#feebd7"/>
<path d="M-2 6h1.04v1.04h-1.04zM-1 6h1.04v1.04h-1.04zM0 6h1.04v1.04h-1.04zM13 29h1.04v1.04h-1.04z" fill="#db4b03"/>
<path d="M3 6h1.04v1.04h-1.04zM21 31h1.04v1.04h-1.04zM39 37h1.04v1.04h-1.04zM7 39h1.04v1.04h-1.04z" fill="#fedcbb"/>
<path d="M5 6h1.04v1.04h-1.04zM-2 16h1.04v1.04h-1.04zM-1 16h1.04v1.04h-1.04zM0 16h1.04v1.04h-1.04zM20 22h1.04v1.04h-1.04zM16 32h1.04v1.04h-1.04zM35 32h1.04v1.04h-1.04z" fill="#fa8330"/>
<path d="M6 6h1.04v1.04h-1.04zM26 9h1.04v1.04h-1.04zM26 27h1.04v1.04h-1.04zM7 31h1.04v1.04h-1.04z" fill="#fc8937"/>
<path d="M8 6h1.04v1.04h-1.04zM3 7h1.04v1.04h-1.04zM13 7h1.04v1.04h-1.04zM23 8h1.04v1.04h-1.04zM41 14h1.04v1.04h-1.04zM42 14h1.04v1.04h-1.04zM43 14h1.04v1.04h-1.04zM4 16h1.04v1.04h-1.04zM24 24h1.04v1.04h-1.04zM36 34h1.04v1.04h-1.04z" fill="#fd9f56"/>
<path d="M12 6h1.04v1.04h-1.04zM41 10h1.04v1.04h-1.04zM42 10h1.04v1.04h-1.04zM43 10h1.04v1.04h-1.04zM9 11h1.04v1.04h-1.04zM23 11h1.04v1.04h-1.04zM27 15h1.04v1.04h-1.04zM23 19h1.04v1.04h-1.04zM35 20h1.04v1.04h-1.04zM24 40h1.04v1.04h-1.04zM38 41h1.04v1.04h-1.04zM38 42h1.04v1.04h-1.04zM38 43h1.04v1.04h-1.04z" fill="#fdce9f"/>
<path d="M16 6h1.04v1.04h-1.04zM8 22h1.04v1.04h-1.04zM13 34h1.04v1.04h-1.04zM26 34h1.04v1.04h-1.04zM22 35h1.04v1.04h-1.04zM30 35h1.04v1.04h-1.04z" fill="#fdd8b3"/>
<path d="M18 6h1.04v1.04h-1.04zM24 7h1.04v1.04h-1.04zM41 18h1.04v1.04h-1.04zM42 18h1.04v1.04h-1.04zM43 18h1.04v1.04h-1.04zM25 19h1.04v1.04h-1.04zM1 21h1.04v1.04h-1.04zM8 24h1.04v1.04h-1.04zM4 26h1.04v1.04h-1.04zM10 28h1.04v1.04h-1.04zM16 37h1.04v1.04h-1.04zM28 38h1.04v1.04h-1.04zM26 39h1.04v1.04h-1.04z" fill="#fdb77a"/>
<path d="M20 6h1.04v1.04h-1.04zM27 16h1.04v1.04h-1.04zM17 37h1.04v1.04h-1.04z" fill="#da4902"/>
<path d="M21 6h1.04v1.04h-1.04zM3 8h1.04v1.04h-1.04zM40 9h1.04v1.04h-1.04z" fill="#df5005"/>
<path d="M22 6h1.04v1.04h-1.04zM16 7h1.04v1.04h-1.04zM25 17h1.04v1.04h-1.04zM24 19h1.04v1.04h-1.04zM21 23h1.04v1.04h-1.04zM19 24h1.04v1.04h-1.04zM31 24h1.04v1.04h-1.04zM26 25h1.04v1.04h-1.04zM23 29h1.04v1.04h-1.04zM1 31h1.04v1.04h-1.04zM13 33h1.04v1.04h-1.04zM7 38h1.04v1.04h-1.04z" fill="#fda964"/>
<path d="M23 6h1.04v1.04h-1.04zM-2 8h1.04v1.04h-1.04zM-1 8h1.04v1.04h-1.04zM0 8h1.04v1.04h-1.04zM16 20h1.04v1.04h-1.04z" fill="#f4731f"/>
<path d="M28 6h1.04v1.04h-1.04zM10 8h1.04v1.04h-1.04zM2 15h1.04v1.04h-1.04zM35 23h1.04v1.04h-1.04zM13 39h1.04v1.04h-1.04z" fill="#fd984b"/>
<path d="M29 6h1.04v1.04h-1.04zM12 21h1.04v1.04h-1.04zM21 24h1.04v1.04h-1.04z" fill="#fddbb7"/>
<path d="M31 6h1.04v1.04h-1.04zM34 8h1.04v1.04h-1.04zM34 25h1.04v1.04h-1.04zM31 28h1.04v1.04h-1.04z" fill="#fd974b"/>
<path d="M32 6h1.04v1.04h-1.04z" fill="#e85d0d"/>
<path d="M35 6h1.04v1.04h-1.04zM35 17h1.04v1.04h-1.04z" fill="#be3e02"/>
<path d="M37 6h1.04v1.04h-1.04zM2 12h1.04v1.04h-1.04zM33 12h1.04v1.04h-1.04zM9 29h1.04v1.04h-1.04zM10 38h1.04v1.04h-1.04z" fill="#fdd9b5"/>
<path d="M39 6h1.04v1.04h-1.04zM10 17h1.04v1.04h-1.04zM11 18h1.04v1.04h-1.04z" fill="#f67723"/>
<path d="M7 7h1.04v1.04h-1.04zM22 14h1.04v1.04h-1.04zM33 21h1.04v1.04h-1.04zM41 22h1.04v1.04h-1.04zM42 22h1.04v1.04h-1.04zM43 22h1.04v1.04h-1.04zM14 39h1.04v1.04h-1.04z" fill="#f26d18"/>
<path d="M8 7h1.04v1.04h-1.04zM36 7h1.04v1.04h-1.04zM29 8h1.04v1.04h-1.04zM10 10h1.04v1.04h-1.04zM18 11h1.04v1.04h-1.04zM33 13h1.04v1.04h-1.04zM30 18h1.04v1.04h-1.04zM5 21h1.04v1.04h-1.04zM3 24h1.04v1.04h-1.04zM21 32h1.04v1.04h-1.04zM24 36h1.04v1.04h-1.04zM6 38h1.04v1.04h-1.04zM-2 41h1.04v1.04h-1.04zM-1 41h1.04v1.04h-1.04zM0 41h1.04v1.04h-1.04zM-2 42h1.04v1.04h-1.04zM-1 42h1.04v1.04h-1.04zM0 42h1.04v1.04h-1.04zM-2 43h1.04v1.04h-1.04zM-1 43h1.04v1.04h-1.04zM0 43h1.04v1.04h-1.04z" fill="#fda55e"/>
<path d="M9 7h1.04v1.04h-1.04zM41 9h1.04v1.04h-1.04zM42 9h1.04v1.04h-1.04zM43 9h1.04v1.04h-1.04zM11 10h1.04v1.04h-1.04zM28 10h1.04v1.04h-1.04zM32 19h1.04v1.04h-1.04zM24 29h1.04v1.04h-1.04zM2 30h1.04v1.04h-1.04zM18 34h1.04v1.04h-1.04z" fill="#fdc38c"/>
<path d="M10 7h1.04v1.04h-1.04zM4 13h1.04v1.04h-1.04zM7 13h1.04v1.04h-1.04zM29 16h1.04v1.04h-1.04zM31 21h1.04v1.04h-1.04zM25 23h1.04v1.04h-1.04zM25 27h1.04v1.04h-1.04zM4 29h1.04v1.04h-1.04z" fill="#fda862"/>
<path d="M11 7h1.04v1.04h-1.04z" fill="#c54102"/>
<path d="M18 7h1.04v1.04h-1.04zM19 10h1.04v1.04h-1.04zM30 10h1.04v1.04h-1.04zM4 18h1.04v1.04h-1.04zM33 22h1.04v1.04h-1.04zM36 27h1.04v1.04h-1.04zM37 28h1.04v1.04h-1.04zM15 30h1.04v1.04h-1.04zM12 34h1.04v1.04h-1.04z" fill="#fdab67"/>
<path d="M19 7h1.04v1.04h-1.04zM5 15h1.04v1.04h-1.04zM38 24h1.04v1.04h-1.04zM20 26h1.04v1.04h-1.04zM6 28h1.04v1.04h-1.04zM-2 30h1.04v1.04h-1.04zM-1 30h1.04v1.04h-1.04zM0 30h1.04v1.04h-1.04z" fill="#fdaf6d"/>
<path d="M21 7h1.04v1.04h-1.04zM31 20h1.04v1.04h-1.04zM23 21h1.04v1.04h-1.04zM35 40h1.04v1.04h-1.04z" fill="#fd974a"/>
<path d="M25 7h1.04v1.04h-1.04zM39 7h1.04v1.04h-1.04zM7 8h1.04v1.04h-1.04zM8 14h1.04v1.04h-1.04zM14 16h1.04v1.04h-1.04zM10 19h1.04v1.04h-1.04zM36 20h1.04v1.04h-1.04zM28 29h1.04v1.04h-1.04zM34 30h1.04v1.04h-1.04zM18 36h1.04v1.04h-1.04zM38 36h1.04v1.04h-1.04z" fill="#f87e2b"/>
<path d="M29 7h1.04v1.04h-1.04zM37 17h1.04v1.04h-1.04zM1 22h1.04v1.04h-1.04z" fill="#fdb577"/>
<path d="M32 7h1.04v1.04h-1.04zM-2 12h1.04v1.04h-1.04zM-1 12h1.04v1.04h-1.04zM0 12h1.04v1.04h-1.04zM5 13h1.04v1.04h-1.04zM10 13h1.04v1.04h-1.04zM20 20h1.04v1.04h-1.04zM22 26h1.04v1.04h-1.04zM13 27h1.04v1.04h-1.04zM20 29h1.04v1.04h-1.04zM16 39h1.04v1.04h-1.04z" fill="#fd9243"/>
<path d="M33 7h1.04v1.04h-1.04zM5 9h1.04v1.04h-1.04zM12 16h1.04v1.04h-1.04zM25 22h1.04v1.04h-1.04zM6 35h1.04v1.04h-1.04zM38 40h1.04v1.04h-1.04z" fill="#fdb779"/>
<path d="M35 7h1.04v1.04h-1.04z" fill="#c24002"/>
<path d="M37 7h1.04v1.04h-1.04zM3 9h1.04v1.04h-1.04zM17 21h1.04v1.04h-1.04zM16 27h1.04v1.04h-1.04z" fill="#fdc18a"/>
<path d="M40 7h1.04v1.04h-1.04zM40 15h1.04v1.04h-1.04zM9 20h1.04v1.04h-1.04zM11 32h1.04v1.04h-1.04zM23 39h1.04v1.04h-1.04z" fill="#fdc997"/>
<path d="M1 8h1.04v1.04h-1.04zM16 12h1.04v1.04h-1.04zM21 14h1.04v1.04h-1.04zM6 31h1.04v1.04h-1.04zM16 38h1.04v1.04h-1.04zM22 39h1.04v1.04h-1.04z" fill="#fdb475"/>
<path d="M2 8h1.04v1.04h-1.04zM9 25h1.04v1.04h-1.04zM31 37h1.04v1.04h-1.04z" fill="#ec6310"/>
<path d="M5 8h1.04v1.04h-1.04zM20 25h1.04v1.04h-1.04z" fill="#f16a14"/>
<path d="M6 8h1.04v1.04h-1.04zM39 8h1.04v1.04h-1.04zM18 35h1.04v1.04h-1.04z" fill="#9a3103"/>
<path d="M9 8h1.04v1.04h-1.04zM26 11h1.04v1.04h-1.04zM34 34h1.04v1.04h-1.04zM3 38h1.04v1.04h-1.04zM18 40h1.04v1.04h-1.04z" fill="#fee1c3"/>
<path d="M11 8h1.04v1.04h-1.04z" fill="#c64102"/>
<path d="M12 8h1.04v1.04h-1.04z" fill="#ec610f"/>
<path d="M14 8h1.04v1.04h-1.04zM16 17h1.04v1.04h-1.04z" fill="#fee2c7"/>
<path d="M15 8h1.04v1.04h-1.04zM3 41h1.04v1.04h-1.04zM3 42h1.04v1.04h-1.04zM3 43h1.04v1.04h-1.04z" fill="#fdd3a9"/>
<path d="M22 8h1.04v1.04h-1.04zM17 20h1.04v1.04h-1.04zM29 20h1.04v1.04h-1.04zM6 21h1.04v1.04h-1.04z" fill="#fda159"/>
<path d="M25 8h1.04v1.04h-1.04z" fill="#aa3703"/>
<path d="M30 8h1.04v1.04h-1.04zM2 16h1.04v1.04h-1.04zM9 34h1.04v1.04h-1.04z" fill="#fff1e4"/>
<path d="M32 8h1.04v1.04h-1.04zM32 21h1.04v1.04h-1.04zM14 22h1.04v1.04h-1.04zM19 22h1.04v1.04h-1.04zM40 35h1.04v1.04h-1.04z" fill="#f4711c"/>
<path d="M33 8h1.04v1.04h-1.04zM18 20h1.04v1.04h-1.04zM32 26h1.04v1.04h-1.04zM17 29h1.04v1.04h-1.04z" fill="#f26b15"/>
<path d="M35 8h1.04v1.04h-1.04zM23 18h1.04v1.04h-1.04zM7 25h1.04v1.04h-1.04zM12 40h1.04v1.04h-1.04z" fill="#fedcb9"/>
<path d="M36 8h1.04v1.04h-1.04zM4 17h1.04v1.04h-1.04zM27 19h1.04v1.04h-1.04zM7 22h1.04v1.04h-1.04zM-2 31h1.04v1.04h-1.04zM-1 31h1.04v1.04h-1.04zM0 31h1.04v1.04h-1.04zM6 40h1.04v1.04h-1.04z" fill="#fdc794"/>
<path d="M38 8h1.04v1.04h-1.04zM9 18h1.04v1.04h-1.04zM22 31h1.04v1.04h-1.04z" fill="#ed6310"/>
<path d="M-2 9h1.04v1.04h-1.04zM-1 9h1.04v1.04h-1.04zM0 9h1.04v1.04h-1.04zM18 18h1.04v1.04h-1.04zM29 33h1.04v1.04h-1.04zM-2 39h1.04v1.04h-1.04zM-1 39h1.04v1.04h-1.04zM0 39h1.04v1.04h-1.04zM8 39h1.04v1.04h-1.04z" fill="#fdd9b4"/>
<path d="M1 9h1.04v1.04h-1.04zM1 12h1.04v1.04h-1.04zM31 12h1.04v1.04h-1.04zM11 16h1.04v1.04h-1.04zM5 17h1.04v1.04h-1.04zM5 20h1.04v1.04h-1.04zM27 28h1.04v1.04h-1.04zM40 38h1.04v1.04h-1.04z" fill="#fdbc82"/>
<path d="M6 9h1.04v1.04h-1.04z" fill="#dd4d04"/>
<path d="M10 9h1.04v1.04h-1.04zM23 14h1.04v1.04h-1.04zM26 15h1.04v1.04h-1.04zM-2 17h1.04v1.04h-1.04zM-1 17h1.04v1.04h-1.04zM0 17h1.04v1.04h-1.04zM10 20h1.04v1.04h-1.04zM6 22h1.04v1.04h-1.04zM6 29h1.04v1.04h-1.04z" fill="#fc8b3a"/>
<path d="M15 9h1.04v1.04h-1.04zM28 28h1.04v1.04h-1.04zM19 41h1.04v1.04h-1.04zM19 42h1.04v1.04h-1.04zM19 43h1.04v1.04h-1.04z" fill="#feecda"/>
<path d="M20 9h1.04v1.04h-1.04zM19 13h1.04v1.04h-1.04zM37 18h1.04v1.04h-1.04zM12 20h1.04v1.04h-1.04zM33 41h1.04v1.04h-1.04zM33 42h1.04v1.04h-1.04zM33 43h1.04v1.04h-1.04z" fill="#feead6"/>
<path d="M22 9h1.04v1.04h-1.04z" fill="#fd9445"/>
<path d="M23 9h1.04v1.04h-1.04z" fill="#fb8635"/>
<path d="M25 9h1.04v1.04h-1.04zM24 30h1.04v1.04h-1.04z" fill="#e35609"/>
<path d="M27 9h1.04v1.04h-1.04zM3 40h1.04v1.04h-1.04z" fill="#feddbc"/>
<path d="M30 9h1.04v1.04h-1.04zM38 30h1.04v1.04h-1.04zM39 30h1.04v1.04h-1.04zM1 34h1.04v1.04h-1.04zM29 35h1.04v1.04h-1.04zM27 39h1.04v1.04h-1.04z" fill="#fda35b"/>
<path d="M31 9h1.04v1.04h-1.04zM40 18h1.04v1.04h-1.04zM29 32h1.04v1.04h-1.04zM13 40h1.04v1.04h-1.04z" fill="#fee7d1"/>
<path d="M32 9h1.04v1.04h-1.04zM1 15h1.04v1.04h-1.04zM7 15h1.04v1.04h-1.04zM30 15h1.04v1.04h-1.04zM24 16h1.04v1.04h-1.04zM36 16h1.04v1.04h-1.04zM29 22h1.04v1.04h-1.04z" fill="#ea5f0e"/>
<path d="M33 9h1.04v1.04h-1.04zM22 18h1.04v1.04h-1.04zM17 19h1.04v1.04h-1.04zM27 22h1.04v1.04h-1.04zM3 27h1.04v1.04h-1.04zM25 33h1.04v1.04h-1.04zM19 35h1.04v1.04h-1.04zM11 37h1.04v1.04h-1.04z" fill="#f06812"/>
<path d="M38 9h1.04v1.04h-1.04z" fill="#a73603"/>
<path d="M-2 10h1.04v1.04h-1.04zM-1 10h1.04v1.04h-1.04zM0 10h1.04v1.04h-1.04zM24 14h1.04v1.04h-1.04zM28 14h1.04v1.04h-1.04zM22 15h1.04v1.04h-1.04zM17 25h1.04v1.04h-1.04zM4 30h1.04v1.04h-1.04zM41 37h1.04v1.04h-1.04zM42 37h1.04v1.04h-1.04zM43 37h1.04v1.04h-1.04zM30 38h1.04v1.04h-1.04z" fill="#fdc692"/>
<path d="M1 10h1.04v1.04h-1.04zM41 29h1.04v1.04h-1.04zM42 29h1.04v1.04h-1.04zM43 29h1.04v1.04h-1.04zM3 31h1.04v1.04h-1.04zM2 32h1.04v1.04h-1.04z" fill="#feead5"/>
<path d="M13 10h1.04v1.04h-1.04zM20 10h1.04v1.04h-1.04zM16 16h1.04v1.04h-1.04zM17 24h1.04v1.04h-1.04zM35 28h1.04v1.04h-1.04zM36 38h1.04v1.04h-1.04zM1 39h1.04v1.04h-1.04zM11 40h1.04v1.04h-1.04z" fill="#fdd2a6"/>
<path d="M14 10h1.04v1.04h-1.04zM15 10h1.04v1.04h-1.04z" fill="#ffefdf"/>
<path d="M21 10h1.04v1.04h-1.04zM35 26h1.04v1.04h-1.04zM14 35h1.04v1.04h-1.04z" fill="#fdd0a3"/>
<path d="M22 10h1.04v1.04h-1.04zM24 10h1.04v1.04h-1.04zM7 30h1.04v1.04h-1.04z" fill="#f3701b"/>
<path d="M32 10h1.04v1.04h-1.04zM36 40h1.04v1.04h-1.04z" fill="#fd994e"/>
<path d="M36 10h1.04v1.04h-1.04zM11 26h1.04v1.04h-1.04z" fill="#f67926"/>
<path d="M39 10h1.04v1.04h-1.04zM19 19h1.04v1.04h-1.04z" fill="#fee6cf"/>
<path d="M-2 11h1.04v1.04h-1.04zM-1 11h1.04v1.04h-1.04zM0 11h1.04v1.04h-1.04zM24 13h1.04v1.04h-1.04zM39 18h1.04v1.04h-1.04zM4 37h1.04v1.04h-1.04z" fill="#fee5cc"/>
<path d="M4 11h1.04v1.04h-1.04zM-2 27h1.04v1.04h-1.04zM-1 27h1.04v1.04h-1.04zM0 27h1.04v1.04h-1.04zM22 40h1.04v1.04h-1.04z" fill="#fee8d3"/>
<path d="M6 11h1.04v1.04h-1.04zM39 13h1.04v1.04h-1.04zM10 15h1.04v1.04h-1.04zM13 16h1.04v1.04h-1.04zM8 23h1.04v1.04h-1.04zM19 26h1.04v1.04h-1.04zM32 32h1.04v1.04h-1.04zM29 39h1.04v1.04h-1.04zM10 40h1.04v1.04h-1.04z" fill="#fdd5ac"/>
<path d="M16 11h1.04v1.04h-1.04zM15 28h1.04v1.04h-1.04zM29 34h1.04v1.04h-1.04z" fill="#e95d0d"/>
<path d="M22 11h1.04v1.04h-1.04zM34 36h1.04v1.04h-1.04z" fill="#cf4501"/>
<path d="M24 11h1.04v1.04h-1.04zM2 39h1.04v1.04h-1.04zM11 41h1.04v1.04h-1.04zM11 42h1.04v1.04h-1.04zM11 43h1.04v1.04h-1.04z" fill="#feecd9"/>
<path d="M30 11h1.04v1.04h-1.04zM12 14h1.04v1.04h-1.04zM17 18h1.04v1.04h-1.04zM-2 19h1.04v1.04h-1.04zM-1 19h1.04v1.04h-1.04zM0 19h1.04v1.04h-1.04zM-2 20h1.04v1.04h-1.04zM-1 20h1.04v1.04h-1.04zM0 20h1.04v1.04h-1.04zM23 38h1.04v1.04h-1.04zM9 40h1.04v1.04h-1.04z" fill="#fee9d4"/>
<path d="M41 11h1.04v1.04h-1.04zM42 11h1.04v1.04h-1.04zM43 11h1.04v1.04h-1.04zM27 32h1.04v1.04h-1.04zM34 41h1.04v1.04h-1.04zM34 42h1.04v1.04h-1.04zM34 43h1.04v1.04h-1.04z" fill="#f9822f"/>
<path d="M8 12h1.04v1.04h-1.04zM21 15h1.04v1.04h-1.04z" fill="#fedbb9"/>
<path d="M11 12h1.04v1.04h-1.04zM32 14h1.04v1.04h-1.04z" fill="#dc4c03"/>
<path d="M12 12h1.04v1.04h-1.04z" fill="#ba3d02"/>
<path d="M13 12h1.04v1.04h-1.04zM24 20h1.04v1.04h-1.04zM28 35h1.04v1.04h-1.04z" fill="#fda45c"/>
<path d="M14 12h1.04v1.04h-1.04zM11 23h1.04v1.04h-1.04zM27 25h1.04v1.04h-1.04zM19 33h1.04v1.04h-1.04zM24 34h1.04v1.04h-1.04zM2 35h1.04v1.04h-1.04z" fill="#fddab6"/>
<path d="M25 12h1.04v1.04h-1.04zM24 35h1.04v1.04h-1.04z" fill="#fedfbf"/>
<path d="M34 12h1.04v1.04h-1.04zM4 15h1.04v1.04h-1.04zM1 17h1.04v1.04h-1.04zM38 29h1.04v1.04h-1.04zM27 33h1.04v1.04h-1.04z" fill="#fdc691"/>
<path d="M35 12h1.04v1.04h-1.04zM20 16h1.04v1.04h-1.04zM6 32h1.04v1.04h-1.04zM37 33h1.04v1.04h-1.04z" fill="#fee8d1"/>
<path d="M40 12h1.04v1.04h-1.04zM1 38h1.04v1.04h-1.04z" fill="#fdd0a1"/>
<path d="M3 13h1.04v1.04h-1.04zM30 13h1.04v1.04h-1.04zM30 25h1.04v1.04h-1.04zM4 32h1.04v1.04h-1.04z" fill="#fee5cd"/>
<path d="M14 13h1.04v1.04h-1.04zM17 16h1.04v1.04h-1.04zM26 38h1.04v1.04h-1.04zM9 39h1.04v1.04h-1.04zM16 41h1.04v1.04h-1.04zM16 42h1.04v1.04h-1.04zM16 43h1.04v1.04h-1.04z" fill="#fdc38d"/>
<path d="M16 13h1.04v1.04h-1.04zM37 13h1.04v1.04h-1.04zM39 16h1.04v1.04h-1.04zM5 19h1.04v1.04h-1.04zM35 22h1.04v1.04h-1.04zM23 36h1.04v1.04h-1.04z" fill="#fd9547"/>
<path d="M20 13h1.04v1.04h-1.04zM41 40h1.04v1.04h-1.04zM42 40h1.04v1.04h-1.04zM43 40h1.04v1.04h-1.04z" fill="#fd9d52"/>
<path d="M22 13h1.04v1.04h-1.04z" fill="#e25408"/>
<path d="M29 13h1.04v1.04h-1.04z" fill="#fee5cb"/>
<path d="M35 13h1.04v1.04h-1.04zM37 20h1.04v1.04h-1.04z" fill="#cf4401"/>
<path d="M36 13h1.04v1.04h-1.04zM16 29h1.04v1.04h-1.04zM36 41h1.04v1.04h-1.04zM36 42h1.04v1.04h-1.04zM36 43h1.04v1.04h-1.04z" fill="#d64701"/>
<path d="M3 14h1.04v1.04h-1.04zM14 32h1.04v1.04h-1.04z" fill="#fdbd84"/>
<path d="M7 14h1.04v1.04h-1.04zM38 14h1.04v1.04h-1.04zM13 36h1.04v1.04h-1.04z" fill="#e4580a"/>
<path d="M9 14h1.04v1.04h-1.04zM13 19h1.04v1.04h-1.04z" fill="#fdc089"/>
<path d="M10 14h1.04v1.04h-1.04zM20 33h1.04v1.04h-1.04z" fill="#fda55f"/>
<path d="M16 14h1.04v1.04h-1.04zM12 19h1.04v1.04h-1.04zM34 27h1.04v1.04h-1.04z" fill="#fee0c3"/>
<path d="M17 14h1.04v1.04h-1.04z" fill="#fdc087"/>
<path d="M19 14h1.04v1.04h-1.04zM3 16h1.04v1.04h-1.04zM17 34h1.04v1.04h-1.04z" fill="#fee2c5"/>
<path d="M25 14h1.04v1.04h-1.04zM26 14h1.04v1.04h-1.04zM31 15h1.04v1.04h-1.04zM22 19h1.04v1.04h-1.04zM28 21h1.04v1.04h-1.04zM23 22h1.04v1.04h-1.04zM31 23h1.04v1.04h-1.04zM19 38h1.04v1.04h-1.04z" fill="#fd984c"/>
<path d="M30 14h1.04v1.04h-1.04zM25 30h1.04v1.04h-1.04zM28 30h1.04v1.04h-1.04zM-2 33h1.04v1.04h-1.04zM-1 33h1.04v1.04h-1.04zM0 33h1.04v1.04h-1.04z" fill="#f57420"/>
<path d="M31 14h1.04v1.04h-1.04z" fill="#d04501"/>
<path d="M35 14h1.04v1.04h-1.04zM32 17h1.04v1.04h-1.04zM19 25h1.04v1.04h-1.04zM38 32h1.04v1.04h-1.04zM33 35h1.04v1.04h-1.04z" fill="#d84801"/>
<path d="M36 14h1.04v1.04h-1.04zM32 15h1.04v1.04h-1.04zM23 17h1.04v1.04h-1.04zM3 18h1.04v1.04h-1.04zM11 21h1.04v1.04h-1.04zM16 22h1.04v1.04h-1.04zM35 29h1.04v1.04h-1.04zM8 32h1.04v1.04h-1.04zM24 33h1.04v1.04h-1.04zM21 35h1.04v1.04h-1.04zM11 39h1.04v1.04h-1.04zM26 40h1.04v1.04h-1.04z" fill="#fd9548"/>
<path d="M39 14h1.04v1.04h-1.04zM33 15h1.04v1.04h-1.04z" fill="#d24601"/>
<path d="M40 14h1.04v1.04h-1.04zM27 18h1.04v1.04h-1.04zM12 28h1.04v1.04h-1.04z" fill="#fda760"/>
<path d="M6 15h1.04v1.04h-1.04z" fill="#fd9b51"/>
<path d="M9 15h1.04v1.04h-1.04zM38 22h1.04v1.04h-1.04zM5 28h1.04v1.04h-1.04zM24 28h1.04v1.04h-1.04z" fill="#fee0c2"/>
<path d="M12 15h1.04v1.04h-1.04z" fill="#feddbb"/>
<path d="M13 15h1.04v1.04h-1.04zM28 18h1.04v1.04h-1.04z" fill="#fee4c9"/>
<path d="M14 15h1.04v1.04h-1.04zM9 17h1.04v1.04h-1.04zM41 20h1.04v1.04h-1.04zM42 20h1.04v1.04h-1.04zM43 20h1.04v1.04h-1.04zM24 23h1.04v1.04h-1.04zM40 23h1.04v1.04h-1.04z" fill="#f26c16"/>
<path d="M15 15h1.04v1.04h-1.04zM13 22h1.04v1.04h-1.04zM34 22h1.04v1.04h-1.04zM32 28h1.04v1.04h-1.04z" fill="#f77c28"/>
<path d="M25 15h1.04v1.04h-1.04zM34 18h1.04v1.04h-1.04zM39 21h1.04v1.04h-1.04zM37 24h1.04v1.04h-1.04zM27 27h1.04v1.04h-1.04zM9 32h1.04v1.04h-1.04zM20 36h1.04v1.04h-1.04z" fill="#f77c29"/>
<path d="M28 15h1.04v1.04h-1.04zM14 31h1.04v1.04h-1.04z" fill="#fdac69"/>
<path d="M29 15h1.04v1.04h-1.04zM41 17h1.04v1.04h-1.04zM42 17h1.04v1.04h-1.04zM43 17h1.04v1.04h-1.04zM4 19h1.04v1.04h-1.04zM18 19h1.04v1.04h-1.04zM9 30h1.04v1.04h-1.04zM35 31h1.04v1.04h-1.04zM10 36h1.04v1.04h-1.04zM14 37h1.04v1.04h-1.04zM37 41h1.04v1.04h-1.04zM37 42h1.04v1.04h-1.04zM37 43h1.04v1.04h-1.04z" fill="#fda25a"/>
<path d="M34 15h1.04v1.04h-1.04zM35 15h1.04v1.04h-1.04z" fill="#7f2704"/>
<path d="M37 15h1.04v1.04h-1.04zM25 20h1.04v1.04h-1.04zM28 22h1.04v1.04h-1.04zM18 25h1.04v1.04h-1.04zM32 27h1.04v1.04h-1.04zM32 30h1.04v1.04h-1.04z" fill="#f9812e"/>
<path d="M1 16h1.04v1.04h-1.04zM40 31h1.04v1.04h-1.04zM22 32h1.04v1.04h-1.04zM26 32h1.04v1.04h-1.04z" fill="#fdcd9e"/>
<path d="M9 16h1.04v1.04h-1.04zM37 29h1.04v1.04h-1.04zM15 40h1.04v1.04h-1.04z" fill="#fdae6c"/>
<path d="M21 16h1.04v1.04h-1.04zM20 19h1.04v1.04h-1.04zM37 32h1.04v1.04h-1.04zM3 39h1.04v1.04h-1.04z" fill="#fee9d3"/>
<path d="M31 16h1.04v1.04h-1.04z" fill="#e75b0c"/>
<path d="M34 16h1.04v1.04h-1.04z" fill="#8f2d04"/>
<path d="M35 16h1.04v1.04h-1.04z" fill="#882a04"/>
<path d="M37 16h1.04v1.04h-1.04zM27 29h1.04v1.04h-1.04z" fill="#fa8532"/>
<path d="M38 16h1.04v1.04h-1.04zM38 18h1.04v1.04h-1.04zM17 39h1.04v1.04h-1.04z" fill="#fee3c7"/>
<path d="M41 16h1.04v1.04h-1.04zM42 16h1.04v1.04h-1.04zM43 16h1.04v1.04h-1.04zM26 36h1.04v1.04h-1.04z" fill="#fc8938"/>
<path d="M8 17h1.04v1.04h-1.04z" fill="#fff0e0"/>
<path d="M11 17h1.04v1.04h-1.04zM39 23h1.04v1.04h-1.04zM18 24h1.04v1.04h-1.04zM40 41h1.04v1.04h-1.04zM40 42h1.04v1.04h-1.04zM40 43h1.04v1.04h-1.04z" fill="#e15307"/>
<path d="M12 17h1.04v1.04h-1.04z" fill="#b63c02"/>
<path d="M18 17h1.04v1.04h-1.04z" fill="#fdc28c"/>
<path d="M19 17h1.04v1.04h-1.04zM30 27h1.04v1.04h-1.04z" fill="#ffefe0"/>
<path d="M21 17h1.04v1.04h-1.04zM20 39h1.04v1.04h-1.04z" fill="#fee1c5"/>
<path d="M28 17h1.04v1.04h-1.04zM29 18h1.04v1.04h-1.04z" fill="#ffeedd"/>
<path d="M30 17h1.04v1.04h-1.04zM34 37h1.04v1.04h-1.04z" fill="#bb3d02"/>
<path d="M31 17h1.04v1.04h-1.04z" fill="#a63603"/>
<path d="M33 17h1.04v1.04h-1.04zM36 32h1.04v1.04h-1.04z" fill="#f26d17"/>
<path d="M12 18h1.04v1.04h-1.04zM32 38h1.04v1.04h-1.04z" fill="#de4f05"/>
<path d="M13 18h1.04v1.04h-1.04zM36 19h1.04v1.04h-1.04zM4 21h1.04v1.04h-1.04zM40 24h1.04v1.04h-1.04zM35 25h1.04v1.04h-1.04zM6 39h1.04v1.04h-1.04z" fill="#fdba7f"/>
<path d="M16 18h1.04v1.04h-1.04zM15 27h1.04v1.04h-1.04zM9 31h1.04v1.04h-1.04z" fill="#fa8431"/>
<path d="M19 18h1.04v1.04h-1.04zM6 24h1.04v1.04h-1.04z" fill="#fdd9b3"/>
<path d="M25 18h1.04v1.04h-1.04zM17 38h1.04v1.04h-1.04z" fill="#fdb677"/>
<path d="M26 18h1.04v1.04h-1.04zM18 26h1.04v1.04h-1.04zM11 36h1.04v1.04h-1.04z" fill="#fdc591"/>
<path d="M35 18h1.04v1.04h-1.04zM30 22h1.04v1.04h-1.04z" fill="#dd4e04"/>
<path d="M1 19h1.04v1.04h-1.04z" fill="#fff2e4"/>
<path d="M9 19h1.04v1.04h-1.04zM5 37h1.04v1.04h-1.04z" fill="#f77a27"/>
<path d="M30 19h1.04v1.04h-1.04z" fill="#b43b02"/>
<path d="M31 19h1.04v1.04h-1.04zM18 29h1.04v1.04h-1.04zM38 33h1.04v1.04h-1.04z" fill="#fdcb99"/>
<path d="M34 19h1.04v1.04h-1.04zM13 32h1.04v1.04h-1.04z" fill="#f87e2a"/>
<path d="M35 19h1.04v1.04h-1.04zM10 31h1.04v1.04h-1.04z" fill="#fdcd9c"/>
<path d="M13 20h1.04v1.04h-1.04zM5 22h1.04v1.04h-1.04zM15 32h1.04v1.04h-1.04zM15 33h1.04v1.04h-1.04z" fill="#fdd1a3"/>
<path d="M15 20h1.04v1.04h-1.04zM17 31h1.04v1.04h-1.04zM33 37h1.04v1.04h-1.04z" fill="#fc8a38"/>
<path d="M21 20h1.04v1.04h-1.04z" fill="#a03403"/>
<path d="M32 20h1.04v1.04h-1.04zM14 28h1.04v1.04h-1.04z" fill="#eb610f"/>
<path d="M38 20h1.04v1.04h-1.04zM21 34h1.04v1.04h-1.04zM32 37h1.04v1.04h-1.04zM29 41h1.04v1.04h-1.04zM29 42h1.04v1.04h-1.04zM29 43h1.04v1.04h-1.04z" fill="#f36e19"/>
<path d="M9 21h1.04v1.04h-1.04z" fill="#fdd7af"/>
<path d="M18 21h1.04v1.04h-1.04zM20 28h1.04v1.04h-1.04zM25 29h1.04v1.04h-1.04z" fill="#e5580a"/>
<path d="M19 21h1.04v1.04h-1.04z" fill="#902e04"/>
<path d="M20 21h1.04v1.04h-1.04z" fill="#a43503"/>
<path d="M22 21h1.04v1.04h-1.04zM2 26h1.04v1.04h-1.04zM28 32h1.04v1.04h-1.04zM39 34h1.04v1.04h-1.04zM3 35h1.04v1.04h-1.04z" fill="#f57520"/>
<path d="M29 21h1.04v1.04h-1.04z" fill="#e25407"/>
<path d="M30 21h1.04v1.04h-1.04zM-2 23h1.04v1.04h-1.04zM-1 23h1.04v1.04h-1.04zM0 23h1.04v1.04h-1.04zM13 28h1.04v1.04h-1.04zM35 37h1.04v1.04h-1.04zM39 39h1.04v1.04h-1.04zM39 41h1.04v1.04h-1.04zM39 42h1.04v1.04h-1.04zM39 43h1.04v1.04h-1.04z" fill="#f9802e"/>
<path d="M2 22h1.04v1.04h-1.04zM40 28h1.04v1.04h-1.04zM-2 34h1.04v1.04h-1.04zM-1 34h1.04v1.04h-1.04zM0 34h1.04v1.04h-1.04z" fill="#fdbe85"/>
<path d="M11 22h1.04v1.04h-1.04zM5 30h1.04v1.04h-1.04zM3 37h1.04v1.04h-1.04zM25 38h1.04v1.04h-1.04zM18 41h1.04v1.04h-1.04zM21 41h1.04v1.04h-1.04zM18 42h1.04v1.04h-1.04zM21 42h1.04v1.04h-1.04zM18 43h1.04v1.04h-1.04zM21 43h1.04v1.04h-1.04z" fill="#fee1c4"/>
<path d="M22 22h1.04v1.04h-1.04zM41 23h1.04v1.04h-1.04zM42 23h1.04v1.04h-1.04zM43 23h1.04v1.04h-1.04z" fill="#fdb679"/>
<path d="M32 22h1.04v1.04h-1.04z" fill="#b23a03"/>
<path d="M36 22h1.04v1.04h-1.04z" fill="#cb4302"/>
<path d="M37 22h1.04v1.04h-1.04z" fill="#dc4d04"/>
<path d="M2 23h1.04v1.04h-1.04z" fill="#fd8d3b"/>
<path d="M3 23h1.04v1.04h-1.04z" fill="#f87f2d"/>
<path d="M13 23h1.04v1.04h-1.04zM30 34h1.04v1.04h-1.04z" fill="#fddab5"/>
<path d="M15 23h1.04v1.04h-1.04zM1 29h1.04v1.04h-1.04zM4 38h1.04v1.04h-1.04z" fill="#fff4e8"/>
<path d="M16 23h1.04v1.04h-1.04zM4 35h1.04v1.04h-1.04z" fill="#fdc38e"/>
<path d="M17 23h1.04v1.04h-1.04z" fill="#fb8736"/>
<path d="M22 23h1.04v1.04h-1.04z" fill="#fda965"/>
<path d="M37 23h1.04v1.04h-1.04z" fill="#ac3803"/>
<path d="M10 24h1.04v1.04h-1.04z" fill="#fdc894"/>
<path d="M34 24h1.04v1.04h-1.04z" fill="#e65b0b"/>
<path d="M1 25h1.04v1.04h-1.04z" fill="#a23503"/>
<path d="M2 25h1.04v1.04h-1.04zM5 39h1.04v1.04h-1.04z" fill="#e35608"/>
<path d="M4 25h1.04v1.04h-1.04zM26 31h1.04v1.04h-1.04z" fill="#fedcba"/>
<path d="M14 25h1.04v1.04h-1.04zM41 28h1.04v1.04h-1.04zM42 28h1.04v1.04h-1.04zM43 28h1.04v1.04h-1.04z" fill="#fff0e2"/>
<path d="M23 25h1.04v1.04h-1.04zM37 30h1.04v1.04h-1.04z" fill="#eb610e"/>
<path d="M36 25h1.04v1.04h-1.04zM26 26h1.04v1.04h-1.04zM33 31h1.04v1.04h-1.04zM13 37h1.04v1.04h-1.04zM26 41h1.04v1.04h-1.04zM26 42h1.04v1.04h-1.04zM26 43h1.04v1.04h-1.04z" fill="#fd9041"/>
<path d="M5 26h1.04v1.04h-1.04z" fill="#ce4401"/>
<path d="M6 26h1.04v1.04h-1.04z" fill="#b03a03"/>
<path d="M9 26h1.04v1.04h-1.04z" fill="#8d2c04"/>
<path d="M10 26h1.04v1.04h-1.04z" fill="#da4901"/>
<path d="M29 26h1.04v1.04h-1.04zM26 33h1.04v1.04h-1.04zM36 33h1.04v1.04h-1.04zM34 39h1.04v1.04h-1.04zM9 41h1.04v1.04h-1.04zM9 42h1.04v1.04h-1.04zM9 43h1.04v1.04h-1.04z" fill="#fdd3a8"/>
<path d="M34 26h1.04v1.04h-1.04zM17 27h1.04v1.04h-1.04zM8 35h1.04v1.04h-1.04z" fill="#fdd4ab"/>
<path d="M36 26h1.04v1.04h-1.04zM21 30h1.04v1.04h-1.04z" fill="#fdc896"/>
<path d="M7 27h1.04v1.04h-1.04zM12 27h1.04v1.04h-1.04zM11 33h1.04v1.04h-1.04zM41 35h1.04v1.04h-1.04zM42 35h1.04v1.04h-1.04zM43 35h1.04v1.04h-1.04z" fill="#e25508"/>
<path d="M10 27h1.04v1.04h-1.04z" fill="#e05206"/>
<path d="M11 27h1.04v1.04h-1.04z" fill="#983103"/>
<path d="M22 27h1.04v1.04h-1.04z" fill="#bf3f02"/>
<path d="M35 27h1.04v1.04h-1.04zM25 39h1.04v1.04h-1.04zM37 39h1.04v1.04h-1.04z" fill="#fdd1a5"/>
<path d="M39 27h1.04v1.04h-1.04z" fill="#fdb372"/>
<path d="M2 28h1.04v1.04h-1.04zM11 34h1.04v1.04h-1.04zM15 41h1.04v1.04h-1.04zM15 42h1.04v1.04h-1.04zM15 43h1.04v1.04h-1.04z" fill="#fdd5ab"/>
<path d="M-2 29h1.04v1.04h-1.04zM-1 29h1.04v1.04h-1.04zM0 29h1.04v1.04h-1.04zM41 31h1.04v1.04h-1.04zM42 31h1.04v1.04h-1.04zM43 31h1.04v1.04h-1.04zM27 36h1.04v1.04h-1.04z" fill="#fedebe"/>
<path d="M2 29h1.04v1.04h-1.04zM-2 37h1.04v1.04h-1.04zM-1 37h1.04v1.04h-1.04zM0 37h1.04v1.04h-1.04zM19 37h1.04v1.04h-1.04z" fill="#fee4cb"/>
<path d="M5 29h1.04v1.04h-1.04z" fill="#feead7"/>
<path d="M14 29h1.04v1.04h-1.04z" fill="#d44601"/>
<path d="M19 29h1.04v1.04h-1.04z" fill="#fda056"/>
<path d="M26 29h1.04v1.04h-1.04z" fill="#f16a15"/>
<path d="M33 29h1.04v1.04h-1.04z" fill="#fdcb9b"/>
<path d="M36 29h1.04v1.04h-1.04z" fill="#e6590b"/>
<path d="M39 29h1.04v1.04h-1.04z" fill="#d14501"/>
<path d="M11 30h1.04v1.04h-1.04z" fill="#983003"/>
<path d="M13 30h1.04v1.04h-1.04z" fill="#df5106"/>
<path d="M17 30h1.04v1.04h-1.04zM12 33h1.04v1.04h-1.04z" fill="#e75c0c"/>
<path d="M18 30h1.04v1.04h-1.04zM10 33h1.04v1.04h-1.04z" fill="#e45709"/>
<path d="M26 30h1.04v1.04h-1.04z" fill="#ea600e"/>
<path d="M27 30h1.04v1.04h-1.04z" fill="#c84202"/>
<path d="M4 31h1.04v1.04h-1.04z" fill="#fdc693"/>
<path d="M18 31h1.04v1.04h-1.04zM17 41h1.04v1.04h-1.04zM17 42h1.04v1.04h-1.04zM17 43h1.04v1.04h-1.04z" fill="#e35508"/>
<path d="M23 31h1.04v1.04h-1.04z" fill="#cc4302"/>
<path d="M28 31h1.04v1.04h-1.04z" fill="#8b2c04"/>
<path d="M31 31h1.04v1.04h-1.04z" fill="#fd994c"/>
<path d="M38 31h1.04v1.04h-1.04z" fill="#f77b27"/>
<path d="M12 32h1.04v1.04h-1.04z" fill="#fdbb7f"/>
<path d="M25 32h1.04v1.04h-1.04zM16 40h1.04v1.04h-1.04z" fill="#fc8b39"/>
<path d="M4 33h1.04v1.04h-1.04z" fill="#fedebf"/>
<path d="M22 33h1.04v1.04h-1.04zM20 34h1.04v1.04h-1.04zM12 39h1.04v1.04h-1.04z" fill="#d74701"/>
<path d="M28 33h1.04v1.04h-1.04z" fill="#f5741f"/>
<path d="M39 33h1.04v1.04h-1.04z" fill="#db4b02"/>
<path d="M40 33h1.04v1.04h-1.04z" fill="#822804"/>
<path d="M4 34h1.04v1.04h-1.04z" fill="#fda058"/>
<path d="M5 34h1.04v1.04h-1.04z" fill="#fda25b"/>
<path d="M28 34h1.04v1.04h-1.04z" fill="#b53b02"/>
<path d="M40 34h1.04v1.04h-1.04z" fill="#922e04"/>
<path d="M1 35h1.04v1.04h-1.04zM32 41h1.04v1.04h-1.04zM32 42h1.04v1.04h-1.04zM32 43h1.04v1.04h-1.04z" fill="#feeddb"/>
<path d="M31 35h1.04v1.04h-1.04z" fill="#ee6411"/>
<path d="M37 35h1.04v1.04h-1.04z" fill="#f4711d"/>
<path d="M38 35h1.04v1.04h-1.04zM21 36h1.04v1.04h-1.04z" fill="#9b3203"/>
<path d="M12 36h1.04v1.04h-1.04z" fill="#b83c02"/>
<path d="M19 36h1.04v1.04h-1.04z" fill="#fee3c9"/>
<path d="M15 37h1.04v1.04h-1.04z" fill="#fdae6a"/>
<path d="M8 38h1.04v1.04h-1.04z" fill="#fedbb8"/>
<path d="M12 38h1.04v1.04h-1.04z" fill="#de4e05"/>
<path d="M34 38h1.04v1.04h-1.04z" fill="#fdbe86"/>
<path d="M34 40h1.04v1.04h-1.04z" fill="#f36e18"/>
<path d="M25 41h1.04v1.04h-1.04zM25 42h1.04v1.04h-1.04zM25 43h1.04v1.04h-1.04z" fill="#fff3e7"/>
</g></g>
<circle cx="127.50" cy="757.15" r="21.55" fill="none" stroke="#279127" stroke-width="1.5"/>
<circle cx="127.50" cy="757.15" r="25.86" fill="none" stroke="#3c9c3c" stroke-width="1.1" stroke-dasharray="3 2"/>
<circle cx="127.50" cy="757.15" r="43.10" fill="none" stroke="#3c9c3c" stroke-width="1.1" stroke-dasharray="3 2"/>
<path d="M37 757.15H218M127.50 667V847.3" stroke="#1a1a1a" stroke-width="1.1" stroke-opacity="0.9"/>
</g>
<rect x="38.4" y="681.4" width="87.40" height="19.20" rx="3" ry="3" fill="#f3dfbc" stroke="#5a4d42" stroke-width="1.1"/>
<text x="82.10" y="694.60" font-size="11.2" text-anchor="middle" fill="#1c1c84" stroke="#1c1c84" stroke-width="0.35">SCUBA 850 <tspan font-style="italic">μ</tspan>m</text>
<path d="M208.00,688.50L208.00,703.50L193.00,703.50" fill="none" stroke="#111" stroke-width="1.6"/>
<circle cx="208.00" cy="688.50" r="1.2" fill="#111"/><circle cx="193.00" cy="703.50" r="1.2" fill="#111"/>
<text x="202.90" y="680.20" font-size="15.5" text-anchor="middle" dominant-baseline="central" fill="#111" stroke="#111" stroke-width="0.55" font-family="Liberation Serif" transform="rotate(0 202.90 680.20)">N</text>
<text x="186.40" y="694.50" font-size="15.5" text-anchor="middle" dominant-baseline="central" fill="#111" stroke="#111" stroke-width="0.55" font-family="Liberation Serif" transform="rotate(0 186.40 694.50)">E</text>
<rect x="37" y="667" width="181.00" height="180.30" fill="none" stroke="#5a5a5a" stroke-width="1" stroke-opacity="0.75"/>
<path d="M55.67 847.3v2.5" stroke="#666" stroke-width="0.8"/>
<text x="55.67" y="859.90" font-size="10" text-anchor="middle" fill="#1a1a1a" stroke="#1a1a1a" stroke-width="0.25">−50</text>
<path d="M127.50 847.3v2.5" stroke="#666" stroke-width="0.8"/>
<text x="127.50" y="859.90" font-size="10" text-anchor="middle" fill="#1a1a1a" stroke="#1a1a1a" stroke-width="0.25">0</text>
<path d="M199.33 847.3v2.5" stroke="#666" stroke-width="0.8"/>
<text x="199.33" y="859.90" font-size="10" text-anchor="middle" fill="#1a1a1a" stroke="#1a1a1a" stroke-width="0.25">50</text>
<path d="M34.5 670.96h2.5" stroke="#666" stroke-width="0.8"/>
<text x="33.00" y="674.56" font-size="10" text-anchor="end" fill="#1a1a1a" stroke="#1a1a1a" stroke-width="0.25">60</text>
<path d="M34.5 699.69h2.5" stroke="#666" stroke-width="0.8"/>
<text x="33.00" y="703.29" font-size="10" text-anchor="end" fill="#1a1a1a" stroke="#1a1a1a" stroke-width="0.25">40</text>
<path d="M34.5 728.42h2.5" stroke="#666" stroke-width="0.8"/>
<text x="33.00" y="732.02" font-size="10" text-anchor="end" fill="#1a1a1a" stroke="#1a1a1a" stroke-width="0.25">20</text>
<path d="M34.5 757.15h2.5" stroke="#666" stroke-width="0.8"/>
<text x="33.00" y="760.75" font-size="10" text-anchor="end" fill="#1a1a1a" stroke="#1a1a1a" stroke-width="0.25">0</text>
<path d="M34.5 785.88h2.5" stroke="#666" stroke-width="0.8"/>
<text x="33.00" y="789.48" font-size="10" text-anchor="end" fill="#1a1a1a" stroke="#1a1a1a" stroke-width="0.25">−20</text>
<path d="M34.5 814.61h2.5" stroke="#666" stroke-width="0.8"/>
<text x="33.00" y="818.21" font-size="10" text-anchor="end" fill="#1a1a1a" stroke="#1a1a1a" stroke-width="0.25">−40</text>
<path d="M34.5 843.34h2.5" stroke="#666" stroke-width="0.8"/>
<text x="33.00" y="846.94" font-size="10" text-anchor="end" fill="#1a1a1a" stroke="#1a1a1a" stroke-width="0.25">−60</text>
<text x="127.50" y="872.30" font-size="11" text-anchor="middle" fill="#1a1a1a" stroke="#1a1a1a" stroke-width="0.25">Distance (<tspan font-style="italic">″</tspan>)</text>
<text x="11.30" y="757.15" font-size="11" text-anchor="middle" fill="#1a1a1a" stroke="#1a1a1a" stroke-width="0.25" transform="rotate(-90 11.30 757.15)">Distance (<tspan font-style="italic">″</tspan>)</text>
<rect x="233.3" y="667.2" width="8.90" height="179.70" fill="url(#L4g)" stroke="#5a5a5a" stroke-width="1" stroke-opacity="0.8"/>
<path d="M242.2 834.83h2.5" stroke="#666" stroke-width="0.8"/>
<text x="246.20" y="838.43" font-size="10" text-anchor="start" fill="#1a1a1a" stroke="#1a1a1a" stroke-width="0.25">−0.006</text>
<path d="M242.2 813.84h2.5" stroke="#666" stroke-width="0.8"/>
<text x="246.20" y="817.44" font-size="10" text-anchor="start" fill="#1a1a1a" stroke="#1a1a1a" stroke-width="0.25">−0.004</text>
<path d="M242.2 792.84h2.5" stroke="#666" stroke-width="0.8"/>
<text x="246.20" y="796.44" font-size="10" text-anchor="start" fill="#1a1a1a" stroke="#1a1a1a" stroke-width="0.25">−0.002</text>
<path d="M242.2 771.85h2.5" stroke="#666" stroke-width="0.8"/>
<text x="246.20" y="775.45" font-size="10" text-anchor="start" fill="#1a1a1a" stroke="#1a1a1a" stroke-width="0.25">0.000</text>
<path d="M242.2 750.86h2.5" stroke="#666" stroke-width="0.8"/>
<text x="246.20" y="754.46" font-size="10" text-anchor="start" fill="#1a1a1a" stroke="#1a1a1a" stroke-width="0.25">0.002</text>
<path d="M242.2 729.86h2.5" stroke="#666" stroke-width="0.8"/>
<text x="246.20" y="733.46" font-size="10" text-anchor="start" fill="#1a1a1a" stroke="#1a1a1a" stroke-width="0.25">0.004</text>
<path d="M242.2 708.87h2.5" stroke="#666" stroke-width="0.8"/>
<text x="246.20" y="712.47" font-size="10" text-anchor="start" fill="#1a1a1a" stroke="#1a1a1a" stroke-width="0.25">0.006</text>
<path d="M242.2 687.88h2.5" stroke="#666" stroke-width="0.8"/>
<text x="246.20" y="691.48" font-size="10" text-anchor="start" fill="#1a1a1a" stroke="#1a1a1a" stroke-width="0.25">0.008</text>
<text x="287.20" y="758.50" font-size="10.5" text-anchor="middle" fill="#1a1a1a" stroke="#1a1a1a" stroke-width="0.25" transform="rotate(-90 287.20 758.50)">Flux (Jy)</text>
<g clip-path="url(#R1c)">
<path d="M342 149.63H589.5" stroke="#9a9a9a" stroke-width="0.9" stroke-dasharray="1.2 1.6"/>
<path d="M393.30 1V181.5" stroke="#48a648" stroke-width="1.6"/>
<path d="M409.20 1V181.5M441.00 1V181.5" stroke="#3a9c3a" stroke-width="1.3" stroke-dasharray="3 2"/>
<path d="M353.0 9.2h0M353.9 28.8h0M360.8 56.8h0M361.7 59.8h0M364.8 57.7h0M365.4 63.6h0M368.5 81.5h0M372.7 90.2h0M374.9 94.3h0M376.0 96.3h0M369.8 104.6h0M373.4 106.0h0M376.0 104.6h0M383.1 115.2h0M376.0 118.8h0M380.4 121.0h0M380.7 126.3h0M384.4 133.5h0M386.7 134.1h0M383.6 142.6h0M385.8 142.6h0M388.6 142.6h0M391.3 142.0h0M389.9 147.0h0M387.7 149.9h0M396.4 136.5h0M426.2 160.5h0M515.3 146.5h0M451.8 159.9h0M484.2 165.6h0M495.8 136.1h0M429.5 135.8h0M495.0 169.2h0M459.7 138.2h0M499.7 160.2h0M505.4 164.3h0M403.4 166.7h0M443.8 154.7h0M432.3 141.0h0M420.9 167.9h0M405.0 149.5h0M524.3 149.4h0M536.4 144.6h0M525.2 136.5h0M476.0 136.2h0M468.0 162.2h0M461.3 146.9h0M442.4 137.6h0M430.8 159.6h0M431.1 159.0h0M391.4 148.3h0M434.8 170.3h0M487.1 166.1h0M438.2 155.7h0M414.1 164.4h0M464.8 154.3h0M430.6 161.3h0M434.3 162.7h0M466.1 164.7h0M468.1 163.3h0M521.7 165.9h0M525.4 166.0h0M508.0 149.0h0M423.4 143.2h0M429.6 169.6h0M487.3 151.9h0M489.9 166.1h0M429.5 146.1h0M403.3 138.7h0M457.7 148.7h0M439.6 165.9h0M392.2 164.7h0M526.7 134.8h0M459.7 158.1h0M433.8 135.1h0M399.7 156.9h0M417.0 163.6h0M512.6 165.0h0M477.0 158.6h0M470.0 159.9h0M434.9 161.9h0M404.0 154.1h0M528.8 135.8h0M394.9 137.0h0M409.7 143.7h0M530.8 166.4h0M442.5 158.1h0M444.9 152.7h0M392.1 156.4h0M527.9 169.5h0M466.3 154.1h0M513.0 135.2h0M501.2 162.2h0M495.4 159.3h0M510.7 146.5h0M543.5 139.0h0M397.9 161.6h0M525.5 149.4h0M444.5 170.8h0M509.9 172.9h0M405.2 134.0h0M512.0 138.9h0M465.3 166.3h0M474.1 156.3h0M416.1 166.5h0M431.0 136.0h0M544.9 145.4h0M503.7 144.3h0M471.5 166.0h0M527.9 138.5h0M501.6 136.4h0M543.9 153.2h0M509.1 148.8h0M408.6 160.6h0M401.2 138.2h0M394.1 151.9h0M418.4 167.2h0M416.6 138.6h0M468.0 159.6h0M546.9 151.6h0M438.1 158.4h0M499.4 168.2h0M509.2 138.3h0M464.9 155.8h0M413.0 156.4h0M510.2 156.7h0M487.6 171.2h0M425.0 165.0h0M544.1 171.2h0M424.3 171.7h0M490.6 147.4h0M444.7 171.5h0M458.7 166.2h0M457.4 158.4h0M425.2 140.0h0M498.9 154.5h0M453.1 168.7h0M484.9 153.2h0M532.2 135.0h0M517.2 139.0h0M468.2 158.3h0M465.5 152.1h0M518.5 167.0h0M484.5 137.5h0M425.4 161.7h0M522.3 147.4h0M541.6 147.8h0M539.1 140.6h0M496.1 165.5h0M424.0 139.1h0M442.9 146.1h0M458.7 155.0h0M392.3 140.7h0M439.3 159.7h0M401.8 148.5h0M512.4 152.9h0M465.3 142.7h0M405.8 151.8h0M507.7 158.6h0M527.6 155.1h0M408.8 134.7h0M461.9 143.5h0M402.9 141.3h0M414.4 168.1h0M433.9 156.3h0M466.5 156.2h0M396.1 149.6h0M506.7 134.6h0M477.3 136.4h0M539.5 164.6h0M401.0 166.3h0M507.0 162.7h0M408.2 136.0h0M497.5 135.4h0M442.2 165.4h0M412.0 136.0h0M416.3 141.5h0M423.7 139.1h0M399.5 158.0h0M453.5 134.7h0M531.0 157.9h0M457.0 144.9h0M490.7 137.9h0M498.1 152.8h0M531.5 160.0h0M448.1 159.2h0M467.2 171.6h0M461.5 160.6h0M428.7 163.3h0M515.3 157.9h0M544.0 156.8h0M499.7 161.0h0M519.9 164.6h0M433.7 161.5h0M410.9 143.5h0M458.1 168.0h0M474.5 153.8h0M469.6 145.0h0M401.1 153.7h0M398.7 134.7h0M493.8 166.3h0M534.4 166.1h0M446.1 171.1h0M448.7 144.3h0M409.7 142.5h0M457.4 141.5h0M417.8 137.6h0M504.4 171.1h0M465.6 170.4h0M503.6 158.7h0M511.7 138.4h0M418.2 141.2h0M451.0 158.0h0M493.0 134.8h0M497.4 164.3h0M390.7 168.6h0M436.7 170.3h0M401.0 135.9h0M414.4 159.9h0M541.7 152.0h0M499.0 161.7h0M494.8 166.6h0M444.8 137.4h0M504.7 154.8h0M462.2 143.9h0M452.9 156.0h0M479.4 151.0h0M462.6 149.3h0M414.1 144.0h0M416.1 141.3h0M480.2 136.3h0M455.9 147.2h0M402.1 161.1h0M416.0 146.8h0M409.6 153.4h0M430.2 166.4h0M517.8 163.4h0M403.1 157.6h0M423.6 145.0h0M487.4 135.8h0M523.8 161.0h0M525.3 163.0h0M524.1 167.3h0M535.8 150.8h0M462.2 157.2h0M449.7 166.8h0M489.3 159.0h0M528.3 168.1h0M463.8 150.0h0M504.6 147.3h0M457.3 144.3h0M501.7 158.0h0M457.6 159.1h0M512.2 167.4h0M518.2 149.9h0M448.7 136.0h0M540.4 135.0h0M406.4 153.7h0M534.6 172.6h0M437.5 155.0h0M434.1 150.6h0M474.5 139.9h0M428.1 143.3h0M467.8 135.1h0M524.8 172.2h0M453.1 163.0h0M467.0 133.9h0M481.2 170.3h0M507.5 165.1h0M463.0 148.0h0M533.4 159.6h0M494.6 171.6h0M400.4 156.3h0M482.9 161.9h0M506.8 160.4h0M432.9 145.7h0M501.4 134.7h0M411.4 169.2h0M520.7 162.1h0M532.3 150.6h0M484.7 172.8h0M479.2 138.8h0M546.0 158.0h0M416.9 137.5h0M455.4 155.2h0M464.0 151.5h0M400.1 172.4h0M510.6 148.2h0M452.3 147.3h0M502.1 161.6h0M451.9 163.3h0M412.2 149.8h0M506.0 149.1h0M430.6 147.8h0M454.9 155.5h0M392.7 142.4h0M531.0 161.5h0M447.2 153.7h0M452.8 158.5h0M507.3 147.3h0M440.8 148.1h0M497.5 155.7h0M431.4 139.1h0M391.5 144.8h0M517.1 164.7h0M479.8 134.5h0M437.8 148.9h0M455.3 155.7h0M508.3 151.6h0M434.0 143.9h0M478.1 160.9h0M484.0 143.9h0M400.7 166.5h0M445.8 163.2h0M479.2 171.0h0M534.1 144.1h0M456.3 167.0h0M400.5 144.0h0M479.2 156.7h0M439.7 170.8h0M509.2 164.7h0M432.5 163.8h0M479.2 161.6h0M407.7 138.8h0M417.7 164.5h0M506.4 155.0h0M536.8 137.9h0M478.3 166.5h0M438.8 146.9h0M437.1 152.9h0M409.8 151.0h0M537.9 148.6h0M435.5 168.4h0M484.2 151.3h0M508.7 172.9h0M414.4 148.9h0M480.5 145.4h0M530.4 142.9h0M486.1 134.0h0M443.3 163.5h0M432.6 148.3h0M409.3 157.0h0M444.5 168.3h0M520.3 140.3h0M430.0 169.5h0M488.7 165.0h0M481.9 157.7h0M525.2 160.7h0M471.9 169.7h0M447.6 137.6h0M413.4 143.5h0M461.1 150.8h0M530.5 137.6h0M458.8 134.0h0M435.1 164.2h0M487.0 149.8h0M472.1 160.9h0M458.4 151.5h0M394.8 170.4h0M396.7 140.1h0M487.6 160.7h0M480.5 138.6h0M406.2 165.3h0M442.2 155.0h0M446.6 139.7h0M475.9 170.0h0M431.8 153.1h0M509.3 148.3h0M546.4 160.3h0M487.6 135.4h0M460.6 166.6h0M426.6 157.2h0M410.2 154.3h0M542.3 138.5h0M483.9 136.2h0M488.9 169.8h0M493.0 149.9h0M491.6 162.8h0M505.2 152.0h0M541.8 167.9h0M472.8 139.5h0M416.8 142.7h0M536.8 144.0h0M492.8 164.5h0M535.8 169.7h0M447.8 170.8h0M463.7 144.1h0M469.1 163.8h0M489.3 144.0h0M430.3 160.1h0M422.9 155.2h0M399.9 156.6h0M403.9 162.8h0M545.6 170.2h0M436.8 158.1h0M520.5 168.5h0M535.7 144.7h0M531.1 140.8h0M482.5 170.9h0M531.9 150.1h0M417.1 135.6h0M416.3 165.3h0M485.3 144.0h0M411.3 157.5h0M460.8 155.0h0M465.5 155.3h0M393.4 136.3h0M480.9 145.3h0M494.3 135.5h0M477.2 159.1h0M508.4 165.8h0M483.6 144.0h0M479.7 140.0h0M413.1 141.0h0M538.0 139.7h0M450.2 167.0h0M483.9 162.8h0M500.3 160.6h0M503.1 157.7h0M465.0 137.3h0M452.9 170.9h0M541.0 166.5h0M436.3 143.0h0M390.7 143.3h0M467.6 146.7h0M443.2 161.1h0M577.4 137.0h0M567.3 159.9h0M550.2 171.7h0M555.7 143.7h0M555.2 163.7h0M563.8 142.2h0M578.2 134.2h0M565.1 147.4h0M557.6 168.2h0M567.0 168.0h0M575.3 168.3h0M568.2 172.2h0M568.9 166.2h0M567.8 139.3h0M547.8 159.9h0M551.2 163.2h0M558.1 133.8h0M558.6 145.5h0M555.6 164.1h0M559.5 148.7h0M565.7 157.7h0M552.8 139.6h0M564.8 149.6h0M570.2 165.6h0M577.2 141.3h0M572.3 143.1h0M553.5 147.1h0M554.7 152.3h0" stroke="#1f77b4" stroke-width="2.3" stroke-linecap="round"/>
<path d="M352.99,10.47L354.21,19.58L355.43,27.82L356.65,35.30L357.87,42.14L359.09,48.43L360.31,54.30L361.53,59.84L362.75,65.08L363.98,70.04L365.20,74.74L366.42,79.21L367.64,83.46L368.86,87.51L370.08,91.39L371.30,95.11L372.52,98.70L373.74,102.17L374.96,105.54L376.18,108.80L377.40,111.94L378.62,114.97L379.84,117.88L381.06,120.67L382.28,123.35L383.50,125.89L384.72,128.31L385.94,130.60L387.16,132.76L388.38,134.78L389.60,136.67L390.82,138.41L392.04,140.02L393.26,141.48L394.48,142.79L395.70,143.95L396.92,144.97L398.14,145.86L399.36,146.62L400.58,147.26L401.80,147.80L403.02,148.24L404.24,148.60L405.46,148.88L406.68,149.08L407.90,149.24L409.12,149.34L410.34,149.40L411.56,149.44L412.78,149.45L414.00,149.45L415.22,149.45L416.44,149.46L417.66,149.47L418.88,149.49L420.10,149.52L421.32,149.55L422.54,149.59L423.76,149.63L424.98,149.68L426.20,149.74L427.42,149.80L428.64,149.86L429.86,149.93L431.08,150.00L432.30,150.08L433.52,150.16L434.74,150.25L435.96,150.34L437.19,150.43L438.41,150.52L439.63,150.62L440.85,150.72L442.07,150.82L443.29,150.93L444.51,151.04L445.73,151.15L446.95,151.26L448.17,151.37L449.39,151.48L450.61,151.60L451.83,151.71L453.05,151.83L454.27,151.95L455.49,152.06L456.71,152.18L457.93,152.30L459.15,152.41L460.37,152.53L461.59,152.64L462.81,152.76L464.03,152.87L465.25,152.98L466.47,153.09L467.69,153.20L468.91,153.30L470.13,153.41L471.35,153.51L472.57,153.61L473.79,153.70L475.01,153.80L476.23,153.88L477.45,153.97L478.67,154.05L479.89,154.13L481.11,154.21L482.33,154.28L483.55,154.35L484.77,154.42L485.99,154.48L487.21,154.53L488.43,154.59L489.65,154.63L490.87,154.67L492.09,154.71L493.31,154.74L494.53,154.77L495.75,154.79L496.97,154.81L498.19,154.82L499.41,154.83L500.63,154.82L501.85,154.82L503.07,154.80L504.29,154.79L505.51,154.76L506.73,154.73L507.95,154.69L509.17,154.64L510.39,154.59L511.62,154.53L512.84,154.46L514.06,154.38L515.28,154.30L516.50,154.21L517.72,154.11L518.94,154.00L520.16,153.89L521.38,153.77L522.60,153.63L523.82,153.49L525.04,153.34L526.26,153.19L527.48,153.02L528.70,152.84L529.92,152.66L531.14,152.46L532.36,152.26L533.58,152.04L534.80,151.82L536.02,151.58L537.24,151.34L538.46,151.08L539.68,150.81L540.90,150.54L542.12,150.25L543.34,149.95L544.56,149.64L545.78,149.32L547.00,148.99" fill="none" stroke="#d840d8" stroke-width="1.6"/>
</g>
<rect x="342" y="1" width="247.50" height="180.50" fill="none" stroke="#a0a0a0" stroke-width="1.3"/>
<path d="M345.60 181.5v2.5" stroke="#666" stroke-width="0.8"/>
<text x="345.60" y="194.10" font-size="10" text-anchor="middle" fill="#1a1a1a" stroke="#1a1a1a" stroke-width="0.25">0</text>
<path d="M398.60 181.5v2.5" stroke="#666" stroke-width="0.8"/>
<text x="398.60" y="194.10" font-size="10" text-anchor="middle" fill="#1a1a1a" stroke="#1a1a1a" stroke-width="0.25">20</text>
<path d="M451.60 181.5v2.5" stroke="#666" stroke-width="0.8"/>
<text x="451.60" y="194.10" font-size="10" text-anchor="middle" fill="#1a1a1a" stroke="#1a1a1a" stroke-width="0.25">40</text>
<path d="M504.60 181.5v2.5" stroke="#666" stroke-width="0.8"/>
<text x="504.60" y="194.10" font-size="10" text-anchor="middle" fill="#1a1a1a" stroke="#1a1a1a" stroke-width="0.25">60</text>
<path d="M557.60 181.5v2.5" stroke="#666" stroke-width="0.8"/>
<text x="557.60" y="194.10" font-size="10" text-anchor="middle" fill="#1a1a1a" stroke="#1a1a1a" stroke-width="0.25">80</text>
<path d="M339.5 178.30h2.5" stroke="#666" stroke-width="0.8"/>
<text x="338.00" y="181.90" font-size="10" text-anchor="end" fill="#1a1a1a" stroke="#1a1a1a" stroke-width="0.25">0.10</text>
<path d="M339.5 147.80h2.5" stroke="#666" stroke-width="0.8"/>
<text x="338.00" y="151.40" font-size="10" text-anchor="end" fill="#1a1a1a" stroke="#1a1a1a" stroke-width="0.25">0.12</text>
<path d="M339.5 117.30h2.5" stroke="#666" stroke-width="0.8"/>
<text x="338.00" y="120.90" font-size="10" text-anchor="end" fill="#1a1a1a" stroke="#1a1a1a" stroke-width="0.25">0.14</text>
<path d="M339.5 86.80h2.5" stroke="#666" stroke-width="0.8"/>
<text x="338.00" y="90.40" font-size="10" text-anchor="end" fill="#1a1a1a" stroke="#1a1a1a" stroke-width="0.25">0.16</text>
<path d="M339.5 56.30h2.5" stroke="#666" stroke-width="0.8"/>
<text x="338.00" y="59.90" font-size="10" text-anchor="end" fill="#1a1a1a" stroke="#1a1a1a" stroke-width="0.25">0.18</text>
<path d="M339.5 25.80h2.5" stroke="#666" stroke-width="0.8"/>
<text x="338.00" y="29.40" font-size="10" text-anchor="end" fill="#1a1a1a" stroke="#1a1a1a" stroke-width="0.25">0.20</text>
<text x="465.00" y="207.00" font-size="11" text-anchor="middle" fill="#1a1a1a" stroke="#1a1a1a" stroke-width="0.25">Distance (<tspan font-style="italic">″</tspan>)</text>
<text x="314.50" y="91.30" font-size="10.5" text-anchor="middle" fill="#1a1a1a" stroke="#1a1a1a" stroke-width="0.25" transform="rotate(-90 314.50 91.30)">Flux (Jy)</text>
<text x="498.50" y="55.60" font-size="11" text-anchor="middle" fill="#b33a3a" stroke="#b33a3a" stroke-width="0.25">Compact Source</text>
<g clip-path="url(#R2c)">
<path d="M342 365.70H584.2" stroke="#9a9a9a" stroke-width="0.9" stroke-dasharray="1.2 1.6"/>
<path d="M392.61 223V404" stroke="#48a648" stroke-width="1.6"/>
<path d="M408.28 223V404M439.62 223V404" stroke="#3a9c3a" stroke-width="1.3" stroke-dasharray="3 2"/>
<path d="M352.3 231.2h0M354.1 253.0h0M361.0 267.8h0M364.2 285.4h0M361.7 297.9h0M364.6 296.1h0M368.2 302.0h0M370.0 329.5h0M372.1 328.9h0M375.8 330.0h0M373.8 334.9h0M376.5 340.9h0M382.9 340.4h0M384.9 341.8h0M387.8 346.4h0M373.3 346.5h0M379.0 355.3h0M379.6 359.0h0M384.0 356.0h0M375.4 365.0h0M387.1 365.0h0M385.7 369.4h0M386.5 374.6h0M388.8 371.9h0M527.7 346.8h0M399.7 341.1h0M540.7 340.1h0M492.6 359.3h0M433.7 360.0h0M452.9 344.1h0M516.8 351.0h0M447.2 356.0h0M397.4 342.6h0M457.3 345.7h0M498.2 350.5h0M521.3 348.3h0M473.1 339.2h0M435.9 341.5h0M431.6 340.7h0M484.6 335.4h0M463.0 341.6h0M399.5 341.9h0M473.4 355.0h0M513.8 356.0h0M467.7 343.8h0M403.2 345.9h0M407.2 336.6h0M424.3 345.7h0M535.0 349.2h0M391.2 351.0h0M481.6 346.6h0M538.8 358.7h0M407.3 351.0h0M457.1 339.2h0M416.5 360.7h0M498.2 349.2h0M395.8 336.1h0M396.5 348.4h0M445.5 335.4h0M454.9 355.6h0M523.0 347.2h0M414.2 357.6h0M482.6 359.7h0M443.2 342.8h0M500.5 343.5h0M411.3 360.8h0M490.0 351.0h0M475.0 357.8h0M411.4 356.8h0M500.0 355.7h0M422.3 339.2h0M447.4 339.4h0M467.3 345.7h0M444.9 348.6h0M452.1 346.5h0M527.9 344.5h0M479.6 344.2h0M392.1 355.1h0M453.8 334.8h0M504.5 336.6h0M475.9 337.7h0M461.7 336.7h0M543.4 343.3h0M464.1 342.0h0M537.0 348.7h0M496.5 360.0h0M479.8 353.1h0M508.3 353.4h0M482.8 347.8h0M544.2 337.7h0M403.1 336.6h0M508.4 358.3h0M505.4 336.4h0M436.0 346.2h0M413.2 351.3h0M465.9 349.6h0M418.8 334.7h0M392.4 356.5h0M435.9 354.6h0M398.8 350.4h0M426.7 352.3h0M406.2 337.9h0M511.4 360.9h0M394.4 343.2h0M431.4 351.7h0M464.7 335.7h0M408.1 351.6h0M507.8 345.3h0M446.2 347.5h0M395.0 351.9h0M497.1 360.8h0M465.1 356.6h0M418.8 353.1h0M422.9 358.2h0M433.6 340.6h0M480.0 340.4h0M519.5 341.9h0M421.2 350.9h0M435.7 341.0h0M485.2 344.2h0M524.3 354.9h0M431.5 343.5h0M521.2 361.0h0M531.0 354.1h0M439.8 343.9h0M531.6 359.5h0M462.1 339.3h0M466.5 345.0h0M500.4 344.3h0M391.7 337.2h0M427.5 349.7h0M520.4 351.8h0M457.3 344.9h0M443.8 353.8h0M470.4 356.5h0M450.8 355.5h0M408.6 335.0h0M517.2 335.3h0M454.2 354.2h0M529.1 354.4h0M456.0 344.5h0M422.4 348.1h0M512.2 345.0h0M441.2 357.4h0M458.9 348.7h0M432.5 350.8h0M448.4 358.3h0M529.8 339.7h0M483.4 354.4h0M475.6 351.4h0M422.3 353.7h0M479.1 353.2h0M488.6 338.0h0M504.1 337.3h0M526.4 340.9h0M464.9 355.4h0M398.0 350.9h0M407.7 358.1h0M435.7 352.0h0M541.0 357.5h0M486.0 360.5h0M520.4 358.3h0M449.8 348.0h0M512.3 348.3h0M432.2 339.7h0M420.6 335.1h0M490.0 360.6h0M538.2 337.9h0M420.9 334.7h0M454.7 334.8h0M469.5 350.3h0M447.0 341.2h0M508.9 339.1h0M509.1 357.3h0M397.5 353.1h0M440.8 350.8h0M477.8 353.9h0M540.8 351.1h0M423.0 350.5h0M459.0 346.4h0M418.6 349.2h0M535.3 357.7h0M513.7 354.7h0M440.5 337.2h0M461.1 336.2h0M391.6 346.3h0M401.0 347.6h0M506.9 357.4h0M423.8 338.5h0M506.1 345.8h0M480.8 356.0h0M469.5 337.0h0M456.6 359.4h0M535.4 340.1h0M401.0 350.0h0M413.1 337.3h0M491.0 336.1h0M462.4 334.5h0M401.3 355.0h0M514.8 345.3h0M532.3 351.2h0M389.8 348.6h0M410.9 357.0h0M422.7 355.8h0M454.9 346.0h0M517.7 360.5h0M399.1 352.0h0M454.8 358.6h0M508.7 354.4h0M542.7 343.6h0M400.0 336.7h0M459.5 339.5h0M501.5 353.5h0M466.1 360.0h0M395.6 352.2h0M531.8 341.4h0M508.1 349.9h0M538.0 346.0h0M483.3 337.1h0M425.8 355.3h0M474.4 346.6h0M487.8 358.6h0M433.1 354.3h0M465.3 345.4h0M456.4 337.3h0M453.3 346.8h0M408.4 347.7h0M537.1 337.1h0M391.4 334.7h0M476.0 339.2h0M425.4 359.5h0M527.4 348.1h0M430.2 354.2h0M448.7 355.3h0M427.9 344.9h0M532.7 343.8h0M472.5 356.9h0M390.5 338.1h0M522.6 337.7h0M416.6 360.6h0M463.6 349.0h0M468.9 341.9h0M523.5 347.9h0M509.8 361.2h0M422.4 354.6h0M449.9 338.0h0M416.5 338.7h0M414.1 357.1h0M445.6 348.4h0M522.8 345.3h0M434.4 357.2h0M478.1 340.4h0M458.0 355.2h0M436.4 349.1h0M524.9 336.7h0M405.8 359.4h0M433.8 361.3h0M470.8 335.4h0M508.2 352.9h0M392.5 343.7h0M503.8 337.8h0M523.0 341.4h0M475.1 351.0h0M440.5 339.9h0M482.6 336.4h0M508.2 354.9h0M407.9 361.1h0M401.4 351.5h0M532.9 352.5h0M394.2 338.3h0M459.6 346.9h0M488.6 358.6h0M470.1 353.5h0M427.4 360.6h0M464.5 360.1h0M403.0 345.1h0M486.9 337.9h0M531.6 347.9h0M517.2 356.4h0M473.3 336.2h0M399.5 339.9h0M414.4 360.1h0M472.7 337.6h0M441.2 355.1h0M438.0 355.1h0M469.9 358.4h0M417.1 340.2h0M423.7 343.1h0M459.0 358.3h0M445.9 355.4h0M509.1 337.0h0M496.2 347.8h0M540.4 356.1h0M402.0 355.5h0M465.0 341.1h0M404.4 335.8h0M466.8 339.4h0M497.9 358.9h0M517.6 352.1h0M474.3 344.4h0M443.1 354.4h0M453.1 341.5h0M490.8 348.0h0M515.9 356.1h0M527.5 374.6h0M392.8 371.5h0M462.8 377.3h0M472.4 367.9h0M534.6 382.5h0M479.6 362.1h0M443.3 363.2h0M441.7 367.1h0M453.1 369.3h0M493.4 380.1h0M417.9 372.0h0M414.2 365.1h0M489.4 381.5h0M523.8 365.7h0M522.8 383.1h0M404.4 379.9h0M402.9 369.1h0M538.7 367.3h0M399.1 363.6h0M442.6 373.1h0M500.9 370.3h0M524.5 379.0h0M424.6 380.3h0M428.8 371.9h0M407.0 364.0h0M515.2 366.5h0M537.9 371.0h0M497.0 377.1h0M531.8 364.7h0M489.1 379.0h0M479.6 375.3h0M420.6 372.8h0M486.7 364.0h0M449.0 378.9h0M436.8 370.7h0M486.9 375.9h0M519.9 374.0h0M476.2 365.6h0M526.7 372.9h0M394.4 366.7h0M414.5 370.5h0M528.3 369.9h0M523.4 374.0h0M406.7 373.9h0M518.5 377.6h0M538.1 380.0h0M497.6 365.7h0M426.7 366.9h0M531.6 376.0h0M430.0 376.4h0M468.0 363.8h0M441.3 362.2h0M509.7 370.8h0M495.3 362.1h0M409.4 372.5h0M439.6 362.9h0M469.0 375.8h0M405.7 363.9h0M409.0 371.7h0M517.0 368.6h0M518.6 370.4h0M504.8 370.5h0M462.4 366.0h0M439.4 379.4h0M407.6 381.2h0M498.5 377.4h0M530.9 379.9h0M467.9 365.7h0M499.8 382.8h0M507.0 362.3h0M445.9 385.7h0M489.3 391.9h0M541.8 384.9h0M518.6 394.2h0M501.7 389.7h0M450.3 385.5h0M437.9 393.0h0M493.5 387.8h0M516.4 391.3h0M501.0 386.7h0M540.1 384.1h0M513.1 391.3h0M472.7 391.6h0M464.8 392.7h0M506.2 392.7h0M516.3 390.0h0M473.4 384.4h0M506.3 393.8h0M522.8 388.2h0M518.3 389.0h0M487.2 386.4h0M493.7 392.9h0M516.9 390.9h0M442.6 388.5h0M454.8 385.9h0M516.4 384.4h0M428.0 386.9h0M457.8 385.1h0M421.0 390.5h0M468.1 387.0h0M437.8 386.5h0M427.3 388.7h0M527.6 388.1h0M500.3 386.7h0M455.6 390.0h0M490.3 390.5h0M456.3 384.2h0M416.4 391.4h0M435.9 390.0h0M529.0 387.8h0M536.4 393.3h0M542.7 385.7h0M529.9 389.6h0M429.2 386.8h0M429.0 384.1h0M435.1 389.4h0M474.5 392.8h0M435.3 389.8h0M458.4 388.7h0M490.0 386.8h0M495.4 389.5h0M488.0 387.3h0M449.3 386.7h0M503.0 387.6h0M450.4 391.1h0M501.9 393.7h0M458.6 390.3h0M432.4 387.8h0M542.8 384.8h0M424.8 388.8h0M459.9 384.2h0M499.2 386.0h0M419.9 388.5h0M446.1 390.3h0M478.2 387.4h0M466.4 385.8h0M462.5 391.7h0M478.9 385.2h0M541.0 393.1h0M437.2 393.5h0M435.1 385.2h0M508.0 386.2h0M514.2 390.9h0M467.7 390.7h0M483.2 393.4h0M483.4 389.7h0M489.9 384.8h0M536.7 390.1h0M428.3 384.3h0M437.1 384.9h0M431.3 389.7h0M453.6 391.6h0M482.2 388.9h0M516.7 388.8h0M539.8 387.4h0M486.3 385.7h0M538.2 392.2h0M535.5 385.1h0M492.6 388.8h0M475.8 386.8h0M492.6 388.4h0M531.6 385.1h0M544.2 390.0h0M507.5 393.4h0M543.7 389.1h0M462.0 387.1h0M471.0 388.5h0M483.1 386.7h0M473.6 393.7h0M534.4 385.3h0M466.4 387.5h0M503.0 387.6h0M511.3 393.0h0M451.5 387.9h0M523.7 387.1h0M396.8 380.5h0M408.1 373.5h0M405.8 378.1h0M396.5 382.1h0M399.9 374.9h0M396.6 378.2h0M415.3 373.7h0M413.7 376.4h0M410.8 377.4h0M401.9 374.3h0M405.7 379.5h0M407.4 372.0h0M394.4 378.8h0M406.8 372.6h0M556.5 376.7h0M549.8 357.0h0M554.8 387.0h0M552.1 321.6h0M556.9 360.5h0M551.3 362.8h0M561.2 377.3h0M562.1 330.2h0M557.8 376.3h0M554.9 321.7h0M562.4 330.8h0M570.8 350.4h0M564.6 361.5h0M555.0 356.4h0M556.3 350.5h0M574.0 333.2h0M571.3 371.8h0M554.2 321.4h0M556.1 350.4h0M545.8 326.4h0M567.9 334.1h0M548.3 380.3h0M556.9 327.5h0M546.7 385.8h0M567.0 334.3h0M559.8 355.9h0" stroke="#1f77b4" stroke-width="2.3" stroke-linecap="round"/>
<path d="M352.40,231.20L353.62,239.49L354.84,247.45L356.05,255.09L357.27,262.42L358.49,269.43L359.71,276.11L360.92,282.48L362.14,288.53L363.36,294.26L364.58,299.67L365.80,304.75L367.01,309.52L368.23,313.97L369.45,318.11L370.67,321.92L371.88,325.41L373.10,328.59L374.32,331.49L375.54,334.11L376.76,336.48L377.97,338.62L379.19,340.55L380.41,342.28L381.63,343.83L382.84,345.23L384.06,346.49L385.28,347.63L386.50,348.67L387.71,349.62L388.93,350.51L390.15,351.36L391.37,352.18L392.59,352.99L393.80,353.80L395.02,354.59L396.24,355.36L397.46,356.12L398.67,356.86L399.89,357.58L401.11,358.28L402.33,358.95L403.55,359.59L404.76,360.20L405.98,360.78L407.20,361.32L408.42,361.83L409.63,362.29L410.85,362.72L412.07,363.11L413.29,363.47L414.50,363.79L415.72,364.08L416.94,364.33L418.16,364.55L419.38,364.74L420.59,364.90L421.81,365.03L423.03,365.13L424.25,365.21L425.46,365.25L426.68,365.27L427.90,365.27L429.12,365.24L430.34,365.19L431.55,365.12L432.77,365.02L433.99,364.91L435.21,364.77L436.42,364.62L437.64,364.44L438.86,364.25L440.08,364.05L441.29,363.83L442.51,363.59L443.73,363.34L444.95,363.08L446.17,362.81L447.38,362.53L448.60,362.23L449.82,361.93L451.04,361.62L452.25,361.30L453.47,360.98L454.69,360.65L455.91,360.32L457.13,359.98L458.34,359.64L459.56,359.30L460.78,358.96L462.00,358.62L463.21,358.28L464.43,357.94L465.65,357.60L466.87,357.27L468.08,356.94L469.30,356.62L470.52,356.30L471.74,355.99L472.96,355.69L474.17,355.40L475.39,355.12L476.61,354.85L477.83,354.59L479.04,354.34L480.26,354.11L481.48,353.89L482.70,353.69L483.92,353.50L485.13,353.33L486.35,353.18L487.57,353.04L488.79,352.93L490.00,352.84L491.22,352.76L492.44,352.71L493.66,352.67L494.87,352.64L496.09,352.63L497.31,352.64L498.53,352.65L499.75,352.68L500.96,352.71L502.18,352.75L503.40,352.80L504.62,352.86L505.83,352.91L507.05,352.97L508.27,353.04L509.49,353.10L510.71,353.16L511.92,353.22L513.14,353.28L514.36,353.33L515.58,353.37L516.79,353.41L518.01,353.44L519.23,353.45L520.45,353.46L521.66,353.46L522.88,353.44L524.10,353.40L525.32,353.35L526.54,353.29L527.75,353.20L528.97,353.10L530.19,352.97L531.41,352.82L532.62,352.64L533.84,352.44L535.06,352.22L536.28,351.97L537.50,351.68L538.71,351.37L539.93,351.03L541.15,350.65L542.37,350.24L543.58,349.80L544.80,349.31L546.02,348.79" fill="none" stroke="#d840d8" stroke-width="1.6"/>
</g>
<rect x="342" y="223" width="242.20" height="181.00" fill="none" stroke="#a0a0a0" stroke-width="1.3"/>
<path d="M345.60 404v2.5" stroke="#666" stroke-width="0.8"/>
<text x="345.60" y="416.60" font-size="10" text-anchor="middle" fill="#1a1a1a" stroke="#1a1a1a" stroke-width="0.25">0</text>
<path d="M384.78 404v2.5" stroke="#666" stroke-width="0.8"/>
<text x="384.78" y="416.60" font-size="10" text-anchor="middle" fill="#1a1a1a" stroke="#1a1a1a" stroke-width="0.25">25</text>
<path d="M423.95 404v2.5" stroke="#666" stroke-width="0.8"/>
<text x="423.95" y="416.60" font-size="10" text-anchor="middle" fill="#1a1a1a" stroke="#1a1a1a" stroke-width="0.25">50</text>
<path d="M463.12 404v2.5" stroke="#666" stroke-width="0.8"/>
<text x="463.12" y="416.60" font-size="10" text-anchor="middle" fill="#1a1a1a" stroke="#1a1a1a" stroke-width="0.25">75</text>
<path d="M502.30 404v2.5" stroke="#666" stroke-width="0.8"/>
<text x="502.30" y="416.60" font-size="10" text-anchor="middle" fill="#1a1a1a" stroke="#1a1a1a" stroke-width="0.25">100</text>
<path d="M541.48 404v2.5" stroke="#666" stroke-width="0.8"/>
<text x="541.48" y="416.60" font-size="10" text-anchor="middle" fill="#1a1a1a" stroke="#1a1a1a" stroke-width="0.25">125</text>
<path d="M580.65 404v2.5" stroke="#666" stroke-width="0.8"/>
<text x="580.65" y="416.60" font-size="10" text-anchor="middle" fill="#1a1a1a" stroke="#1a1a1a" stroke-width="0.25">150</text>
<path d="M339.5 395.00h2.5" stroke="#666" stroke-width="0.8"/>
<text x="338.00" y="398.60" font-size="10" text-anchor="end" fill="#1a1a1a" stroke="#1a1a1a" stroke-width="0.25">0.16</text>
<path d="M339.5 365.70h2.5" stroke="#666" stroke-width="0.8"/>
<text x="338.00" y="369.30" font-size="10" text-anchor="end" fill="#1a1a1a" stroke="#1a1a1a" stroke-width="0.25">0.18</text>
<path d="M339.5 336.40h2.5" stroke="#666" stroke-width="0.8"/>
<text x="338.00" y="340.00" font-size="10" text-anchor="end" fill="#1a1a1a" stroke="#1a1a1a" stroke-width="0.25">0.20</text>
<path d="M339.5 307.10h2.5" stroke="#666" stroke-width="0.8"/>
<text x="338.00" y="310.70" font-size="10" text-anchor="end" fill="#1a1a1a" stroke="#1a1a1a" stroke-width="0.25">0.22</text>
<path d="M339.5 277.80h2.5" stroke="#666" stroke-width="0.8"/>
<text x="338.00" y="281.40" font-size="10" text-anchor="end" fill="#1a1a1a" stroke="#1a1a1a" stroke-width="0.25">0.24</text>
<path d="M339.5 248.50h2.5" stroke="#666" stroke-width="0.8"/>
<text x="338.00" y="252.10" font-size="10" text-anchor="end" fill="#1a1a1a" stroke="#1a1a1a" stroke-width="0.25">0.26</text>
<text x="462.60" y="429.50" font-size="11" text-anchor="middle" fill="#1a1a1a" stroke="#1a1a1a" stroke-width="0.25">Distance (<tspan font-style="italic">″</tspan>)</text>
<text x="314.40" y="313.00" font-size="10.5" text-anchor="middle" fill="#1a1a1a" stroke="#1a1a1a" stroke-width="0.25" transform="rotate(-90 314.40 313.00)">Flux (Jy)</text>
<text x="496.50" y="276.40" font-size="11" text-anchor="middle" fill="#b33a3a" stroke="#b33a3a" stroke-width="0.25">Compact Source</text>
<g clip-path="url(#R3c)">
<path d="M342 568.35H589.6" stroke="#9a9a9a" stroke-width="0.9" stroke-dasharray="1.2 1.6"/>
<path d="M396.40 445V625.9" stroke="#48a648" stroke-width="1.6"/>
<path d="M412.33 445V625.9M444.19 445V625.9" stroke="#3a9c3a" stroke-width="1.3" stroke-dasharray="3 2"/>
<path d="M352.6 453.1h0M361.2 463.3h0M364.3 471.6h0M367.9 477.1h0M366.7 520.8h0M369.0 521.6h0M380.4 520.0h0M377.1 529.9h0M379.8 529.0h0M382.2 530.7h0M390.8 532.0h0M369.8 539.5h0M373.4 535.9h0M384.9 553.2h0M381.8 559.3h0M392.8 551.0h0M374.9 565.6h0M381.8 569.2h0M384.0 572.2h0M392.2 573.9h0M384.4 585.7h0M387.7 583.8h0M387.7 591.2h0M388.7 601.1h0M395.3 542.8h0M396.9 544.4h0M393.1 551.0h0M395.9 555.4h0M399.5 559.3h0M396.1 576.1h0M399.5 585.7h0M398.6 591.2h0M402.3 595.6h0M402.3 536.2h0M403.7 545.5h0M407.8 566.4h0M405.6 582.1h0M409.3 587.6h0M509.1 465.2h0M510.2 475.1h0M511.3 498.5h0M513.6 502.6h0M514.7 506.8h0M512.5 515.0h0M566.0 489.1h0M567.1 504.0h0M569.4 512.2h0M571.6 520.5h0M578.1 453.7h0M576.0 542.5h0M564.8 542.5h0M564.8 543.9h0M560.3 517.8h0M561.4 526.0h0M556.9 526.0h0M416.3 564.6h0M414.9 561.5h0M460.4 547.0h0M444.6 529.3h0M426.2 551.0h0M457.6 545.0h0M423.6 564.4h0M428.5 558.7h0M413.2 558.7h0M421.2 536.2h0M415.9 550.3h0M454.2 559.5h0M417.4 545.6h0M431.4 551.2h0M411.3 529.0h0M419.3 539.0h0M468.4 559.0h0M469.0 557.6h0M436.0 551.7h0M427.3 560.8h0M416.4 537.0h0M422.8 555.3h0M430.3 544.0h0M415.5 536.0h0M414.6 544.2h0M461.3 560.2h0M423.4 537.4h0M448.4 565.7h0M417.2 531.9h0M460.3 549.2h0M455.7 555.2h0M406.2 560.2h0M419.9 537.7h0M415.4 555.1h0M467.8 560.5h0M446.2 542.6h0M463.9 530.4h0M465.0 547.2h0M467.2 569.8h0M407.4 540.7h0M444.5 555.5h0M448.7 536.1h0M468.8 543.0h0M451.0 544.0h0M434.4 552.5h0M419.5 544.9h0M428.1 572.0h0M464.8 547.1h0M445.6 539.8h0M422.8 555.7h0M468.7 561.7h0M429.6 532.5h0M422.0 566.5h0M416.5 564.7h0M419.7 572.2h0M408.0 543.0h0M451.9 540.8h0M437.2 551.6h0M457.9 544.2h0M454.2 533.3h0M441.5 530.5h0M441.0 535.5h0M445.9 530.7h0M445.0 564.0h0M444.9 562.1h0M459.1 528.9h0M457.9 551.2h0M433.4 534.8h0M413.3 542.2h0M419.3 567.5h0M462.2 567.2h0M425.5 552.4h0M421.2 536.2h0M468.6 571.1h0M462.7 554.0h0M521.6 545.6h0M504.3 548.9h0M531.7 559.5h0M548.1 521.6h0M481.9 571.9h0M496.4 561.0h0M478.9 536.4h0M476.4 556.9h0M492.8 532.4h0M545.4 541.1h0M501.2 555.3h0M511.7 555.5h0M527.5 569.9h0M541.4 521.6h0M490.1 572.2h0M529.3 560.7h0M505.2 554.4h0M513.7 521.9h0M499.3 532.8h0M516.5 566.4h0M527.0 524.8h0M506.6 550.5h0M531.7 530.9h0M489.7 527.6h0M543.0 523.7h0M490.6 524.0h0M529.8 571.0h0M538.7 541.4h0M470.0 565.1h0M488.5 539.0h0M479.1 561.7h0M477.5 547.7h0M484.3 561.0h0M542.1 521.9h0M489.6 525.0h0M497.9 564.8h0M524.6 536.9h0M512.2 518.4h0M496.1 541.0h0M486.9 537.0h0M524.7 551.9h0M469.4 556.8h0M483.8 541.6h0M489.7 564.1h0M504.7 542.6h0M474.5 527.7h0M486.0 553.4h0M493.8 522.8h0M540.0 562.4h0M541.7 535.9h0M496.0 522.3h0M530.3 560.5h0M550.0 531.3h0M523.4 545.2h0M501.6 572.4h0M531.5 536.3h0M528.4 549.6h0M532.0 563.8h0M551.1 522.5h0M499.7 538.3h0M481.4 543.0h0M544.6 525.0h0M531.3 526.6h0M482.0 558.8h0M528.2 565.7h0M494.9 570.7h0M485.0 538.5h0M537.1 512.0h0M541.6 525.4h0M539.4 518.8h0M521.7 543.1h0M525.7 529.8h0M475.0 532.3h0M508.9 542.2h0M504.2 565.3h0M540.3 532.8h0M489.4 554.5h0M508.7 561.9h0M518.0 546.4h0M532.8 524.6h0M528.9 543.8h0M514.6 556.0h0M495.7 567.6h0M542.9 550.5h0M502.1 547.5h0M545.8 529.6h0M536.6 561.7h0M484.7 566.6h0M550.3 531.3h0M506.6 544.2h0M525.1 524.4h0M521.4 528.2h0M471.2 564.9h0M548.9 517.3h0M504.5 551.1h0M481.5 567.1h0M505.3 566.6h0M534.9 536.1h0M499.3 525.7h0M486.1 566.5h0M485.2 527.9h0M481.1 569.0h0M522.5 533.4h0M490.8 550.4h0M503.5 528.6h0M522.9 518.7h0M549.5 562.1h0M499.5 540.0h0M545.3 561.5h0M484.9 572.7h0M526.4 526.7h0M470.5 572.0h0M530.7 540.6h0M490.9 543.1h0M497.7 533.0h0M542.4 572.7h0M529.7 526.9h0M491.5 536.9h0M500.5 556.9h0M516.6 529.4h0M543.7 516.4h0M480.1 538.2h0M515.6 529.4h0M536.9 566.1h0M526.4 559.9h0M501.7 569.1h0M546.8 535.3h0M523.1 547.8h0M496.7 560.6h0M489.3 552.3h0M537.3 564.5h0M545.1 571.3h0M550.2 520.4h0M535.5 524.8h0M529.5 517.7h0M481.1 536.8h0M473.5 555.7h0M528.9 538.5h0M510.6 569.7h0M528.7 560.5h0M511.0 518.2h0M508.8 535.2h0M500.1 538.6h0M478.2 567.7h0M481.1 537.9h0M485.5 562.9h0M521.5 553.5h0M519.9 563.5h0M479.1 547.8h0M489.3 564.1h0M472.7 527.8h0M516.2 534.2h0M543.7 512.4h0M524.4 514.8h0M510.5 550.1h0M483.0 552.4h0M518.2 553.2h0M546.6 565.9h0M544.4 536.9h0M498.3 560.6h0M478.9 567.2h0M472.5 560.6h0M540.6 565.4h0M471.4 549.1h0M496.6 553.4h0M472.5 551.9h0M500.9 519.7h0M547.9 547.0h0M544.9 535.9h0M483.0 524.2h0M501.6 546.2h0M527.0 559.1h0M508.8 559.4h0M489.6 554.7h0M544.1 531.6h0M501.3 554.5h0M503.0 564.8h0M541.1 549.6h0M509.1 567.2h0M543.7 540.4h0M550.8 565.7h0M490.8 541.1h0M502.4 529.4h0M517.9 523.1h0M534.5 571.3h0M546.2 563.4h0M497.7 544.2h0M541.7 553.9h0M471.7 567.5h0M534.5 560.5h0M524.1 532.6h0M547.6 509.0h0M488.6 529.7h0M501.5 560.9h0M497.1 561.9h0M551.1 571.9h0M539.1 529.1h0M515.4 560.1h0M495.5 523.0h0M536.4 565.2h0M505.3 521.0h0M471.9 547.6h0M528.9 556.9h0M502.8 522.4h0M519.5 523.7h0M526.4 559.3h0M481.8 542.4h0M495.6 569.1h0M473.9 534.1h0M528.5 522.0h0M401.0 584.9h0M412.6 576.2h0M452.9 601.8h0M474.0 595.5h0M480.9 593.0h0M466.3 587.7h0M440.3 593.9h0M484.7 576.4h0M484.9 600.3h0M451.7 587.9h0M424.8 584.3h0M481.7 580.5h0M455.0 592.1h0M449.3 602.8h0M421.7 583.6h0M455.2 599.2h0M429.5 573.7h0M418.4 598.2h0M442.9 591.9h0M444.3 601.0h0M457.8 590.8h0M407.7 587.2h0M450.2 593.5h0M419.9 576.2h0M454.2 593.7h0M466.6 590.7h0M440.5 598.6h0M425.7 592.0h0M470.0 596.3h0M444.2 595.6h0M463.3 598.5h0M441.7 595.2h0M460.5 576.3h0M483.5 582.2h0M400.3 580.6h0M465.2 604.4h0M465.8 614.5h0M480.2 612.8h0M471.0 614.8h0M417.3 612.5h0M418.6 611.9h0M422.9 603.6h0M468.7 603.6h0M454.4 613.2h0M414.2 615.3h0M431.2 612.6h0M432.6 604.1h0M464.7 608.1h0M442.8 613.1h0M455.2 612.8h0M471.0 602.9h0M451.3 616.1h0M461.9 612.0h0M479.8 615.6h0M463.6 605.4h0M414.4 604.1h0M428.3 604.9h0M472.4 608.4h0M455.7 602.6h0M422.8 608.9h0M438.7 616.4h0M418.7 611.6h0M474.5 603.9h0M434.6 605.8h0M454.6 604.2h0M468.2 611.9h0M475.6 606.4h0M420.3 615.4h0M415.8 604.7h0M448.2 615.3h0M527.8 578.6h0M543.2 576.1h0M551.1 574.9h0M515.4 577.2h0M502.6 595.8h0M532.9 575.1h0M530.1 585.3h0M522.0 591.3h0M541.9 573.1h0M486.4 596.7h0M542.2 574.2h0M509.3 593.3h0M523.2 584.8h0M486.2 591.8h0M509.7 589.6h0M496.6 586.3h0M502.3 572.9h0M527.1 576.5h0M538.3 582.0h0M542.7 574.5h0M524.5 575.5h0M512.2 592.0h0M505.8 578.9h0M525.2 581.7h0M541.0 581.9h0M486.9 588.9h0M530.9 575.1h0M516.1 580.8h0M509.1 596.1h0M540.0 573.4h0M494.1 586.2h0M527.8 578.0h0M514.3 589.1h0M510.6 591.7h0M523.3 589.8h0M517.1 582.8h0M543.6 576.8h0M506.9 583.8h0M488.8 599.0h0M519.7 581.0h0M498.9 579.3h0M504.7 573.2h0M547.9 576.9h0M487.2 588.1h0M542.3 577.3h0M543.1 577.8h0M520.7 585.3h0M490.6 602.1h0M542.6 577.5h0M531.7 577.6h0" stroke="#1f77b4" stroke-width="2.3" stroke-linecap="round"/>
<path d="M352.58,453.91L353.83,462.10L355.08,469.76L356.33,476.91L357.58,483.57L358.82,489.78L360.07,495.55L361.32,500.93L362.57,505.92L363.82,510.57L365.07,514.89L366.31,518.91L367.56,522.66L368.81,526.17L370.06,529.47L371.31,532.57L372.55,535.51L373.80,538.30L375.05,540.98L376.30,543.53L377.55,545.96L378.80,548.27L380.04,550.46L381.29,552.53L382.54,554.49L383.79,556.33L385.04,558.07L386.28,559.69L387.53,561.21L388.78,562.62L390.03,563.92L391.28,565.13L392.53,566.23L393.77,567.23L395.02,568.13L396.27,568.94L397.52,569.66L398.77,570.28L400.02,570.81L401.26,571.25L402.51,571.61L403.76,571.88L405.01,572.06L406.26,572.17L407.50,572.20L408.75,572.17L410.00,572.07L411.25,571.92L412.50,571.72L413.75,571.48L414.99,571.19L416.24,570.88L417.49,570.53L418.74,570.17L419.99,569.79L421.24,569.40L422.48,569.01L423.73,568.62L424.98,568.23L426.23,567.84L427.48,567.46L428.72,567.07L429.97,566.68L431.22,566.30L432.47,565.91L433.72,565.53L434.97,565.15L436.21,564.78L437.46,564.40L438.71,564.03L439.96,563.65L441.21,563.29L442.45,562.92L443.70,562.56L444.95,562.20L446.20,561.84L447.45,561.49L448.70,561.14L449.94,560.79L451.19,560.45L452.44,560.11L453.69,559.77L454.94,559.44L456.19,559.11L457.43,558.79L458.68,558.48L459.93,558.16L461.18,557.86L462.43,557.55L463.67,557.26L464.92,556.96L466.17,556.68L467.42,556.40L468.67,556.12L469.92,555.85L471.16,555.59L472.41,555.33L473.66,555.08L474.91,554.84L476.16,554.60L477.41,554.37L478.65,554.14L479.90,553.92L481.15,553.70L482.40,553.49L483.65,553.27L484.89,553.07L486.14,552.86L487.39,552.66L488.64,552.45L489.89,552.25L491.14,552.05L492.38,551.85L493.63,551.66L494.88,551.46L496.13,551.26L497.38,551.06L498.62,550.85L499.87,550.65L501.12,550.44L502.37,550.24L503.62,550.03L504.87,549.81L506.11,549.59L507.36,549.37L508.61,549.14L509.86,548.91L511.11,548.67L512.36,548.43L513.60,548.18L514.85,547.92L516.10,547.66L517.35,547.39L518.60,547.11L519.84,546.83L521.09,546.53L522.34,546.23L523.59,545.92L524.84,545.60L526.09,545.26L527.33,544.92L528.58,544.57L529.83,544.20L531.08,543.82L532.33,543.44L533.58,543.03L534.82,542.62L536.07,542.19L537.32,541.75L538.57,541.30L539.82,540.83L541.06,540.34L542.31,539.84L543.56,539.33L544.81,538.80L546.06,538.25L547.31,537.68L548.55,537.10L549.80,536.50L551.05,535.88" fill="none" stroke="#d840d8" stroke-width="1.6"/>
</g>
<rect x="342" y="445" width="247.60" height="180.90" fill="none" stroke="#a0a0a0" stroke-width="1.3"/>
<path d="M348.60 625.9v2.5" stroke="#666" stroke-width="0.8"/>
<text x="348.60" y="638.50" font-size="10" text-anchor="middle" fill="#1a1a1a" stroke="#1a1a1a" stroke-width="0.25">0</text>
<path d="M405.50 625.9v2.5" stroke="#666" stroke-width="0.8"/>
<text x="405.50" y="638.50" font-size="10" text-anchor="middle" fill="#1a1a1a" stroke="#1a1a1a" stroke-width="0.25">50</text>
<path d="M462.40 625.9v2.5" stroke="#666" stroke-width="0.8"/>
<text x="462.40" y="638.50" font-size="10" text-anchor="middle" fill="#1a1a1a" stroke="#1a1a1a" stroke-width="0.25">100</text>
<path d="M519.30 625.9v2.5" stroke="#666" stroke-width="0.8"/>
<text x="519.30" y="638.50" font-size="10" text-anchor="middle" fill="#1a1a1a" stroke="#1a1a1a" stroke-width="0.25">150</text>
<path d="M576.20 625.9v2.5" stroke="#666" stroke-width="0.8"/>
<text x="576.20" y="638.50" font-size="10" text-anchor="middle" fill="#1a1a1a" stroke="#1a1a1a" stroke-width="0.25">200</text>
<path d="M339.5 625.00h2.5" stroke="#666" stroke-width="0.8"/>
<text x="338.00" y="628.60" font-size="10" text-anchor="end" fill="#1a1a1a" stroke="#1a1a1a" stroke-width="0.25">0.13</text>
<path d="M339.5 597.50h2.5" stroke="#666" stroke-width="0.8"/>
<text x="338.00" y="601.10" font-size="10" text-anchor="end" fill="#1a1a1a" stroke="#1a1a1a" stroke-width="0.25">0.14</text>
<path d="M339.5 570.00h2.5" stroke="#666" stroke-width="0.8"/>
<text x="338.00" y="573.60" font-size="10" text-anchor="end" fill="#1a1a1a" stroke="#1a1a1a" stroke-width="0.25">0.15</text>
<path d="M339.5 542.50h2.5" stroke="#666" stroke-width="0.8"/>
<text x="338.00" y="546.10" font-size="10" text-anchor="end" fill="#1a1a1a" stroke="#1a1a1a" stroke-width="0.25">0.16</text>
<path d="M339.5 515.00h2.5" stroke="#666" stroke-width="0.8"/>
<text x="338.00" y="518.60" font-size="10" text-anchor="end" fill="#1a1a1a" stroke="#1a1a1a" stroke-width="0.25">0.17</text>
<path d="M339.5 487.50h2.5" stroke="#666" stroke-width="0.8"/>
<text x="338.00" y="491.10" font-size="10" text-anchor="end" fill="#1a1a1a" stroke="#1a1a1a" stroke-width="0.25">0.18</text>
<path d="M339.5 460.00h2.5" stroke="#666" stroke-width="0.8"/>
<text x="338.00" y="463.60" font-size="10" text-anchor="end" fill="#1a1a1a" stroke="#1a1a1a" stroke-width="0.25">0.19</text>
<text x="465.00" y="650.50" font-size="11" text-anchor="middle" fill="#1a1a1a" stroke="#1a1a1a" stroke-width="0.25">Distance (<tspan font-style="italic">″</tspan>)</text>
<text x="314.80" y="535.50" font-size="10.5" text-anchor="middle" fill="#1a1a1a" stroke="#1a1a1a" stroke-width="0.25" transform="rotate(-90 314.80 535.50)">Flux (Jy)</text>
<text x="502.50" y="488.00" font-size="11" text-anchor="middle" fill="#b33a3a" stroke="#b33a3a" stroke-width="0.25">Compact Source</text>
<g clip-path="url(#R4c)">
<path d="M357.6 749.60H593.7" stroke="#9a9a9a" stroke-width="0.9" stroke-dasharray="1.2 1.6"/>
<path d="M402.63 667V847.9" stroke="#48a648" stroke-width="1.6"/>
<path d="M409.98 667V847.9M439.37 667V847.9" stroke="#3a9c3a" stroke-width="1.3" stroke-dasharray="3 2"/>
<path d="M405.2 754.1h0M417.0 764.8h0M537.2 758.1h0M412.0 748.7h0M577.9 734.0h0M471.7 736.3h0M498.3 731.1h0M532.2 758.7h0M488.1 716.8h0M413.3 760.8h0M411.5 761.9h0M453.5 729.5h0M530.1 773.6h0M491.3 763.7h0M452.9 695.4h0M573.7 731.7h0M533.0 743.4h0M509.0 735.8h0M463.9 751.4h0M463.8 743.7h0M522.7 737.7h0M458.7 729.0h0M464.1 764.0h0M380.6 769.0h0M506.0 757.2h0M431.9 752.8h0M534.0 747.9h0M447.8 746.2h0M423.5 741.4h0M523.5 763.5h0M476.2 780.2h0M454.9 755.4h0M506.3 742.4h0M505.7 715.6h0M501.2 767.9h0M517.5 766.8h0M454.2 746.5h0M531.8 746.9h0M447.8 724.8h0M461.3 776.8h0M550.5 774.2h0M556.7 757.5h0M577.2 772.8h0M529.3 760.5h0M523.7 752.2h0M463.2 732.4h0M429.8 737.5h0M464.9 768.0h0M523.2 741.8h0M456.2 748.3h0M484.5 756.9h0M481.8 760.8h0M509.8 745.5h0M470.8 760.4h0M534.6 768.9h0M520.1 747.4h0M475.2 754.8h0M440.1 756.9h0M536.0 741.8h0M543.6 770.0h0M545.0 746.4h0M424.7 778.3h0M519.1 746.7h0M504.8 727.1h0M495.8 769.3h0M450.9 747.0h0M462.5 755.9h0M527.6 812.7h0M505.5 758.2h0M464.2 731.0h0M404.4 776.2h0M501.5 777.5h0M430.7 745.2h0M472.5 722.8h0M483.0 739.3h0M399.9 763.9h0M465.1 766.0h0M441.6 741.9h0M452.5 763.4h0M544.7 732.2h0M548.7 728.8h0M437.3 761.9h0M492.6 766.3h0M502.8 737.0h0M424.2 734.3h0M473.8 728.0h0M491.0 756.4h0M406.4 747.3h0M549.7 718.6h0M476.6 745.9h0M523.3 763.3h0M503.7 750.7h0M497.1 751.9h0M438.1 781.6h0M429.1 765.0h0M512.1 771.2h0M474.7 751.5h0M428.2 767.9h0M470.8 764.2h0M536.3 739.6h0M438.8 758.6h0M446.4 756.6h0M486.1 724.2h0M412.0 737.4h0M485.0 736.2h0M547.6 760.2h0M431.8 747.6h0M443.1 746.3h0M510.5 792.8h0M438.0 787.4h0M409.6 741.4h0M529.0 753.4h0M411.6 764.1h0M459.9 742.4h0M388.8 758.5h0M466.5 765.4h0M383.0 768.2h0M516.2 731.6h0M539.2 766.3h0M459.2 735.0h0M444.5 766.8h0M450.1 707.3h0M469.7 702.4h0M448.1 762.4h0M438.2 757.1h0M523.7 750.8h0M425.0 754.0h0M479.8 751.4h0M473.4 735.7h0M462.6 738.7h0M424.0 761.6h0M520.6 728.8h0M457.3 804.6h0M435.7 761.0h0M487.1 764.8h0M494.6 774.1h0M457.6 736.7h0M371.7 756.0h0M472.4 732.4h0M485.1 774.1h0M521.6 770.0h0M498.2 758.7h0M459.0 774.4h0M457.7 739.1h0M494.8 763.8h0M461.3 751.5h0M401.5 762.1h0M507.5 792.8h0M480.3 727.0h0M524.7 747.8h0M444.7 731.9h0M414.2 720.6h0M498.7 762.8h0M410.7 744.7h0M380.8 748.2h0M567.5 786.7h0M446.2 770.6h0M490.9 764.4h0M530.2 756.0h0M415.9 773.9h0M453.1 751.5h0M479.0 767.5h0M443.2 760.4h0M447.8 751.1h0M413.5 708.4h0M452.4 740.1h0M461.2 781.1h0M531.0 773.0h0M443.8 758.8h0M401.2 769.7h0M510.0 742.0h0M447.6 790.6h0M434.3 737.6h0M465.4 746.0h0M456.0 780.6h0M532.4 778.0h0M435.8 758.9h0M503.2 708.6h0M560.7 715.4h0M513.0 737.7h0M509.6 756.6h0M527.5 740.1h0M521.9 749.6h0M495.8 744.6h0M516.7 738.1h0M502.3 676.2h0M456.4 777.3h0M453.1 736.1h0M418.4 769.2h0M474.5 755.6h0M495.6 773.4h0M485.4 769.5h0M410.8 742.8h0M520.0 772.8h0M395.4 747.4h0M521.6 734.1h0M490.0 730.1h0M494.3 746.2h0M430.2 747.1h0M544.7 763.0h0M495.8 722.4h0M463.5 734.9h0M419.2 762.5h0M459.1 761.8h0M475.1 758.1h0M444.0 769.7h0M540.3 778.6h0M547.2 758.4h0M433.4 754.3h0M400.4 720.5h0M516.5 738.2h0M509.8 768.1h0M464.2 764.8h0M416.0 730.5h0M466.6 756.3h0M381.7 756.8h0M546.3 762.1h0M468.5 725.8h0M479.4 788.6h0M482.4 789.2h0M527.4 756.7h0M494.9 749.7h0M487.9 752.3h0M549.5 738.4h0M381.8 742.4h0M383.5 739.6h0M452.2 697.2h0M550.3 741.7h0M532.7 706.3h0M528.8 741.3h0M511.9 762.0h0M539.7 725.5h0M510.5 741.7h0M430.2 752.8h0M486.9 795.0h0M554.5 732.2h0M472.6 746.9h0M450.0 761.5h0M489.7 757.7h0M487.6 740.1h0M396.1 730.0h0M469.6 729.6h0M517.3 812.4h0M549.6 732.2h0M529.9 755.1h0M490.0 732.5h0M415.0 735.2h0M496.4 739.3h0M380.7 792.9h0M495.8 760.6h0M528.2 752.1h0M551.8 761.3h0M489.3 750.9h0M380.1 756.3h0M551.9 774.0h0M472.8 785.2h0M440.4 764.2h0M409.2 771.2h0M460.2 773.4h0M508.0 762.0h0M500.6 726.9h0M514.1 765.8h0M420.6 729.5h0M462.1 775.7h0M462.7 742.1h0M530.6 754.9h0M536.8 752.0h0M474.2 779.9h0M474.2 730.9h0M531.7 742.4h0M458.1 757.4h0M543.9 748.4h0M396.6 715.2h0M543.9 749.7h0M550.9 764.5h0M500.1 757.4h0M456.8 762.4h0M549.4 769.6h0M532.1 759.7h0M426.3 749.0h0M520.5 757.4h0M571.1 760.9h0M569.1 756.8h0M526.6 763.0h0M409.8 751.8h0M534.4 754.1h0M492.7 707.4h0M522.8 745.9h0M412.6 770.8h0M454.0 748.8h0M492.6 765.2h0M490.6 738.3h0M460.1 756.7h0M476.8 738.1h0M480.5 742.8h0M419.6 744.9h0M468.5 727.8h0M432.5 773.3h0M504.3 789.1h0M424.0 768.6h0M422.7 734.3h0M479.2 738.7h0M417.4 727.3h0M528.9 721.3h0M451.4 738.7h0M525.1 711.4h0M476.8 759.2h0M526.4 739.6h0M448.6 761.9h0M476.0 739.8h0M557.1 742.5h0M446.4 747.6h0M493.6 759.2h0M377.4 766.9h0M542.6 767.8h0M501.7 734.6h0M528.8 754.0h0M573.8 739.9h0M545.8 784.8h0M516.4 748.5h0M417.1 726.5h0M476.9 756.7h0M547.5 769.9h0M467.3 775.4h0M493.2 802.5h0M467.6 716.0h0M371.7 704.9h0M471.2 747.4h0M457.7 755.2h0M458.3 745.5h0M464.7 737.6h0M489.2 749.1h0M580.3 769.1h0M500.3 741.3h0M499.7 790.8h0M562.5 759.8h0M515.6 764.3h0M420.6 757.7h0M482.8 765.0h0M496.2 766.6h0M432.8 737.3h0M568.6 749.5h0M502.8 776.5h0M530.3 746.0h0M450.1 708.6h0M403.0 780.6h0M462.2 716.6h0M456.7 747.4h0M498.1 751.1h0M441.6 741.8h0M534.1 734.7h0M502.3 739.7h0M467.4 708.4h0M467.2 741.7h0M441.3 729.1h0M488.9 734.3h0M404.9 765.7h0M517.9 746.5h0M559.2 783.0h0M421.0 759.0h0M431.0 758.1h0M484.2 763.1h0M423.1 763.4h0M470.2 798.1h0M441.3 766.2h0M487.8 739.4h0M465.8 759.2h0M552.2 770.9h0M478.5 740.8h0M416.8 756.3h0M421.6 782.9h0M452.3 759.5h0M465.6 759.5h0M458.6 772.4h0M376.6 749.8h0M534.3 754.4h0M378.7 771.3h0M555.7 747.1h0M517.7 755.7h0M495.3 751.5h0M428.6 746.6h0M449.0 715.1h0M445.5 769.2h0M460.4 713.5h0M529.8 732.1h0M520.4 723.6h0M545.4 701.2h0M468.3 754.3h0M450.5 743.9h0M426.8 723.5h0M503.5 746.4h0M445.0 792.7h0M495.5 790.5h0M528.1 757.8h0M493.1 745.4h0M492.8 740.0h0M578.1 725.2h0M553.6 755.3h0M517.2 770.0h0M521.3 718.6h0M416.1 756.2h0M458.7 725.9h0M459.1 779.7h0M429.7 742.5h0M439.7 765.7h0M493.2 719.8h0M372.7 699.0h0M527.9 755.2h0M540.9 754.0h0M512.9 723.0h0M436.0 777.6h0M419.6 778.1h0M493.0 743.5h0M519.4 746.6h0M432.6 713.1h0M525.2 751.1h0M482.9 777.6h0M419.3 742.2h0M528.9 785.8h0M472.8 736.0h0M465.9 734.1h0M487.6 727.0h0M475.7 774.6h0M404.0 763.9h0M509.0 768.2h0M396.6 738.1h0M509.1 729.8h0M377.6 738.7h0M522.0 760.3h0M487.1 764.3h0M455.1 734.8h0M532.2 741.6h0M427.6 745.9h0M514.1 760.1h0M567.8 741.0h0M412.3 745.6h0M413.4 772.6h0M416.2 753.4h0M462.6 761.5h0M511.7 732.5h0M424.8 737.1h0M447.0 750.4h0M542.6 701.9h0M421.4 743.1h0M487.5 787.6h0M501.0 751.6h0M554.8 763.4h0M478.6 758.3h0M540.0 753.1h0M422.6 753.7h0M520.0 720.5h0M494.7 725.4h0M398.2 761.4h0M465.0 770.3h0M534.9 743.2h0M514.2 749.8h0M446.8 718.6h0M470.8 716.4h0M539.3 733.7h0M428.6 790.9h0M510.6 757.1h0M451.5 750.8h0M539.4 752.7h0M528.3 746.5h0M546.1 761.2h0M454.9 769.1h0M519.3 753.1h0M457.6 740.2h0M478.2 767.2h0M502.5 751.4h0M500.3 748.0h0M445.8 746.2h0M447.4 761.4h0M458.4 759.9h0M494.0 762.2h0M529.2 751.2h0M446.6 751.7h0M516.4 737.5h0M401.8 754.8h0M442.7 723.9h0M524.8 747.4h0M477.1 761.5h0M513.6 752.8h0M513.2 731.6h0M416.6 757.3h0M503.4 749.0h0M492.7 751.3h0M422.4 770.0h0M454.6 762.9h0M457.1 755.3h0M522.2 766.2h0M506.3 770.6h0M449.4 754.0h0M445.9 754.5h0M501.8 740.4h0M422.6 738.4h0M509.5 743.4h0M450.0 783.5h0M553.4 735.9h0M422.6 758.8h0M506.6 731.3h0M519.6 757.9h0M480.8 763.1h0M484.5 768.6h0M468.3 744.9h0M487.9 725.2h0M506.4 710.8h0M558.2 729.8h0M423.8 740.2h0M444.0 734.0h0M540.7 727.3h0M564.1 751.0h0M503.4 755.9h0M417.1 749.6h0M428.5 755.2h0M426.9 788.6h0M404.5 746.3h0M466.4 761.6h0M456.8 741.5h0M410.2 751.0h0M443.6 743.1h0M417.4 740.1h0M447.0 722.6h0M380.1 770.4h0M436.3 708.7h0M517.0 742.9h0M476.4 757.3h0M546.9 731.7h0M382.5 758.3h0M455.8 734.1h0M517.7 788.8h0M481.9 748.6h0M446.3 766.9h0M426.8 726.2h0M463.5 765.7h0M442.5 759.9h0M527.5 749.8h0M449.7 756.2h0M519.7 767.1h0M491.8 774.2h0M443.4 759.1h0M492.3 742.4h0M416.1 740.7h0M480.6 764.3h0M563.9 756.6h0M517.1 735.6h0M566.0 778.9h0M486.7 753.7h0M513.5 742.7h0M425.7 754.5h0M372.5 733.0h0M450.3 726.5h0M485.4 767.3h0M492.9 725.5h0M451.3 776.3h0M462.7 706.9h0M443.9 732.5h0M468.7 744.3h0M425.7 730.5h0M477.8 758.1h0M434.9 733.0h0M510.6 754.5h0M384.4 750.7h0M525.0 732.5h0M499.4 737.1h0M457.6 748.6h0M487.3 779.4h0M499.1 764.8h0M462.6 724.3h0M483.6 750.0h0M535.2 721.9h0M520.4 721.8h0M502.6 783.4h0M507.6 746.1h0M413.1 765.6h0M519.4 749.2h0M515.6 746.8h0M369.7 748.1h0M528.6 719.9h0M535.3 744.2h0M487.3 759.7h0M452.3 762.8h0M407.2 734.4h0M537.4 762.0h0M532.4 751.9h0M517.0 786.7h0M511.1 747.5h0M452.1 769.8h0M414.1 689.3h0M478.2 747.3h0M467.2 741.7h0M457.9 762.0h0M457.1 739.9h0M506.6 716.9h0M543.5 734.2h0M494.1 738.7h0M453.5 749.9h0M432.4 765.0h0M452.5 754.2h0M396.1 739.0h0M475.8 763.8h0M479.0 754.0h0M493.1 754.8h0M488.9 747.9h0M489.1 763.9h0M451.0 746.0h0M441.7 783.1h0M551.9 712.7h0M530.2 751.1h0M479.5 711.0h0M483.0 752.6h0M541.4 732.2h0M500.6 778.9h0M499.3 750.8h0M477.5 747.2h0M494.2 745.3h0M432.1 745.3h0M480.5 748.8h0M446.6 749.4h0M543.9 739.7h0M422.6 723.2h0M478.6 759.3h0M440.2 763.2h0M486.9 748.1h0M514.4 782.1h0M471.8 783.4h0M484.6 759.1h0M535.9 789.3h0M487.9 740.9h0M512.1 738.6h0M437.8 723.0h0M506.0 763.4h0M560.6 737.5h0M564.2 740.6h0M441.5 754.6h0M430.1 760.0h0M455.8 733.0h0M459.9 721.0h0M560.0 740.3h0M508.2 756.3h0M510.6 693.6h0M490.5 724.0h0M488.2 747.3h0M490.2 743.0h0M424.3 740.3h0M418.8 778.7h0M431.3 762.4h0M497.6 753.1h0M406.2 761.4h0M408.3 757.8h0M541.8 745.3h0M533.2 735.9h0M512.3 772.0h0M551.1 751.0h0M504.5 776.0h0M514.6 744.3h0M523.9 750.6h0M524.6 742.8h0M469.6 713.8h0M395.3 745.1h0M530.7 744.1h0M489.2 761.2h0M538.1 737.1h0M511.7 750.1h0M459.4 754.8h0M486.0 767.0h0M441.8 770.1h0M472.3 735.1h0M532.8 749.7h0M457.6 760.6h0M449.8 735.4h0M500.2 743.3h0M470.8 737.7h0M530.9 788.2h0M428.4 734.8h0M465.1 740.1h0M459.2 751.1h0M374.1 765.5h0M439.1 760.8h0M525.2 768.1h0M521.0 759.9h0M452.1 732.0h0M417.0 754.9h0M520.9 725.1h0M548.1 738.0h0M466.8 816.1h0M483.7 732.1h0M445.3 768.7h0M468.2 743.7h0M467.9 737.8h0M426.3 739.1h0M472.4 750.3h0M446.5 762.7h0M500.0 762.8h0M515.9 763.2h0M481.2 771.2h0M450.0 768.4h0M442.1 748.2h0M479.5 739.9h0M526.8 750.1h0M437.4 724.0h0M456.8 732.7h0M462.4 754.1h0M539.2 749.8h0M536.5 746.2h0M554.6 726.2h0M527.1 747.8h0M428.8 753.6h0M457.7 763.3h0M462.3 726.6h0M530.1 755.4h0M523.0 756.0h0M491.2 753.6h0M543.0 785.3h0M470.4 781.6h0M518.3 747.4h0M452.8 717.1h0M409.1 743.7h0M436.7 740.8h0M401.6 749.9h0M516.2 751.6h0M490.5 761.4h0M530.9 783.7h0M403.0 755.0h0M457.4 785.1h0M485.4 739.3h0M436.9 738.7h0M513.1 720.9h0M474.9 723.4h0M551.6 765.2h0M501.9 757.9h0M368.7 757.9h0M514.7 751.0h0M521.3 731.3h0M542.4 763.6h0M500.3 750.9h0M531.0 793.7h0M493.6 771.6h0M415.2 749.1h0M543.7 706.2h0M512.7 756.2h0M567.2 750.1h0M496.8 744.4h0M474.6 777.0h0M507.9 738.4h0M425.3 748.1h0M436.5 746.0h0M495.1 755.4h0M545.4 733.6h0M460.3 726.0h0M539.7 730.7h0M491.7 746.9h0M448.1 749.7h0M496.5 763.3h0M530.4 751.5h0M429.2 742.8h0M581.9 765.2h0M455.5 769.7h0M527.4 736.4h0M448.6 723.3h0M508.9 769.4h0M524.8 730.8h0M546.6 737.7h0M447.5 767.7h0M468.6 749.5h0M463.5 720.3h0M458.0 743.5h0M453.1 773.7h0M514.0 765.0h0M554.1 767.4h0M445.8 776.4h0M458.9 729.2h0M480.1 712.4h0M456.3 776.5h0M451.0 769.5h0M547.0 759.3h0M503.8 731.2h0M528.9 744.9h0M468.1 727.7h0M451.3 751.8h0M484.8 732.5h0M404.2 736.4h0M495.2 739.8h0M509.5 752.4h0M467.7 698.7h0M456.6 806.6h0M475.8 743.6h0M455.8 762.6h0M451.8 775.3h0M520.0 757.1h0M378.9 766.5h0M472.4 774.0h0M478.7 725.3h0M550.2 780.9h0M527.5 741.5h0M436.6 724.1h0M454.5 719.6h0M573.5 780.8h0M482.2 741.7h0M455.7 790.1h0M535.2 786.8h0M405.8 721.7h0M483.1 743.4h0M500.7 748.3h0M513.6 739.6h0M465.9 753.6h0M502.4 757.2h0M500.9 746.9h0M496.6 773.9h0M467.5 782.0h0M544.8 744.6h0M478.1 746.6h0M481.9 772.3h0M450.4 762.6h0M431.8 780.5h0M512.8 769.8h0M508.4 723.0h0M507.2 740.2h0M569.0 743.7h0M397.3 761.5h0M477.3 756.5h0M502.0 764.4h0M424.7 769.4h0M489.9 784.7h0M475.6 755.9h0M539.4 779.8h0M448.8 738.0h0M513.9 744.6h0M489.0 758.6h0M485.7 771.2h0M473.2 735.8h0M522.6 732.1h0M501.6 741.7h0M474.5 748.7h0M455.8 748.9h0M522.0 794.9h0M415.8 775.4h0M491.5 798.3h0M475.5 747.3h0M533.0 713.8h0M483.2 749.6h0M403.8 768.2h0M410.5 731.8h0M515.8 733.0h0M426.9 743.3h0M516.5 740.4h0M544.9 771.6h0M423.4 747.4h0M501.1 776.8h0M459.5 748.7h0M454.7 733.2h0M487.9 715.8h0M414.9 745.8h0M391.4 785.1h0M455.7 754.5h0M441.1 791.9h0M508.3 739.5h0M462.1 700.2h0M459.7 731.9h0M480.4 769.6h0M471.5 732.9h0M436.2 762.3h0M524.9 744.9h0M477.8 769.3h0M446.3 732.4h0M452.1 752.8h0M443.9 755.1h0M456.6 741.7h0M433.2 719.4h0M523.3 779.9h0M528.4 740.9h0M530.2 756.9h0M476.5 766.4h0M499.0 756.5h0M468.0 744.2h0M371.3 756.4h0M469.1 744.9h0M471.6 752.2h0M495.7 750.1h0M530.3 743.0h0M488.8 737.5h0M511.2 707.5h0M422.0 723.0h0M475.3 757.7h0M529.2 753.3h0M489.8 749.4h0M445.3 740.1h0M540.4 748.3h0M484.4 763.6h0M488.3 765.9h0M466.5 779.1h0M452.7 778.8h0M435.9 757.2h0M522.7 724.6h0M482.7 770.1h0M570.6 728.2h0M469.4 783.9h0M438.5 769.9h0M402.5 756.5h0M465.9 784.4h0M428.9 746.4h0M431.5 735.4h0M425.5 771.7h0M421.6 759.6h0M488.5 746.0h0M412.9 746.6h0M535.1 762.8h0M519.1 766.2h0M478.4 746.3h0M452.7 750.7h0M449.4 720.4h0M436.5 747.1h0M519.2 750.0h0M446.9 732.0h0M427.3 744.9h0M511.5 748.3h0M456.3 749.6h0M525.4 750.7h0M420.1 755.9h0M445.7 725.4h0M445.8 777.8h0M526.2 771.4h0M481.2 768.9h0M481.5 763.6h0M427.5 753.7h0M521.3 740.1h0M444.8 725.9h0M449.7 755.1h0M493.9 760.8h0M452.4 764.6h0M508.4 762.0h0M513.4 756.5h0M437.9 772.9h0M496.7 738.0h0M521.2 732.5h0M430.7 751.1h0M562.3 728.1h0M542.5 763.0h0M465.9 751.6h0M526.8 751.7h0M519.4 767.2h0M450.8 757.6h0M496.5 749.6h0M390.7 753.1h0M556.4 752.5h0M466.0 763.1h0M500.5 751.1h0M580.0 772.1h0M504.2 732.0h0M423.3 726.0h0M470.0 777.1h0M513.5 776.7h0M468.1 736.5h0M547.0 748.9h0M463.8 768.3h0M506.7 739.4h0M533.4 787.4h0M514.6 809.3h0M509.7 743.6h0M465.1 751.3h0M475.9 748.1h0M412.6 724.3h0M503.1 802.5h0M424.2 757.4h0M473.5 756.0h0M475.9 728.7h0M523.5 752.2h0M446.9 712.4h0M535.5 763.1h0M476.1 717.2h0M509.3 752.2h0M472.9 770.5h0M493.3 759.5h0M490.7 770.9h0M535.0 721.8h0M531.2 775.6h0M490.4 750.3h0M459.6 778.4h0M385.0 744.6h0M509.5 751.4h0M415.0 756.8h0M509.5 751.2h0M483.1 729.3h0M471.4 783.6h0M519.0 756.4h0M513.9 760.4h0M540.1 758.5h0M480.2 756.3h0M476.5 764.7h0M496.5 754.7h0M553.8 768.6h0M547.5 773.1h0M379.8 763.0h0M497.7 781.9h0M484.6 727.3h0M450.3 744.8h0M494.0 746.3h0M476.3 749.9h0M456.8 765.8h0M515.8 718.7h0M493.5 758.4h0M505.2 764.0h0M466.6 742.3h0M513.9 751.6h0M469.3 751.5h0M478.9 743.6h0M423.3 747.3h0M531.1 751.6h0M449.1 768.2h0M570.2 741.2h0M408.5 772.9h0M481.8 752.6h0M410.3 728.3h0M424.2 758.7h0M472.3 745.9h0M420.1 748.1h0M393.4 756.1h0M523.0 738.2h0M418.2 749.4h0M469.5 808.6h0M561.0 767.3h0M411.9 744.8h0M381.3 744.2h0M455.9 747.0h0M467.5 752.7h0M489.0 751.2h0M547.8 753.8h0M392.6 753.1h0M427.0 746.8h0M553.1 766.5h0M477.8 739.7h0M468.6 801.3h0M473.5 680.5h0M528.5 788.0h0M414.1 752.1h0M477.7 763.1h0M528.4 725.2h0M502.4 705.9h0M570.3 731.9h0M465.4 731.4h0M463.9 780.7h0M388.4 780.5h0M508.6 744.3h0M441.2 747.3h0M503.3 770.4h0M424.9 765.3h0M462.3 737.7h0M552.4 749.2h0M446.7 744.3h0M469.4 721.3h0M446.5 764.9h0M453.6 771.0h0M402.2 734.7h0M481.8 741.8h0M468.2 747.9h0M509.1 714.7h0M513.0 752.3h0M431.2 772.5h0M545.9 741.0h0M444.8 764.1h0M484.2 776.8h0M482.1 713.4h0M566.5 722.8h0M462.1 745.6h0M410.0 757.5h0M418.7 765.0h0M419.6 729.6h0M492.0 745.3h0M410.4 752.5h0M513.4 762.4h0M440.7 737.4h0M463.7 749.5h0M419.1 748.9h0M385.6 762.9h0M541.3 790.6h0M497.9 740.3h0M484.0 724.3h0M399.6 761.7h0M534.1 782.9h0M401.2 752.5h0M423.0 743.4h0M485.3 771.5h0M414.6 742.1h0M439.2 742.1h0M463.2 756.3h0M505.6 756.6h0M530.6 740.0h0M505.1 753.6h0M458.9 729.8h0M416.5 760.2h0M471.7 763.5h0M462.2 767.4h0M410.7 738.1h0M438.2 753.2h0M469.1 747.4h0M504.3 730.2h0M442.0 769.7h0M504.8 756.5h0M484.9 746.7h0M464.6 734.1h0M437.5 762.8h0M571.5 760.0h0M540.1 748.8h0M409.6 751.9h0M420.7 771.9h0M459.0 724.1h0M532.7 747.4h0M442.8 770.1h0M469.0 795.3h0M449.2 744.5h0M511.6 744.7h0M502.5 779.4h0M381.9 727.5h0M437.8 785.6h0M506.2 757.7h0M422.0 746.5h0M481.6 739.1h0M532.5 747.0h0M496.2 726.3h0M567.4 762.0h0M522.6 743.2h0M476.7 723.0h0M466.4 737.3h0M486.3 756.0h0M500.8 773.9h0M466.5 749.2h0M380.9 748.3h0M515.7 722.9h0M373.0 714.1h0M423.8 731.0h0M517.4 751.8h0M385.5 777.4h0M438.6 794.4h0M504.9 763.2h0M573.7 763.1h0M417.8 742.3h0M475.8 809.2h0M371.1 763.8h0M378.0 761.1h0M545.6 740.1h0M432.4 762.0h0M472.0 757.4h0M524.7 748.4h0M419.3 735.5h0M474.4 763.0h0M479.2 771.1h0M481.7 731.6h0M568.7 762.4h0M509.1 727.6h0M532.0 726.1h0M449.2 755.5h0M523.4 745.9h0M453.5 762.8h0M457.8 708.0h0M426.1 753.5h0M472.3 757.8h0M490.4 763.4h0M536.9 760.1h0M500.3 803.0h0M501.6 755.4h0M468.9 768.7h0M401.3 750.4h0M419.1 727.1h0M503.3 749.7h0M460.3 758.7h0M467.2 732.8h0M467.9 762.8h0M464.2 732.7h0M439.0 734.5h0M469.3 768.5h0M468.9 741.1h0M426.1 750.1h0M479.2 730.0h0M466.1 768.6h0M508.3 747.0h0M436.9 761.6h0M474.0 742.3h0M378.2 740.1h0M417.6 751.8h0M449.2 749.7h0M447.7 691.0h0M502.9 751.7h0M415.0 755.9h0M488.5 712.4h0M417.8 733.2h0M525.7 757.7h0M465.7 761.2h0M436.3 717.9h0M406.1 703.8h0M473.9 748.4h0M436.0 758.3h0M550.4 733.4h0M456.3 763.5h0M469.1 754.2h0M497.1 743.4h0M442.5 735.5h0M453.1 706.4h0M562.3 755.2h0M509.8 735.7h0M473.1 775.5h0M491.4 732.0h0M464.7 738.3h0M524.8 738.0h0M510.8 760.0h0M411.4 738.9h0M535.7 751.1h0M479.4 774.6h0M442.7 793.4h0M431.1 758.6h0M392.9 761.3h0M488.0 730.7h0M446.3 797.0h0M508.3 751.8h0M519.0 778.0h0M462.5 763.6h0M559.8 734.9h0M559.9 743.9h0M446.6 762.6h0M485.4 742.5h0M449.4 769.2h0M430.8 748.0h0M389.8 734.7h0M532.7 761.9h0M432.7 727.9h0M516.5 729.5h0M523.7 718.2h0M495.2 747.2h0M504.7 775.3h0M448.6 765.5h0M373.3 791.0h0M495.9 721.8h0M500.0 769.0h0M523.9 761.8h0M474.0 773.5h0M455.1 743.5h0M429.2 768.3h0M507.0 719.0h0M529.9 766.3h0M454.2 736.8h0M566.2 760.6h0M413.5 756.3h0M408.7 771.7h0M485.4 725.5h0M541.8 756.6h0M530.3 761.3h0M459.5 739.4h0M440.0 758.0h0M468.3 793.0h0M534.9 739.2h0M439.0 714.8h0M463.7 766.2h0M463.7 754.4h0M524.2 760.9h0M419.3 769.4h0M487.0 747.2h0M528.1 763.2h0M461.6 771.0h0M523.8 732.1h0M407.0 769.4h0M425.3 732.3h0M429.8 747.4h0M417.0 757.0h0M459.0 740.9h0M405.8 738.2h0M421.2 773.9h0M524.9 746.7h0M512.2 759.0h0M444.8 747.2h0M431.0 768.3h0M462.9 742.5h0M518.4 765.3h0M444.6 737.4h0M494.0 734.9h0M518.8 733.1h0M451.1 741.6h0M460.4 759.2h0M400.9 747.3h0M449.1 766.3h0M468.7 790.0h0M476.4 751.6h0M473.5 728.3h0M543.4 746.7h0M436.2 740.4h0M529.5 762.1h0M451.7 745.2h0M517.2 757.5h0M428.7 785.8h0M466.5 755.3h0M475.1 745.0h0M464.3 754.6h0M548.7 781.9h0M540.9 759.2h0M482.9 708.2h0M412.6 735.4h0M459.5 807.0h0M533.6 686.2h0M420.5 793.3h0M427.0 791.3h0M480.3 763.3h0M436.8 723.1h0M492.5 762.3h0M532.7 750.2h0M526.4 774.4h0M494.7 738.6h0M524.5 768.0h0M526.1 708.7h0M489.4 731.3h0M470.3 743.5h0M458.6 777.8h0M533.5 715.5h0M384.9 752.9h0M421.7 771.2h0M477.8 753.4h0M437.8 758.6h0M370.7 740.5h0M449.3 739.5h0M434.3 751.3h0M457.0 736.6h0M383.0 731.3h0M378.3 732.2h0M473.1 730.4h0M458.3 742.1h0M537.3 758.2h0M429.2 750.0h0M501.1 737.4h0M471.5 713.6h0M417.8 755.9h0M478.1 776.5h0M524.0 741.3h0M555.6 739.5h0M427.4 738.9h0M413.8 741.8h0M478.3 749.4h0M475.2 777.8h0M534.3 753.5h0M539.5 774.9h0M507.9 739.8h0M504.2 735.2h0M506.7 748.0h0M465.1 791.8h0M524.6 745.2h0M574.4 747.0h0M457.5 733.4h0M439.6 723.4h0M499.8 792.8h0M520.7 731.1h0M509.0 751.6h0M481.5 746.1h0M546.1 742.9h0M458.2 746.8h0M468.3 781.8h0M549.2 740.1h0M428.1 772.9h0M441.8 732.1h0M512.4 774.6h0M523.9 780.6h0M485.9 745.2h0M414.3 783.8h0M546.2 764.4h0M407.4 752.3h0M502.3 712.0h0M532.5 728.9h0M457.1 750.2h0M425.9 732.8h0M467.4 757.7h0M522.1 756.3h0M438.5 740.2h0M406.0 745.5h0M443.0 719.7h0M538.2 742.7h0M482.9 771.5h0M477.6 762.2h0M508.3 737.9h0M475.2 754.0h0M412.4 785.8h0M539.4 766.0h0M451.6 756.6h0M522.1 751.3h0M494.5 738.8h0M497.6 746.7h0M396.4 730.2h0M418.0 745.5h0M425.6 752.2h0M524.4 758.3h0M492.6 715.6h0M448.3 753.0h0M460.8 746.9h0M515.8 751.7h0M496.1 724.6h0M474.4 753.0h0M411.2 731.3h0M529.0 760.2h0M485.4 770.7h0M535.1 732.2h0M411.6 761.9h0M466.8 736.6h0M463.4 751.0h0M390.2 749.7h0M413.4 801.6h0M512.2 742.9h0M509.0 738.2h0M424.8 735.4h0M476.6 771.1h0M485.6 752.4h0M475.7 738.4h0M452.5 750.1h0M530.1 748.1h0M454.6 783.5h0M518.1 746.1h0M460.5 774.3h0M471.9 746.9h0M469.8 774.8h0M568.0 751.3h0M530.7 715.6h0M507.4 765.5h0M507.7 721.9h0M574.1 710.9h0M479.8 727.2h0M548.1 746.9h0M528.9 710.2h0M523.2 752.8h0M507.1 788.8h0M529.9 746.4h0M473.5 720.1h0M465.5 750.6h0M459.7 717.7h0M494.3 778.1h0M367.9 756.5h0M384.8 766.5h0M490.8 777.4h0M452.9 744.9h0M497.9 751.5h0M538.8 754.5h0M497.5 741.9h0M531.8 705.7h0M487.0 785.2h0M489.8 760.4h0M513.9 764.6h0M409.7 743.2h0M512.7 754.1h0M468.5 732.4h0M369.8 794.8h0M529.7 745.3h0M414.2 730.4h0M411.9 755.9h0M488.3 778.5h0M390.1 749.3h0M446.5 727.5h0M530.7 757.7h0M509.6 720.3h0M527.3 767.0h0M573.8 756.2h0M512.3 787.7h0M519.2 751.9h0M489.2 746.0h0M479.9 766.4h0M472.8 734.9h0M517.7 746.1h0M530.6 708.0h0M552.0 757.0h0M412.0 756.0h0M443.4 756.0h0M520.7 775.7h0M510.3 793.4h0M437.3 782.4h0M495.0 745.3h0M386.8 745.0h0M475.2 744.8h0M417.4 746.3h0M503.9 765.5h0M555.2 748.2h0M369.9 773.9h0M490.7 763.2h0M430.1 760.3h0M491.4 722.0h0M534.5 720.9h0M479.7 754.3h0M516.3 754.7h0M470.6 765.2h0M511.0 794.3h0M456.9 760.4h0M430.4 749.7h0M497.4 772.0h0M503.8 743.6h0M448.2 761.8h0M439.8 752.4h0M443.2 771.7h0M458.8 749.6h0M483.2 754.7h0M471.5 742.9h0M401.4 727.8h0M504.0 762.3h0M461.6 756.3h0M500.1 744.5h0M576.9 778.8h0M422.7 754.6h0M563.0 731.5h0M399.6 747.9h0M501.1 761.3h0M491.9 743.7h0M425.0 768.3h0M496.6 758.0h0M510.2 769.5h0M402.8 737.7h0M424.3 768.5h0M527.5 765.3h0M415.4 734.1h0M439.9 742.6h0M451.6 751.3h0M476.4 763.6h0M449.4 773.3h0M471.0 765.7h0M503.0 793.1h0M491.6 741.4h0M493.0 748.8h0M522.8 756.4h0M447.9 759.1h0M406.8 740.5h0M463.6 760.5h0M470.5 750.6h0M464.4 761.7h0M490.2 752.4h0M430.0 755.6h0M401.4 770.6h0M465.4 749.6h0M504.5 756.4h0M481.4 769.9h0M417.6 789.5h0M394.3 733.1h0M501.3 757.1h0M494.8 763.1h0M507.7 754.8h0M473.5 774.2h0M498.4 736.0h0M520.0 763.9h0M483.3 765.7h0M505.7 705.2h0M474.1 756.6h0M509.5 748.6h0M528.8 736.2h0M557.6 742.0h0M473.0 763.8h0M556.9 749.7h0M437.7 751.7h0M496.1 771.3h0M416.8 765.1h0M563.8 771.5h0M462.2 744.2h0M425.1 741.0h0M574.2 748.9h0M368.9 758.5h0M463.2 761.0h0M516.5 741.4h0M430.5 771.5h0M526.9 747.8h0M408.3 756.3h0M420.6 773.5h0M479.5 744.3h0M566.0 765.8h0M442.0 767.5h0M499.7 707.4h0M442.5 761.4h0M530.4 750.7h0M500.7 748.2h0M485.5 777.1h0M413.2 755.8h0M569.8 741.1h0M452.4 750.4h0M442.4 730.0h0M452.8 740.7h0M457.2 739.9h0M438.7 784.3h0M408.3 737.7h0M472.0 770.6h0M468.0 727.5h0M493.1 750.8h0M520.4 746.3h0M461.0 734.4h0M536.0 756.0h0M448.8 723.8h0M457.0 765.2h0M461.2 739.6h0M506.2 741.6h0M523.5 744.2h0M508.1 748.4h0M408.9 735.5h0M517.2 737.4h0M462.9 757.4h0M470.5 747.2h0M445.3 743.8h0M403.2 773.3h0M510.3 745.0h0M508.9 719.6h0M371.3 779.3h0M479.3 705.4h0M557.4 742.0h0M387.3 737.8h0M576.4 765.6h0M515.3 771.3h0M421.4 770.7h0M434.3 751.7h0M457.9 771.6h0M469.4 751.8h0M519.6 724.3h0M444.9 735.0h0M560.4 760.9h0M501.2 753.9h0M458.2 718.4h0M471.0 754.1h0M510.2 768.1h0M543.9 749.4h0M500.2 698.5h0M407.4 768.5h0M545.7 749.6h0M436.8 738.3h0M486.0 762.1h0M489.5 742.1h0M473.3 775.8h0M449.3 732.5h0M421.2 764.8h0M412.2 726.9h0M409.6 767.4h0M427.6 750.5h0M501.7 765.4h0M478.0 762.2h0M416.0 769.0h0M487.4 779.2h0M507.1 754.5h0M443.2 765.5h0M541.9 737.3h0M450.1 723.3h0M371.3 753.3h0M535.7 738.8h0M467.1 751.6h0M441.1 752.5h0M444.6 751.5h0M482.9 748.2h0M523.5 744.3h0M426.7 739.8h0M484.6 729.0h0M484.5 737.0h0M436.4 748.8h0M467.4 788.2h0M424.1 772.6h0M452.3 751.4h0M409.4 754.5h0M480.3 776.8h0M472.0 769.0h0M455.4 749.8h0M520.2 761.4h0M575.4 760.1h0M510.8 775.7h0M535.1 756.8h0M420.0 754.8h0M563.7 744.4h0M531.7 760.9h0M537.4 736.6h0M553.9 751.5h0M517.5 774.8h0M427.1 736.4h0M524.6 754.4h0M454.0 742.3h0M495.8 748.8h0M410.6 768.2h0M521.1 769.5h0M387.1 739.5h0M419.3 755.2h0M473.2 733.0h0M485.0 724.3h0M505.2 739.7h0M425.4 732.8h0M476.7 752.3h0M476.6 753.4h0M460.3 750.5h0M491.7 765.2h0M427.1 759.2h0M395.4 789.8h0M424.2 712.9h0M508.3 719.8h0M536.0 706.2h0M524.2 730.3h0M507.6 734.5h0M526.1 761.2h0M479.4 774.9h0M525.1 715.2h0M547.0 771.4h0M433.1 742.0h0M525.8 777.2h0M397.6 750.6h0M495.6 759.7h0M413.6 722.2h0M515.7 766.7h0M527.5 735.6h0M374.0 716.1h0M414.9 714.3h0M493.0 774.9h0M531.1 780.3h0M427.9 745.5h0M478.1 752.7h0M490.9 755.2h0" stroke="#1f77b4" stroke-width="2.3" stroke-linecap="round"/>
<path d="M368.35,740.11L369.66,737.34L370.98,735.30L372.29,733.92L373.60,733.13L374.92,732.86L376.23,733.03L377.55,733.59L378.86,734.46L380.17,735.57L381.49,736.85L382.80,738.24L384.12,739.66L385.43,741.05L386.74,742.33L388.06,743.44L389.37,744.33L390.68,745.00L392.00,745.48L393.31,745.79L394.63,745.94L395.94,745.96L397.25,745.88L398.57,745.70L399.88,745.46L401.19,745.17L402.51,744.85L403.82,744.53L405.14,744.22L406.45,743.95L407.76,743.73L409.08,743.59L410.39,743.54L411.71,743.56L413.02,743.65L414.33,743.78L415.65,743.94L416.96,744.13L418.27,744.32L419.59,744.50L420.90,744.66L422.22,744.79L423.53,744.86L424.84,744.88L426.16,744.85L427.47,744.79L428.79,744.69L430.10,744.59L431.41,744.47L432.73,744.37L434.04,744.28L435.35,744.22L436.67,744.19L437.98,744.22L439.30,744.30L440.61,744.45L441.92,744.67L443.24,744.96L444.55,745.30L445.87,745.68L447.18,746.11L448.49,746.56L449.81,747.04L451.12,747.54L452.43,748.05L453.75,748.55L455.06,749.05L456.38,749.54L457.69,750.00L459.00,750.43L460.32,750.83L461.63,751.18L462.95,751.49L464.26,751.75L465.57,751.98L466.89,752.17L468.20,752.32L469.51,752.44L470.83,752.53L472.14,752.60L473.46,752.63L474.77,752.65L476.08,752.64L477.40,752.62L478.71,752.57L480.02,752.52L481.34,752.45L482.65,752.37L483.97,752.28L485.28,752.19L486.59,752.10L487.91,752.00L489.22,751.91L490.54,751.82L491.85,751.74L493.16,751.66L494.48,751.60L495.79,751.55L497.10,751.51L498.42,751.49L499.73,751.50L501.05,751.52L502.36,751.57L503.67,751.64L504.99,751.75L506.30,751.88L507.62,752.05L508.93,752.25L510.24,752.49L511.56,752.74L512.87,753.02L514.18,753.31L515.50,753.61L516.81,753.92L518.13,754.22L519.44,754.52L520.75,754.80L522.07,755.08L523.38,755.33L524.70,755.55L526.01,755.75L527.32,755.91L528.64,756.06L529.95,756.17L531.26,756.27L532.58,756.34L533.89,756.39L535.21,756.41L536.52,756.42L537.83,756.41L539.15,756.39L540.46,756.35L541.78,756.29L543.09,756.22L544.40,756.13L545.72,756.04L547.03,755.93L548.34,755.82L549.66,755.70L550.97,755.57L552.29,755.43L553.60,755.29L554.91,755.15L556.23,755.00L557.54,754.86L558.86,754.71L560.17,754.56L561.48,754.42L562.80,754.28L564.11,754.14L565.42,754.01L566.74,753.89L568.05,753.74L569.37,753.52L570.68,753.17L571.99,752.66L573.31,751.91L574.62,750.90L575.93,749.55L577.25,747.83" fill="none" stroke="#d840d8" stroke-width="1.6"/>
</g>
<rect x="357.6" y="667" width="236.10" height="180.90" fill="none" stroke="#a0a0a0" stroke-width="1.3"/>
<path d="M365.90 847.9v2.5" stroke="#666" stroke-width="0.8"/>
<text x="365.90" y="860.50" font-size="10" text-anchor="middle" fill="#1a1a1a" stroke="#1a1a1a" stroke-width="0.25">0</text>
<path d="M414.88 847.9v2.5" stroke="#666" stroke-width="0.8"/>
<text x="414.88" y="860.50" font-size="10" text-anchor="middle" fill="#1a1a1a" stroke="#1a1a1a" stroke-width="0.25">20</text>
<path d="M463.86 847.9v2.5" stroke="#666" stroke-width="0.8"/>
<text x="463.86" y="860.50" font-size="10" text-anchor="middle" fill="#1a1a1a" stroke="#1a1a1a" stroke-width="0.25">40</text>
<path d="M512.84 847.9v2.5" stroke="#666" stroke-width="0.8"/>
<text x="512.84" y="860.50" font-size="10" text-anchor="middle" fill="#1a1a1a" stroke="#1a1a1a" stroke-width="0.25">60</text>
<path d="M561.82 847.9v2.5" stroke="#666" stroke-width="0.8"/>
<text x="561.82" y="860.50" font-size="10" text-anchor="middle" fill="#1a1a1a" stroke="#1a1a1a" stroke-width="0.25">80</text>
<path d="M355.1 674.80h2.5" stroke="#666" stroke-width="0.8"/>
<text x="353.60" y="678.40" font-size="10" text-anchor="end" fill="#1a1a1a" stroke="#1a1a1a" stroke-width="0.25">0.010</text>
<path d="M355.1 712.20h2.5" stroke="#666" stroke-width="0.8"/>
<text x="353.60" y="715.80" font-size="10" text-anchor="end" fill="#1a1a1a" stroke="#1a1a1a" stroke-width="0.25">0.005</text>
<path d="M355.1 749.60h2.5" stroke="#666" stroke-width="0.8"/>
<text x="353.60" y="753.20" font-size="10" text-anchor="end" fill="#1a1a1a" stroke="#1a1a1a" stroke-width="0.25">0.000</text>
<path d="M355.1 787.00h2.5" stroke="#666" stroke-width="0.8"/>
<text x="353.60" y="790.60" font-size="10" text-anchor="end" fill="#1a1a1a" stroke="#1a1a1a" stroke-width="0.25">−0.005</text>
<path d="M355.1 824.40h2.5" stroke="#666" stroke-width="0.8"/>
<text x="353.60" y="828.00" font-size="10" text-anchor="end" fill="#1a1a1a" stroke="#1a1a1a" stroke-width="0.25">−0.010</text>
<text x="475.00" y="872.00" font-size="11" text-anchor="middle" fill="#1a1a1a" stroke="#1a1a1a" stroke-width="0.25">Distance (<tspan font-style="italic">″</tspan>)</text>
<text x="318.20" y="758.00" font-size="10.5" text-anchor="middle" fill="#1a1a1a" stroke="#1a1a1a" stroke-width="0.25" transform="rotate(-90 318.20 758.00)">Flux (Jy)</text>
<text x="498.70" y="690.30" font-size="11" text-anchor="middle" fill="#b33a3a" stroke="#b33a3a" stroke-width="0.25">Non-detection</text>
</svg></body></html>
